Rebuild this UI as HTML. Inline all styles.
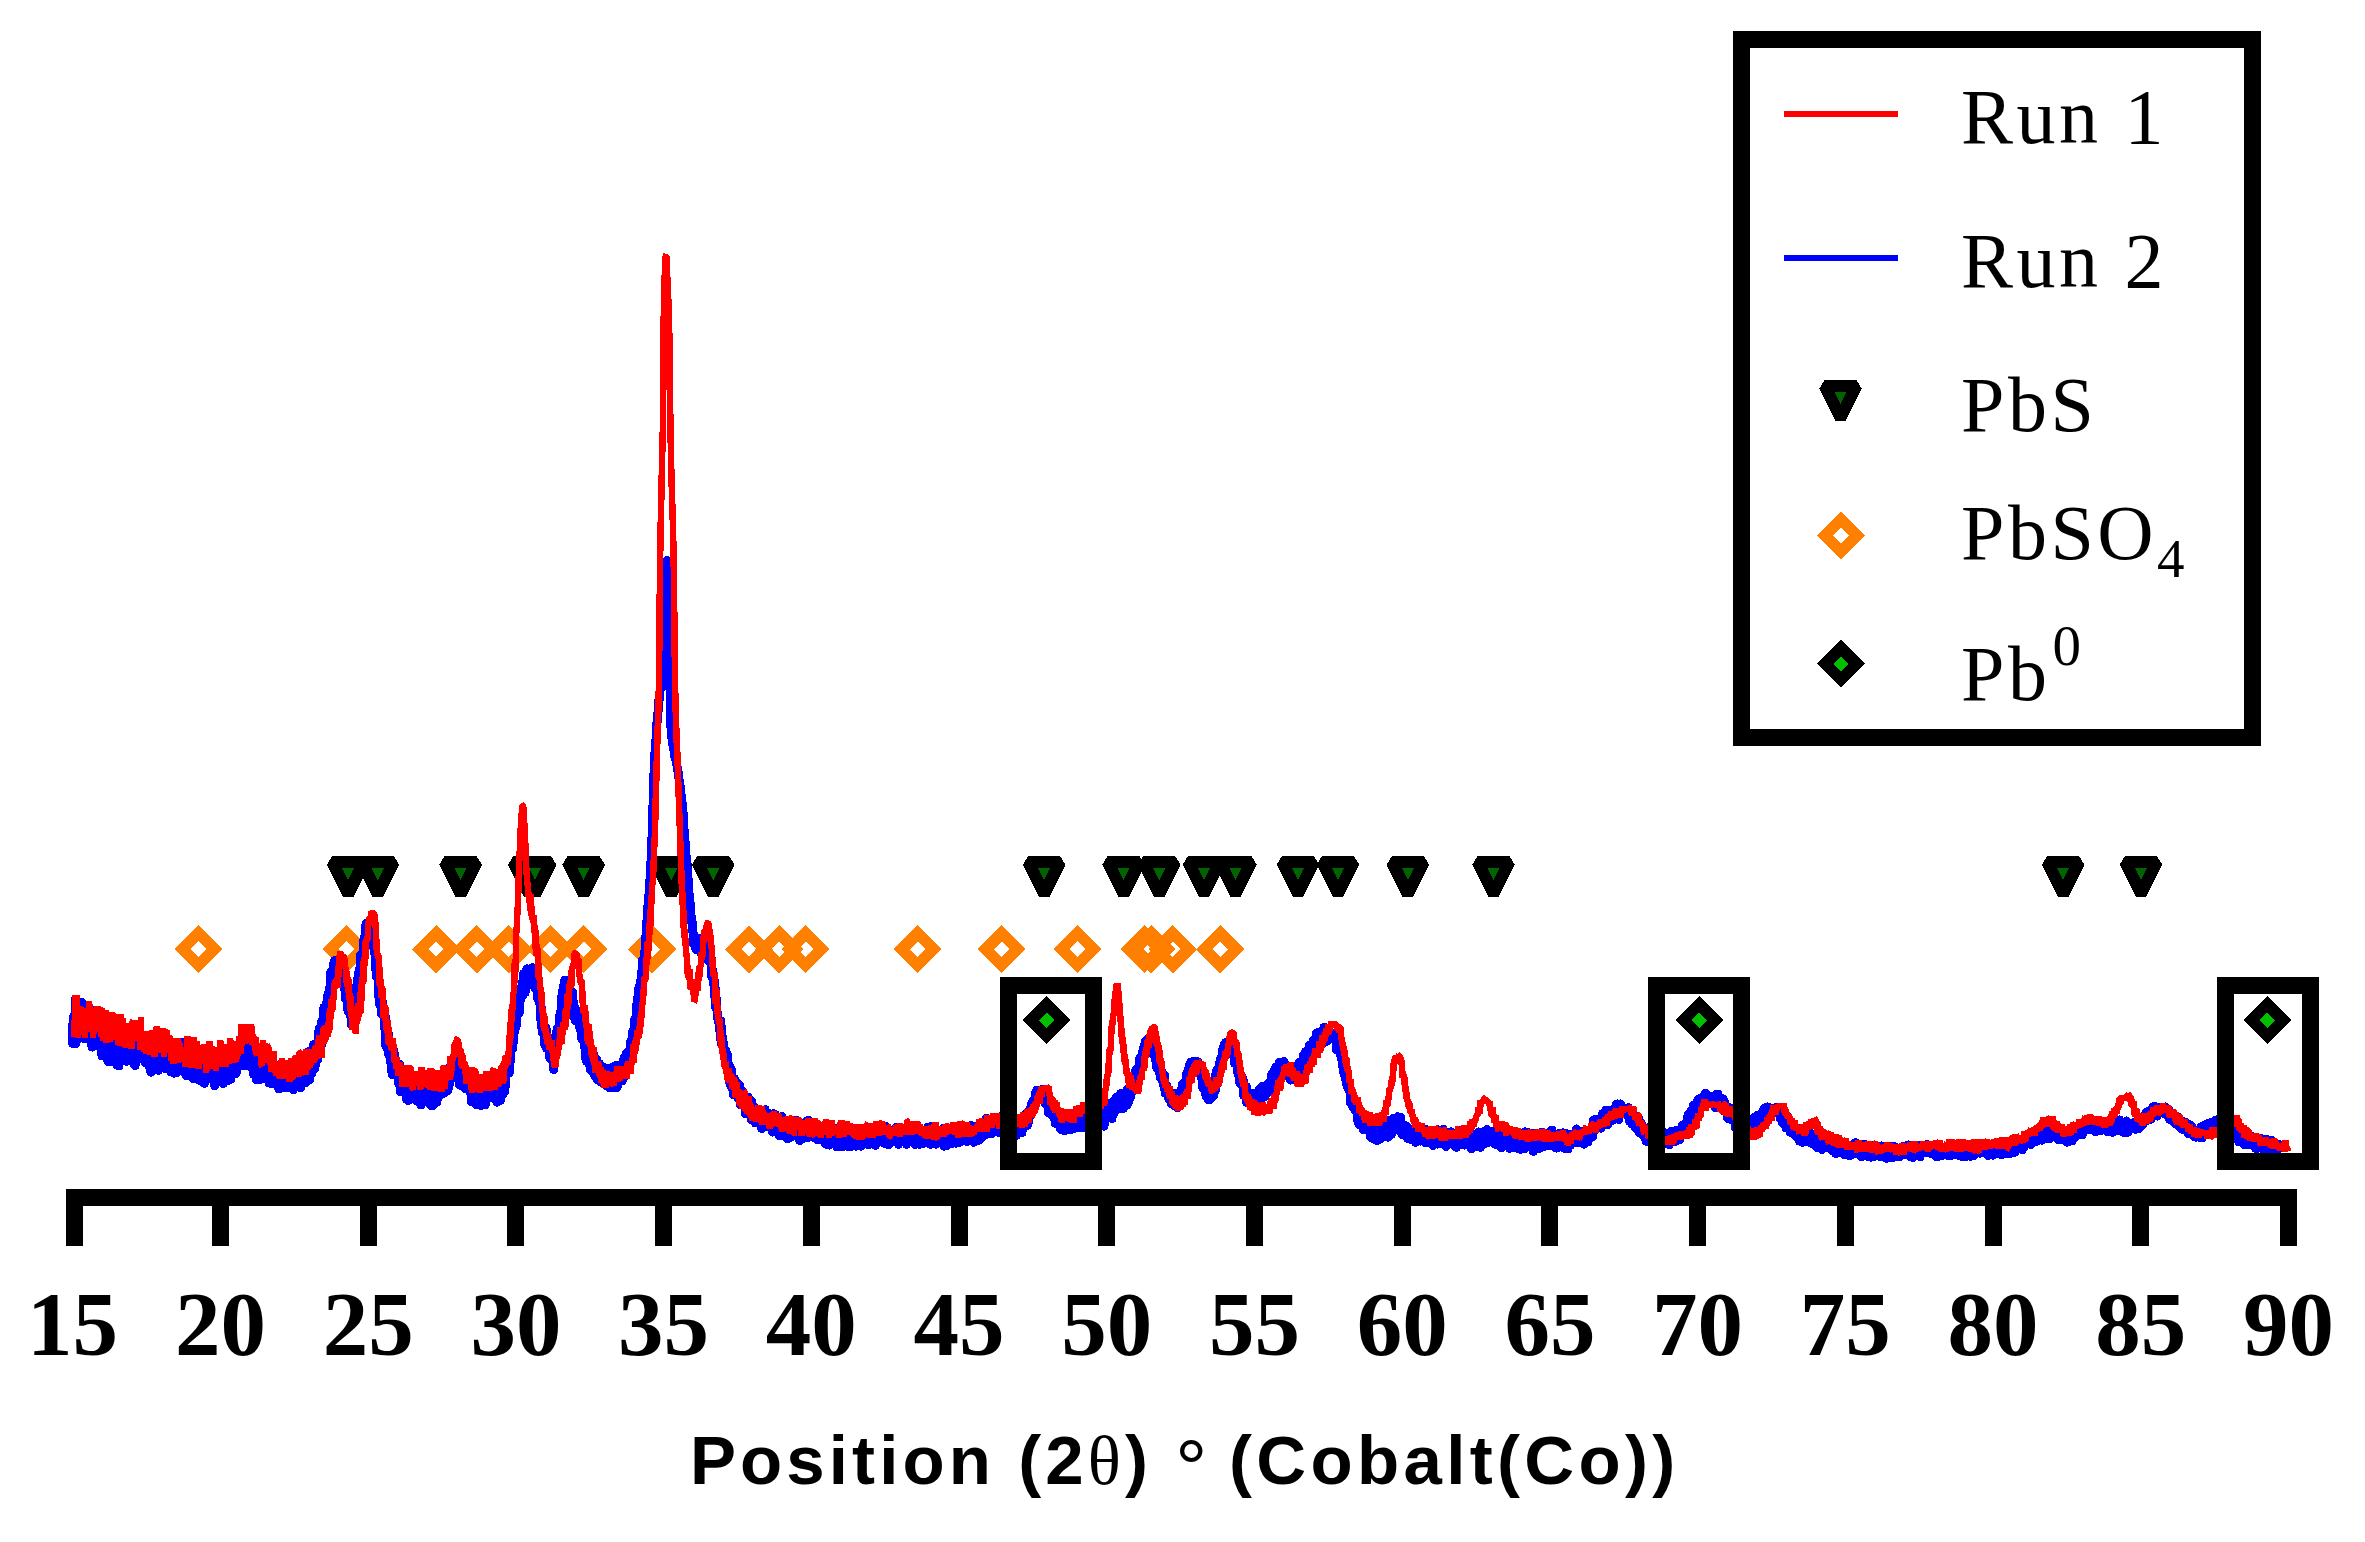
<!DOCTYPE html>
<html><head><meta charset="utf-8"><title>XRD pattern</title>
<style>html,body{margin:0;padding:0;background:#fff;}body{width:2365px;height:1542px;overflow:hidden;}svg{display:block;}</style>
</head><body>
<svg width="2365" height="1542" viewBox="0 0 2365 1542" shape-rendering="crispEdges">
<rect width="2365" height="1542" fill="#fff"/>
<g id="pbs"><polygon points="332.2,862.0 364.0,862.0 348.1,893.8" fill="#006400" stroke="#000" stroke-width="12.15" stroke-linejoin="bevel"/><polygon points="361.9,862.0 393.7,862.0 377.8,893.8" fill="#006400" stroke="#000" stroke-width="12.15" stroke-linejoin="bevel"/><polygon points="444.7,862.0 476.5,862.0 460.6,893.8" fill="#006400" stroke="#000" stroke-width="12.15" stroke-linejoin="bevel"/><polygon points="513.4,862.0 545.2,862.0 529.3,893.8" fill="#006400" stroke="#000" stroke-width="12.15" stroke-linejoin="bevel"/><polygon points="519.2,862.0 551.0,862.0 535.1,893.8" fill="#006400" stroke="#000" stroke-width="12.15" stroke-linejoin="bevel"/><polygon points="567.7,862.0 599.5,862.0 583.6,893.8" fill="#006400" stroke="#000" stroke-width="12.15" stroke-linejoin="bevel"/><polygon points="655.3,862.0 687.1,862.0 671.2,893.8" fill="#006400" stroke="#000" stroke-width="12.15" stroke-linejoin="bevel"/><polygon points="697.3,862.0 729.1,862.0 713.2,893.8" fill="#006400" stroke="#000" stroke-width="12.15" stroke-linejoin="bevel"/><polygon points="1028.2,862.0 1060.0,862.0 1044.1,893.8" fill="#006400" stroke="#000" stroke-width="12.15" stroke-linejoin="bevel"/><polygon points="1107.7,862.0 1139.5,862.0 1123.6,893.8" fill="#006400" stroke="#000" stroke-width="12.15" stroke-linejoin="bevel"/><polygon points="1143.3,862.0 1175.1,862.0 1159.2,893.8" fill="#006400" stroke="#000" stroke-width="12.15" stroke-linejoin="bevel"/><polygon points="1188.1,862.0 1219.9,862.0 1204.0,893.8" fill="#006400" stroke="#000" stroke-width="12.15" stroke-linejoin="bevel"/><polygon points="1219.6,862.0 1251.4,862.0 1235.5,893.8" fill="#006400" stroke="#000" stroke-width="12.15" stroke-linejoin="bevel"/><polygon points="1282.1,862.0 1313.9,862.0 1298.0,893.8" fill="#006400" stroke="#000" stroke-width="12.15" stroke-linejoin="bevel"/><polygon points="1322.1,862.0 1353.9,862.0 1338.0,893.8" fill="#006400" stroke="#000" stroke-width="12.15" stroke-linejoin="bevel"/><polygon points="1392.0,862.0 1423.8,862.0 1407.9,893.8" fill="#006400" stroke="#000" stroke-width="12.15" stroke-linejoin="bevel"/><polygon points="1477.6,862.0 1509.4,862.0 1493.5,893.8" fill="#006400" stroke="#000" stroke-width="12.15" stroke-linejoin="bevel"/><polygon points="2047.2,862.0 2079.0,862.0 2063.1,893.8" fill="#006400" stroke="#000" stroke-width="12.15" stroke-linejoin="bevel"/><polygon points="2125.1,862.0 2156.9,862.0 2141.0,893.8" fill="#006400" stroke="#000" stroke-width="12.15" stroke-linejoin="bevel"/></g>
<g id="pbso4"><polygon points="198.5,933.3 214.4,949.2 198.5,965.1 182.6,949.2" fill="none" stroke="#ff8000" stroke-width="11.6" stroke-linejoin="miter"/><polygon points="346.5,933.3 362.4,949.2 346.5,965.1 330.6,949.2" fill="none" stroke="#ff8000" stroke-width="11.6" stroke-linejoin="miter"/><polygon points="436.1,933.3 452.0,949.2 436.1,965.1 420.2,949.2" fill="none" stroke="#ff8000" stroke-width="11.6" stroke-linejoin="miter"/><polygon points="476.8,933.3 492.7,949.2 476.8,965.1 460.9,949.2" fill="none" stroke="#ff8000" stroke-width="11.6" stroke-linejoin="miter"/><polygon points="508.8,933.3 524.7,949.2 508.8,965.1 492.9,949.2" fill="none" stroke="#ff8000" stroke-width="11.6" stroke-linejoin="miter"/><polygon points="550.3,933.3 566.2,949.2 550.3,965.1 534.4,949.2" fill="none" stroke="#ff8000" stroke-width="11.6" stroke-linejoin="miter"/><polygon points="583.6,933.3 599.5,949.2 583.6,965.1 567.7,949.2" fill="none" stroke="#ff8000" stroke-width="11.6" stroke-linejoin="miter"/><polygon points="652.2,933.3 668.1,949.2 652.2,965.1 636.3,949.2" fill="none" stroke="#ff8000" stroke-width="11.6" stroke-linejoin="miter"/><polygon points="749.0,933.3 764.9,949.2 749.0,965.1 733.1,949.2" fill="none" stroke="#ff8000" stroke-width="11.6" stroke-linejoin="miter"/><polygon points="779.2,933.3 795.1,949.2 779.2,965.1 763.3,949.2" fill="none" stroke="#ff8000" stroke-width="11.6" stroke-linejoin="miter"/><polygon points="805.7,933.3 821.6,949.2 805.7,965.1 789.8,949.2" fill="none" stroke="#ff8000" stroke-width="11.6" stroke-linejoin="miter"/><polygon points="917.7,933.3 933.6,949.2 917.7,965.1 901.8,949.2" fill="none" stroke="#ff8000" stroke-width="11.6" stroke-linejoin="miter"/><polygon points="1001.7,933.3 1017.6,949.2 1001.7,965.1 985.8,949.2" fill="none" stroke="#ff8000" stroke-width="11.6" stroke-linejoin="miter"/><polygon points="1077.5,933.3 1093.4,949.2 1077.5,965.1 1061.6,949.2" fill="none" stroke="#ff8000" stroke-width="11.6" stroke-linejoin="miter"/><polygon points="1144.4,933.3 1160.3,949.2 1144.4,965.1 1128.5,949.2" fill="none" stroke="#ff8000" stroke-width="11.6" stroke-linejoin="miter"/><polygon points="1151.2,933.3 1167.1,949.2 1151.2,965.1 1135.3,949.2" fill="none" stroke="#ff8000" stroke-width="11.6" stroke-linejoin="miter"/><polygon points="1172.8,933.3 1188.7,949.2 1172.8,965.1 1156.9,949.2" fill="none" stroke="#ff8000" stroke-width="11.6" stroke-linejoin="miter"/><polygon points="1220.2,933.3 1236.1,949.2 1220.2,965.1 1204.3,949.2" fill="none" stroke="#ff8000" stroke-width="11.6" stroke-linejoin="miter"/></g>
<path d="M72.0,1025.9 L72.4,1043.3 L72.8,1041.3 L73.2,1017.0 L73.6,1020.5 L74.0,1017.1 L74.4,1031.1 L74.8,1022.1 L75.2,1032.7 L75.6,999.3 L76.0,1043.7 L76.4,1021.8 L76.8,1032.0 L77.2,1021.6 L77.6,1018.8 L78.0,1030.5 L78.4,1035.3 L78.8,1021.6 L79.2,1021.9 L79.6,1033.5 L80.0,1014.6 L80.4,1006.4 L80.8,1030.0 L81.2,1017.7 L81.6,1002.6 L82.0,1016.1 L82.4,1020.8 L82.8,1012.7 L83.2,1009.0 L83.6,1027.6 L84.0,1038.3 L84.4,1024.9 L84.8,1018.7 L85.2,1032.7 L85.6,1036.2 L86.0,1023.3 L86.4,1033.3 L86.8,1038.8 L87.2,1024.1 L87.6,1016.5 L88.0,1030.5 L88.4,1029.7 L88.8,1039.7 L89.2,1012.1 L89.6,1020.6 L90.0,1019.3 L90.4,1009.3 L90.8,1031.4 L91.2,1035.8 L91.6,1021.4 L92.0,1047.1 L92.4,1040.2 L92.8,1038.0 L93.2,1035.5 L93.6,1043.0 L94.0,1016.0 L94.4,1038.5 L94.8,1038.4 L95.2,1011.3 L95.6,1036.0 L96.0,1030.1 L96.4,1041.9 L96.8,1028.3 L97.2,1033.3 L97.6,1038.1 L98.0,1024.2 L98.4,1040.7 L98.8,1033.2 L99.2,1040.1 L99.6,1029.5 L100.0,1047.0 L100.4,1041.7 L100.8,1033.7 L101.2,1043.1 L101.6,1049.3 L102.0,1056.0 L102.4,1020.0 L102.8,1047.0 L103.2,1042.3 L103.6,1037.1 L104.0,1028.3 L104.4,1052.7 L104.8,1026.2 L105.2,1045.8 L105.6,1053.9 L106.0,1024.3 L106.4,1038.6 L106.8,1029.0 L107.2,1045.1 L107.6,1058.1 L108.0,1061.6 L108.4,1025.8 L108.8,1038.2 L109.2,1052.5 L109.6,1061.4 L110.0,1050.0 L110.4,1038.3 L110.8,1048.4 L111.2,1045.7 L111.6,1043.1 L112.0,1038.1 L112.4,1049.2 L112.8,1048.5 L113.2,1045.0 L113.6,1043.8 L114.0,1034.0 L114.4,1042.1 L114.8,1058.3 L115.2,1045.5 L115.6,1034.2 L116.0,1061.2 L116.4,1052.7 L116.8,1065.0 L117.2,1048.4 L117.6,1043.6 L118.0,1035.1 L118.4,1061.4 L118.8,1066.0 L119.2,1041.2 L119.6,1043.2 L120.0,1054.7 L120.4,1041.1 L120.8,1046.3 L121.2,1045.8 L121.6,1050.8 L122.0,1059.5 L122.4,1049.1 L122.8,1057.4 L123.2,1044.6 L123.6,1051.4 L124.0,1030.8 L124.4,1034.1 L124.8,1055.3 L125.2,1042.9 L125.6,1053.8 L126.0,1053.8 L126.4,1061.4 L126.8,1056.5 L127.2,1058.3 L127.6,1048.0 L128.0,1042.6 L128.4,1042.4 L128.8,1044.4 L129.2,1037.5 L129.6,1042.3 L130.0,1045.9 L130.4,1049.1 L130.8,1043.2 L131.2,1029.1 L131.6,1046.2 L132.0,1049.2 L132.4,1057.2 L132.8,1052.4 L133.2,1041.2 L133.6,1040.5 L134.0,1064.3 L134.4,1054.3 L134.8,1064.7 L135.2,1065.6 L135.6,1041.0 L136.0,1052.3 L136.4,1052.8 L136.8,1054.2 L137.2,1053.7 L137.6,1051.0 L138.0,1051.4 L138.4,1034.0 L138.8,1047.4 L139.2,1041.7 L139.6,1050.8 L140.0,1045.1 L140.4,1055.7 L140.8,1058.7 L141.2,1053.8 L141.6,1054.3 L142.0,1052.0 L142.4,1046.7 L142.8,1049.4 L143.2,1046.7 L143.6,1055.3 L144.0,1052.4 L144.4,1058.4 L144.8,1040.6 L145.2,1062.5 L145.6,1046.8 L146.0,1047.1 L146.4,1051.8 L146.8,1048.0 L147.2,1056.6 L147.6,1048.4 L148.0,1043.4 L148.4,1045.7 L148.8,1066.4 L149.2,1054.7 L149.6,1043.4 L150.0,1054.8 L150.4,1040.4 L150.8,1072.2 L151.2,1040.3 L151.6,1060.3 L152.0,1060.9 L152.4,1042.7 L152.8,1059.8 L153.2,1066.8 L153.6,1061.4 L154.0,1059.3 L154.4,1066.4 L154.8,1058.8 L155.2,1059.7 L155.6,1054.4 L156.0,1060.5 L156.4,1045.1 L156.8,1061.2 L157.2,1048.4 L157.6,1043.0 L158.0,1057.3 L158.4,1070.3 L158.8,1063.8 L159.2,1048.8 L159.6,1061.2 L160.0,1049.3 L160.4,1052.4 L160.8,1053.9 L161.2,1035.1 L161.6,1055.0 L162.0,1042.2 L162.4,1045.4 L162.8,1037.7 L163.2,1037.8 L163.6,1043.2 L164.0,1060.3 L164.4,1068.2 L164.8,1051.6 L165.2,1062.8 L165.6,1049.6 L166.0,1034.1 L166.4,1053.7 L166.8,1057.0 L167.2,1048.9 L167.6,1056.2 L168.0,1058.8 L168.4,1044.8 L168.8,1039.0 L169.2,1051.7 L169.6,1051.7 L170.0,1050.2 L170.4,1064.1 L170.8,1071.8 L171.2,1051.2 L171.6,1062.3 L172.0,1064.9 L172.4,1062.5 L172.8,1065.8 L173.2,1051.2 L173.6,1062.3 L174.0,1073.2 L174.4,1063.9 L174.8,1050.1 L175.2,1061.5 L175.6,1068.2 L176.0,1059.5 L176.4,1051.4 L176.8,1072.6 L177.2,1046.2 L177.6,1063.8 L178.0,1058.7 L178.4,1047.0 L178.8,1069.9 L179.2,1062.1 L179.6,1047.3 L180.0,1064.4 L180.4,1054.8 L180.8,1042.0 L181.2,1053.4 L181.6,1062.6 L182.0,1065.9 L182.4,1062.1 L182.8,1061.4 L183.2,1065.8 L183.6,1059.0 L184.0,1072.4 L184.4,1062.8 L184.8,1064.2 L185.2,1066.8 L185.6,1051.0 L186.0,1054.2 L186.4,1075.8 L186.8,1064.1 L187.2,1057.7 L187.6,1063.6 L188.0,1055.3 L188.4,1062.7 L188.8,1054.1 L189.2,1063.3 L189.6,1045.7 L190.0,1073.1 L190.4,1056.4 L190.8,1046.2 L191.2,1059.2 L191.6,1058.0 L192.0,1063.0 L192.4,1050.6 L192.8,1065.4 L193.2,1078.5 L193.6,1050.3 L194.0,1066.0 L194.4,1059.9 L194.8,1064.3 L195.2,1045.7 L195.6,1052.2 L196.0,1067.8 L196.4,1063.0 L196.8,1078.6 L197.2,1056.6 L197.6,1064.3 L198.0,1079.3 L198.4,1055.8 L198.8,1054.6 L199.2,1063.2 L199.6,1063.7 L200.0,1072.5 L200.4,1066.2 L200.8,1058.0 L201.2,1066.3 L201.6,1081.5 L202.0,1076.8 L202.4,1049.7 L202.8,1064.9 L203.2,1058.9 L203.6,1072.4 L204.0,1065.4 L204.4,1083.3 L204.8,1075.6 L205.2,1075.4 L205.6,1069.0 L206.0,1067.0 L206.4,1070.5 L206.8,1079.1 L207.2,1072.7 L207.6,1064.8 L208.0,1079.2 L208.4,1070.1 L208.8,1068.3 L209.2,1062.1 L209.6,1064.3 L210.0,1063.7 L210.4,1053.7 L210.8,1078.7 L211.2,1074.7 L211.6,1067.5 L212.0,1079.0 L212.4,1073.9 L212.8,1073.4 L213.2,1054.2 L213.6,1067.7 L214.0,1074.4 L214.4,1083.6 L214.8,1085.8 L215.2,1082.0 L215.6,1059.1 L216.0,1053.7 L216.4,1074.6 L216.8,1070.5 L217.2,1078.5 L217.6,1069.4 L218.0,1072.9 L218.4,1057.6 L218.8,1074.4 L219.2,1067.1 L219.6,1073.5 L220.0,1074.0 L220.4,1068.6 L220.8,1072.0 L221.2,1069.7 L221.6,1076.7 L222.0,1073.7 L222.4,1064.3 L222.8,1063.5 L223.2,1083.4 L223.6,1066.9 L224.0,1076.2 L224.4,1071.0 L224.8,1063.0 L225.2,1061.4 L225.6,1068.9 L226.0,1069.7 L226.4,1072.4 L226.8,1056.2 L227.2,1061.3 L227.6,1065.3 L228.0,1080.5 L228.4,1050.7 L228.8,1070.1 L229.2,1060.9 L229.6,1069.1 L230.0,1061.2 L230.4,1069.1 L230.8,1079.0 L231.2,1068.2 L231.6,1068.2 L232.0,1067.3 L232.4,1057.4 L232.8,1068.0 L233.2,1061.7 L233.6,1056.3 L234.0,1063.3 L234.4,1060.7 L234.8,1068.4 L235.2,1061.2 L235.6,1056.8 L236.0,1073.4 L236.4,1068.7 L236.8,1071.0 L237.2,1064.8 L237.6,1058.3 L238.0,1055.0 L238.4,1055.7 L238.8,1065.1 L239.2,1057.3 L239.6,1043.1 L240.0,1055.2 L240.4,1042.6 L240.8,1055.5 L241.2,1042.9 L241.6,1041.2 L242.0,1052.4 L242.4,1050.3 L242.8,1036.6 L243.2,1057.1 L243.6,1065.9 L244.0,1037.5 L244.4,1065.9 L244.8,1044.5 L245.2,1045.9 L245.6,1049.2 L246.0,1038.1 L246.4,1062.0 L246.8,1056.2 L247.2,1045.8 L247.6,1050.2 L248.0,1039.9 L248.4,1050.4 L248.8,1061.6 L249.2,1039.4 L249.6,1051.1 L250.0,1056.6 L250.4,1064.7 L250.8,1066.8 L251.2,1052.4 L251.6,1050.4 L252.0,1061.8 L252.4,1055.4 L252.8,1056.9 L253.2,1068.9 L253.6,1074.4 L254.0,1062.5 L254.4,1058.8 L254.8,1066.8 L255.2,1046.9 L255.6,1062.6 L256.0,1054.6 L256.4,1079.6 L256.8,1071.3 L257.2,1066.7 L257.6,1063.9 L258.0,1050.3 L258.4,1071.8 L258.8,1079.5 L259.2,1060.8 L259.6,1073.6 L260.0,1073.8 L260.4,1054.5 L260.8,1075.5 L261.2,1079.2 L261.6,1070.3 L262.0,1068.4 L262.4,1075.7 L262.8,1056.4 L263.2,1069.8 L263.6,1078.0 L264.0,1058.9 L264.4,1077.3 L264.8,1066.0 L265.2,1054.6 L265.6,1069.4 L266.0,1061.6 L266.4,1073.1 L266.8,1060.6 L267.2,1079.4 L267.6,1064.7 L268.0,1074.8 L268.4,1067.3 L268.8,1069.9 L269.2,1083.1 L269.6,1075.7 L270.0,1070.7 L270.4,1063.7 L270.8,1083.6 L271.2,1080.4 L271.6,1071.5 L272.0,1076.8 L272.4,1065.9 L272.8,1066.5 L273.2,1067.9 L273.6,1078.5 L274.0,1078.2 L274.4,1069.7 L274.8,1082.7 L275.2,1082.8 L275.6,1078.1 L276.0,1084.8 L276.4,1073.8 L276.8,1075.6 L277.2,1080.0 L277.6,1075.4 L278.0,1082.6 L278.4,1066.0 L278.8,1088.8 L279.2,1070.4 L279.6,1075.3 L280.0,1064.9 L280.4,1081.3 L280.8,1086.8 L281.2,1085.4 L281.6,1084.1 L282.0,1064.4 L282.4,1070.8 L282.8,1073.6 L283.2,1070.2 L283.6,1087.8 L284.0,1080.4 L284.4,1078.7 L284.8,1083.2 L285.2,1071.0 L285.6,1070.9 L286.0,1071.2 L286.4,1082.8 L286.8,1081.4 L287.2,1083.7 L287.6,1087.9 L288.0,1067.7 L288.4,1074.0 L288.8,1079.9 L289.2,1067.6 L289.6,1074.5 L290.0,1086.8 L290.4,1087.5 L290.8,1087.4 L291.2,1078.9 L291.6,1077.1 L292.0,1087.6 L292.4,1075.7 L292.8,1081.7 L293.2,1089.7 L293.6,1075.6 L294.0,1073.3 L294.4,1078.2 L294.8,1083.2 L295.2,1082.0 L295.6,1079.5 L296.0,1082.2 L296.4,1064.5 L296.8,1069.4 L297.2,1077.8 L297.6,1068.9 L298.0,1065.5 L298.4,1066.2 L298.8,1067.9 L299.2,1073.4 L299.6,1066.2 L300.0,1076.4 L300.4,1087.9 L300.8,1073.0 L301.2,1084.8 L301.6,1076.3 L302.0,1064.7 L302.4,1071.9 L302.8,1065.8 L303.2,1080.0 L303.6,1063.5 L304.0,1082.9 L304.4,1075.5 L304.8,1055.6 L305.2,1076.7 L305.6,1082.4 L306.0,1062.7 L306.4,1077.0 L306.8,1054.4 L307.2,1071.1 L307.6,1054.6 L308.0,1071.4 L308.4,1052.1 L308.8,1051.3 L309.2,1068.7 L309.6,1079.7 L310.0,1059.2 L310.4,1069.9 L310.8,1063.3 L311.2,1058.9 L311.6,1065.6 L312.0,1072.9 L312.4,1049.1 L312.8,1062.3 L313.2,1059.7 L313.6,1044.5 L314.0,1068.1 L314.4,1069.2 L314.8,1045.4 L315.2,1065.6 L315.6,1051.0 L316.0,1048.2 L316.4,1061.2 L316.8,1050.4 L317.2,1051.1 L317.6,1059.4 L318.0,1056.0 L318.4,1051.8 L318.8,1032.0 L319.2,1029.0 L319.6,1049.3 L320.0,1031.3 L320.4,1038.5 L320.8,1027.3 L321.2,1032.8 L321.6,1021.9 L322.0,1043.6 L322.4,1020.1 L322.8,1025.1 L323.2,1022.1 L323.6,1030.9 L324.0,1007.2 L324.4,1015.9 L324.8,1013.1 L325.2,1016.9 L325.6,1014.0 L326.0,1004.8 L326.4,1009.3 L326.8,1001.9 L327.2,1006.2 L327.6,999.4 L328.0,993.9 L328.4,996.7 L328.8,997.9 L329.2,1007.4 L329.6,987.6 L330.0,991.9 L330.4,999.9 L330.8,972.2 L331.2,971.5 L331.6,974.3 L332.0,981.9 L332.4,995.9 L332.8,983.2 L333.2,988.1 L333.6,975.6 L334.0,961.8 L334.4,960.7 L334.8,981.5 L335.2,974.3 L335.6,962.4 L336.0,979.3 L336.4,959.9 L336.8,976.6 L337.2,977.0 L337.6,963.2 L338.0,961.2 L338.4,969.1 L338.8,961.0 L339.2,966.5 L339.6,960.8 L340.0,964.9 L340.4,963.3 L340.8,962.4 L341.2,961.9 L341.6,965.8 L342.0,960.7 L342.4,967.7 L342.8,969.2 L343.2,977.0 L343.6,968.2 L344.0,988.3 L344.4,977.7 L344.8,974.5 L345.2,994.7 L345.6,999.3 L346.0,987.8 L346.4,984.7 L346.8,993.3 L347.2,990.6 L347.6,995.2 L348.0,1011.3 L348.4,1003.5 L348.8,1003.5 L349.2,1007.1 L349.6,1006.0 L350.0,1014.2 L350.4,1015.7 L350.8,1006.8 L351.2,1011.5 L351.6,1025.1 L352.0,1014.3 L352.4,1008.4 L352.8,1022.6 L353.2,1007.4 L353.6,997.4 L354.0,1009.7 L354.4,996.5 L354.8,998.0 L355.2,1002.4 L355.6,997.4 L356.0,990.2 L356.4,989.2 L356.8,985.6 L357.2,996.2 L357.6,979.0 L358.0,977.4 L358.4,993.0 L358.8,972.4 L359.2,985.6 L359.6,981.7 L360.0,967.8 L360.4,955.6 L360.8,967.1 L361.2,965.7 L361.6,966.1 L362.0,956.8 L362.4,962.9 L362.8,961.7 L363.2,941.1 L363.6,956.7 L364.0,945.1 L364.4,937.4 L364.8,937.2 L365.2,947.9 L365.6,940.1 L366.0,923.7 L366.4,932.2 L366.8,929.9 L367.2,928.8 L367.6,926.8 L368.0,923.8 L368.4,928.1 L368.8,924.2 L369.2,925.2 L369.6,924.8 L370.0,925.0 L370.4,930.4 L370.8,930.7 L371.2,927.8 L371.6,927.0 L372.0,930.7 L372.4,941.0 L372.8,938.5 L373.2,942.2 L373.6,941.5 L374.0,945.4 L374.4,952.0 L374.8,940.0 L375.2,968.6 L375.6,954.1 L376.0,958.6 L376.4,976.6 L376.8,971.1 L377.2,973.8 L377.6,972.6 L378.0,969.2 L378.4,986.1 L378.8,996.7 L379.2,984.0 L379.6,1004.2 L380.0,988.8 L380.4,994.5 L380.8,1006.9 L381.2,1005.8 L381.6,1013.6 L382.0,1005.2 L382.4,1005.8 L382.8,1002.9 L383.2,1009.9 L383.6,1013.0 L384.0,1012.4 L384.4,1027.8 L384.8,1022.7 L385.2,1016.4 L385.6,1045.6 L386.0,1028.5 L386.4,1027.1 L386.8,1046.8 L387.2,1048.4 L387.6,1033.0 L388.0,1032.0 L388.4,1037.7 L388.8,1054.9 L389.2,1046.3 L389.6,1044.0 L390.0,1052.1 L390.4,1062.3 L390.8,1045.2 L391.2,1054.1 L391.6,1048.2 L392.0,1073.2 L392.4,1074.5 L392.8,1068.8 L393.2,1062.0 L393.6,1068.7 L394.0,1051.5 L394.4,1068.0 L394.8,1057.3 L395.2,1059.0 L395.6,1064.2 L396.0,1067.4 L396.4,1074.4 L396.8,1076.0 L397.2,1074.2 L397.6,1066.5 L398.0,1079.3 L398.4,1073.9 L398.8,1083.6 L399.2,1069.4 L399.6,1064.1 L400.0,1074.5 L400.4,1091.8 L400.8,1083.3 L401.2,1078.6 L401.6,1087.1 L402.0,1085.3 L402.4,1085.7 L402.8,1078.9 L403.2,1082.9 L403.6,1083.8 L404.0,1078.4 L404.4,1075.6 L404.8,1084.6 L405.2,1091.4 L405.6,1089.7 L406.0,1088.4 L406.4,1089.3 L406.8,1099.6 L407.2,1089.1 L407.6,1094.9 L408.0,1100.6 L408.4,1087.9 L408.8,1089.4 L409.2,1095.0 L409.6,1099.5 L410.0,1089.9 L410.4,1090.7 L410.8,1088.9 L411.2,1079.5 L411.6,1095.9 L412.0,1086.5 L412.4,1076.8 L412.8,1087.8 L413.2,1077.1 L413.6,1082.6 L414.0,1089.8 L414.4,1083.6 L414.8,1097.8 L415.2,1079.6 L415.6,1091.6 L416.0,1093.9 L416.4,1100.7 L416.8,1097.5 L417.2,1092.9 L417.6,1091.7 L418.0,1090.8 L418.4,1099.0 L418.8,1086.7 L419.2,1095.1 L419.6,1091.0 L420.0,1093.6 L420.4,1090.1 L420.8,1104.9 L421.2,1087.4 L421.6,1093.9 L422.0,1094.0 L422.4,1096.3 L422.8,1095.3 L423.2,1095.5 L423.6,1099.8 L424.0,1082.9 L424.4,1093.0 L424.8,1084.1 L425.2,1094.3 L425.6,1084.5 L426.0,1086.1 L426.4,1092.6 L426.8,1102.0 L427.2,1095.9 L427.6,1094.0 L428.0,1102.0 L428.4,1085.5 L428.8,1079.4 L429.2,1089.1 L429.6,1090.0 L430.0,1100.8 L430.4,1104.9 L430.8,1083.2 L431.2,1105.5 L431.6,1104.0 L432.0,1099.0 L432.4,1095.5 L432.8,1105.4 L433.2,1093.5 L433.6,1089.6 L434.0,1093.6 L434.4,1083.6 L434.8,1096.2 L435.2,1091.8 L435.6,1095.1 L436.0,1095.5 L436.4,1085.3 L436.8,1102.2 L437.2,1085.7 L437.6,1099.0 L438.0,1081.8 L438.4,1094.8 L438.8,1086.6 L439.2,1092.3 L439.6,1087.3 L440.0,1079.0 L440.4,1083.5 L440.8,1090.9 L441.2,1094.3 L441.6,1079.1 L442.0,1076.0 L442.4,1082.4 L442.8,1086.5 L443.2,1083.2 L443.6,1081.3 L444.0,1092.3 L444.4,1092.9 L444.8,1091.5 L445.2,1079.6 L445.6,1086.2 L446.0,1083.6 L446.4,1074.2 L446.8,1089.3 L447.2,1083.6 L447.6,1078.9 L448.0,1090.4 L448.4,1084.5 L448.8,1084.2 L449.2,1085.5 L449.6,1080.8 L450.0,1066.3 L450.4,1070.8 L450.8,1079.5 L451.2,1065.8 L451.6,1070.2 L452.0,1071.0 L452.4,1077.5 L452.8,1074.8 L453.2,1071.0 L453.6,1062.8 L454.0,1069.9 L454.4,1066.5 L454.8,1061.4 L455.2,1072.2 L455.6,1066.5 L456.0,1058.0 L456.4,1072.7 L456.8,1063.3 L457.2,1070.2 L457.6,1057.1 L458.0,1068.7 L458.4,1063.2 L458.8,1064.5 L459.2,1059.4 L459.6,1085.2 L460.0,1072.1 L460.4,1075.7 L460.8,1082.6 L461.2,1075.1 L461.6,1080.2 L462.0,1068.3 L462.4,1080.3 L462.8,1076.4 L463.2,1083.5 L463.6,1082.1 L464.0,1072.1 L464.4,1070.0 L464.8,1076.3 L465.2,1088.6 L465.6,1086.8 L466.0,1087.2 L466.4,1072.5 L466.8,1072.8 L467.2,1081.6 L467.6,1083.2 L468.0,1081.5 L468.4,1089.0 L468.8,1085.6 L469.2,1078.7 L469.6,1081.0 L470.0,1088.9 L470.4,1088.4 L470.8,1088.2 L471.2,1101.6 L471.6,1087.4 L472.0,1090.2 L472.4,1083.1 L472.8,1087.6 L473.2,1094.1 L473.6,1094.4 L474.0,1089.7 L474.4,1093.7 L474.8,1091.7 L475.2,1078.6 L475.6,1079.0 L476.0,1104.6 L476.4,1098.3 L476.8,1092.6 L477.2,1081.2 L477.6,1084.0 L478.0,1102.0 L478.4,1080.0 L478.8,1090.4 L479.2,1098.9 L479.6,1093.9 L480.0,1098.2 L480.4,1092.5 L480.8,1105.6 L481.2,1086.3 L481.6,1084.2 L482.0,1096.0 L482.4,1104.3 L482.8,1094.3 L483.2,1102.3 L483.6,1091.7 L484.0,1086.5 L484.4,1104.2 L484.8,1105.0 L485.2,1104.6 L485.6,1091.1 L486.0,1086.4 L486.4,1085.9 L486.8,1091.7 L487.2,1097.2 L487.6,1097.0 L488.0,1083.8 L488.4,1095.2 L488.8,1093.8 L489.2,1094.3 L489.6,1093.5 L490.0,1092.4 L490.4,1097.5 L490.8,1094.3 L491.2,1094.4 L491.6,1087.5 L492.0,1095.2 L492.4,1091.5 L492.8,1079.5 L493.2,1094.8 L493.6,1089.3 L494.0,1097.4 L494.4,1089.3 L494.8,1089.9 L495.2,1091.6 L495.6,1090.0 L496.0,1086.6 L496.4,1077.1 L496.8,1102.2 L497.2,1078.7 L497.6,1087.2 L498.0,1093.8 L498.4,1092.1 L498.8,1093.2 L499.2,1094.4 L499.6,1097.4 L500.0,1090.5 L500.4,1100.2 L500.8,1080.6 L501.2,1089.2 L501.6,1084.2 L502.0,1082.7 L502.4,1087.4 L502.8,1094.6 L503.2,1078.2 L503.6,1077.0 L504.0,1085.7 L504.4,1083.7 L504.8,1090.9 L505.2,1084.6 L505.6,1077.6 L506.0,1072.3 L506.4,1073.9 L506.8,1070.0 L507.2,1060.5 L507.6,1068.5 L508.0,1065.6 L508.4,1063.5 L508.8,1060.0 L509.2,1072.7 L509.6,1064.0 L510.0,1063.2 L510.4,1050.7 L510.8,1045.9 L511.2,1048.6 L511.6,1050.2 L512.0,1044.1 L512.4,1042.5 L512.8,1048.1 L513.2,1041.2 L513.6,1030.0 L514.0,1031.8 L514.4,1027.5 L514.8,1031.2 L515.2,1019.1 L515.6,1023.5 L516.0,1026.9 L516.4,1019.4 L516.8,1011.1 L517.2,1010.5 L517.6,1013.3 L518.0,1013.6 L518.4,1014.3 L518.8,1005.2 L519.2,995.3 L519.6,1011.8 L520.0,1001.8 L520.4,1000.2 L520.8,998.4 L521.2,987.5 L521.6,990.2 L522.0,992.2 L522.4,995.8 L522.8,987.9 L523.2,974.0 L523.6,983.8 L524.0,986.6 L524.4,991.7 L524.8,986.2 L525.2,992.3 L525.6,988.2 L526.0,986.5 L526.4,983.2 L526.8,968.8 L527.2,980.8 L527.6,978.5 L528.0,972.2 L528.4,976.1 L528.8,974.7 L529.2,971.3 L529.6,971.9 L530.0,971.4 L530.4,972.2 L530.8,970.8 L531.2,972.5 L531.6,968.1 L532.0,971.4 L532.4,967.6 L532.8,971.4 L533.2,975.7 L533.6,974.9 L534.0,975.6 L534.4,977.8 L534.8,988.0 L535.2,973.2 L535.6,987.0 L536.0,973.8 L536.4,982.4 L536.8,988.8 L537.2,984.2 L537.6,993.6 L538.0,999.4 L538.4,988.8 L538.8,998.3 L539.2,998.8 L539.6,991.3 L540.0,1004.4 L540.4,1002.9 L540.8,1019.8 L541.2,1007.6 L541.6,1027.0 L542.0,1014.6 L542.4,1032.9 L542.8,1026.7 L543.2,1028.3 L543.6,1033.0 L544.0,1035.9 L544.4,1040.9 L544.8,1045.1 L545.2,1033.8 L545.6,1030.0 L546.0,1028.2 L546.4,1039.5 L546.8,1048.7 L547.2,1047.9 L547.6,1047.9 L548.0,1046.2 L548.4,1045.6 L548.8,1048.9 L549.2,1054.3 L549.6,1040.9 L550.0,1058.5 L550.4,1045.0 L550.8,1054.7 L551.2,1052.2 L551.6,1054.5 L552.0,1050.4 L552.4,1050.0 L552.8,1056.3 L553.2,1050.5 L553.6,1069.4 L554.0,1053.1 L554.4,1050.0 L554.8,1048.7 L555.2,1043.1 L555.6,1035.8 L556.0,1043.7 L556.4,1045.0 L556.8,1030.8 L557.2,1038.6 L557.6,1028.2 L558.0,1033.0 L558.4,1032.5 L558.8,1030.2 L559.2,1027.0 L559.6,1016.2 L560.0,1023.1 L560.4,1011.7 L560.8,1014.1 L561.2,1013.8 L561.6,1003.8 L562.0,994.9 L562.4,1002.9 L562.8,990.3 L563.2,988.6 L563.6,985.6 L564.0,991.9 L564.4,986.2 L564.8,980.0 L565.2,985.5 L565.6,986.1 L566.0,984.8 L566.4,980.4 L566.8,981.5 L567.2,983.0 L567.6,985.0 L568.0,983.9 L568.4,981.2 L568.8,989.2 L569.2,990.5 L569.6,982.4 L570.0,988.4 L570.4,993.2 L570.8,993.0 L571.2,997.5 L571.6,1001.0 L572.0,1001.2 L572.4,998.8 L572.8,992.3 L573.2,1006.7 L573.6,1013.2 L574.0,1017.4 L574.4,1007.0 L574.8,1008.6 L575.2,1019.5 L575.6,1021.1 L576.0,1015.4 L576.4,1019.1 L576.8,1010.9 L577.2,1021.2 L577.6,1013.3 L578.0,1018.6 L578.4,1020.2 L578.8,1019.4 L579.2,1012.4 L579.6,1019.7 L580.0,1029.0 L580.4,1028.0 L580.8,1027.2 L581.2,1033.5 L581.6,1036.6 L582.0,1039.3 L582.4,1030.4 L582.8,1037.0 L583.2,1035.6 L583.6,1033.9 L584.0,1031.5 L584.4,1041.3 L584.8,1037.7 L585.2,1057.1 L585.6,1046.0 L586.0,1046.5 L586.4,1046.4 L586.8,1061.6 L587.2,1045.5 L587.6,1051.5 L588.0,1049.0 L588.4,1054.6 L588.8,1056.4 L589.2,1064.4 L589.6,1048.8 L590.0,1058.6 L590.4,1070.0 L590.8,1057.1 L591.2,1060.2 L591.6,1056.6 L592.0,1051.4 L592.4,1063.3 L592.8,1072.5 L593.2,1062.7 L593.6,1054.6 L594.0,1069.2 L594.4,1069.1 L594.8,1075.5 L595.2,1075.6 L595.6,1068.5 L596.0,1073.1 L596.4,1059.5 L596.8,1078.9 L597.2,1073.4 L597.6,1079.8 L598.0,1080.2 L598.4,1072.3 L598.8,1073.6 L599.2,1069.6 L599.6,1063.9 L600.0,1075.2 L600.4,1077.6 L600.8,1070.4 L601.2,1082.0 L601.6,1078.7 L602.0,1080.9 L602.4,1073.3 L602.8,1066.8 L603.2,1083.4 L603.6,1083.0 L604.0,1078.7 L604.4,1076.9 L604.8,1078.2 L605.2,1079.2 L605.6,1076.7 L606.0,1068.5 L606.4,1085.5 L606.8,1070.8 L607.2,1078.6 L607.6,1078.4 L608.0,1081.9 L608.4,1069.7 L608.8,1087.4 L609.2,1083.8 L609.6,1084.4 L610.0,1087.7 L610.4,1074.5 L610.8,1068.1 L611.2,1082.1 L611.6,1087.7 L612.0,1086.6 L612.4,1075.5 L612.8,1077.8 L613.2,1080.1 L613.6,1066.7 L614.0,1073.9 L614.4,1073.4 L614.8,1087.1 L615.2,1072.7 L615.6,1086.4 L616.0,1076.4 L616.4,1065.4 L616.8,1087.4 L617.2,1069.1 L617.6,1079.2 L618.0,1085.3 L618.4,1071.0 L618.8,1066.3 L619.2,1080.7 L619.6,1074.2 L620.0,1066.0 L620.4,1066.3 L620.8,1069.9 L621.2,1077.7 L621.6,1069.6 L622.0,1074.8 L622.4,1080.7 L622.8,1078.3 L623.2,1078.6 L623.6,1076.5 L624.0,1057.7 L624.4,1074.5 L624.8,1068.4 L625.2,1064.9 L625.6,1058.2 L626.0,1054.0 L626.4,1055.7 L626.8,1061.0 L627.2,1052.9 L627.6,1053.8 L628.0,1053.6 L628.4,1060.2 L628.8,1052.5 L629.2,1051.9 L629.6,1059.8 L630.0,1048.0 L630.4,1052.1 L630.8,1040.6 L631.2,1047.7 L631.6,1044.2 L632.0,1042.6 L632.4,1036.7 L632.8,1031.4 L633.2,1033.8 L633.6,1030.4 L634.0,1037.6 L634.4,1034.8 L634.8,1019.3 L635.2,1028.0 L635.6,1018.8 L636.0,1021.7 L636.4,1012.9 L636.8,1003.8 L637.2,1016.2 L637.6,1009.7 L638.0,995.8 L638.4,989.3 L638.8,994.2 L639.2,986.9 L639.6,988.4 L640.0,991.7 L640.4,993.9 L640.8,980.1 L641.2,988.3 L641.6,984.1 L642.0,970.9 L642.4,960.6 L642.8,973.3 L643.2,968.2 L643.6,972.9 L644.0,967.4 L644.4,959.7 L644.8,961.5 L645.2,939.9 L645.6,943.3 L646.0,935.4 L646.4,942.6 L646.8,930.2 L647.2,911.4 L647.6,923.7 L648.0,905.5 L648.4,908.4 L648.8,896.1 L649.2,893.4 L649.6,888.7 L650.0,879.2 L650.4,867.0 L650.8,868.0 L651.2,855.2 L651.6,844.6 L652.0,837.1 L652.4,822.3 L652.8,814.2 L653.2,796.7 L653.6,784.1 L654.0,773.7 L654.4,763.1 L654.8,754.9 L655.2,750.4 L655.6,744.2 L656.0,739.8 L656.4,732.4 L656.8,724.1 L657.2,721.7 L657.6,717.3 L658.0,712.6 L658.4,706.9 L658.8,699.8 L659.2,700.3 L659.6,693.1 L660.0,691.7 L660.4,683.6 L660.8,683.5 L661.2,675.6 L661.6,673.4 L662.0,668.6 L662.4,661.2 L662.8,650.5 L663.2,643.9 L663.6,636.7 L664.0,630.9 L664.4,621.7 L664.8,612.3 L665.2,602.7 L665.6,592.1 L666.0,580.1 L666.4,570.5 L666.8,560.6 L667.2,560.7 L667.6,568.5 L668.0,579.3 L668.4,594.7 L668.8,622.8 L669.2,651.5 L669.6,671.6 L670.0,690.3 L670.4,712.9 L670.8,724.5 L671.2,731.0 L671.6,734.1 L672.0,739.1 L672.4,741.7 L672.8,743.9 L673.2,746.7 L673.6,747.5 L674.0,750.1 L674.4,755.5 L674.8,754.6 L675.2,758.4 L675.6,759.3 L676.0,760.4 L676.4,762.5 L676.8,763.9 L677.2,767.5 L677.6,768.6 L678.0,771.2 L678.4,776.7 L678.8,776.6 L679.2,781.4 L679.6,782.3 L680.0,786.0 L680.4,786.2 L680.8,790.5 L681.2,796.6 L681.6,798.1 L682.0,802.0 L682.4,804.9 L682.8,811.4 L683.2,813.2 L683.6,819.6 L684.0,828.7 L684.4,835.7 L684.8,838.0 L685.2,844.4 L685.6,849.4 L686.0,855.6 L686.4,857.5 L686.8,862.0 L687.2,871.8 L687.6,870.4 L688.0,878.3 L688.4,884.4 L688.8,887.2 L689.2,897.4 L689.6,898.5 L690.0,904.1 L690.4,904.0 L690.8,909.4 L691.2,919.0 L691.6,921.9 L692.0,921.2 L692.4,928.7 L692.8,930.8 L693.2,933.5 L693.6,944.1 L694.0,935.5 L694.4,942.2 L694.8,943.9 L695.2,941.8 L695.6,937.7 L696.0,949.5 L696.4,947.7 L696.8,947.3 L697.2,947.9 L697.6,948.5 L698.0,943.3 L698.4,950.1 L698.8,938.2 L699.2,948.4 L699.6,939.7 L700.0,946.6 L700.4,952.1 L700.8,945.8 L701.2,943.8 L701.6,949.6 L702.0,944.8 L702.4,944.1 L702.8,944.4 L703.2,955.4 L703.6,950.7 L704.0,949.8 L704.4,939.8 L704.8,950.2 L705.2,939.7 L705.6,949.9 L706.0,941.2 L706.4,958.8 L706.8,938.7 L707.2,955.7 L707.6,953.6 L708.0,940.0 L708.4,949.9 L708.8,960.9 L709.2,960.6 L709.6,945.7 L710.0,954.2 L710.4,952.3 L710.8,954.8 L711.2,959.2 L711.6,976.6 L712.0,968.9 L712.4,969.5 L712.8,971.9 L713.2,980.9 L713.6,984.5 L714.0,978.1 L714.4,995.4 L714.8,983.4 L715.2,991.0 L715.6,998.5 L716.0,1008.7 L716.4,999.1 L716.8,1006.0 L717.2,1015.1 L717.6,1013.9 L718.0,1019.8 L718.4,1022.1 L718.8,1020.6 L719.2,1025.4 L719.6,1029.8 L720.0,1026.7 L720.4,1038.6 L720.8,1021.0 L721.2,1028.0 L721.6,1044.5 L722.0,1040.8 L722.4,1036.6 L722.8,1044.5 L723.2,1050.7 L723.6,1043.1 L724.0,1052.7 L724.4,1049.3 L724.8,1051.5 L725.2,1053.9 L725.6,1062.3 L726.0,1051.3 L726.4,1057.4 L726.8,1065.0 L727.2,1055.5 L727.6,1055.0 L728.0,1069.1 L728.4,1067.2 L728.8,1068.1 L729.2,1071.2 L729.6,1066.0 L730.0,1083.8 L730.4,1069.0 L730.8,1073.4 L731.2,1069.0 L731.6,1076.0 L732.0,1088.4 L732.4,1080.9 L732.8,1085.6 L733.2,1080.5 L733.6,1094.8 L734.0,1086.2 L734.4,1078.8 L734.8,1091.1 L735.2,1085.2 L735.6,1092.1 L736.0,1090.3 L736.4,1091.7 L736.8,1092.0 L737.2,1086.6 L737.6,1083.5 L738.0,1098.3 L738.4,1092.7 L738.8,1096.0 L739.2,1092.3 L739.6,1085.4 L740.0,1088.9 L740.4,1104.9 L740.8,1093.0 L741.2,1096.3 L741.6,1090.4 L742.0,1096.2 L742.4,1097.6 L742.8,1099.1 L743.2,1100.5 L743.6,1097.6 L744.0,1098.4 L744.4,1102.2 L744.8,1104.6 L745.2,1102.7 L745.6,1113.9 L746.0,1105.6 L746.4,1105.6 L746.8,1101.6 L747.2,1111.3 L747.6,1100.1 L748.0,1097.2 L748.4,1101.2 L748.8,1110.6 L749.2,1100.8 L749.6,1115.2 L750.0,1108.4 L750.4,1100.3 L750.8,1108.1 L751.2,1119.8 L751.6,1105.0 L752.0,1102.5 L752.4,1113.0 L752.8,1117.9 L753.2,1116.6 L753.6,1109.3 L754.0,1112.5 L754.4,1113.4 L754.8,1118.8 L755.2,1123.0 L755.6,1112.3 L756.0,1120.4 L756.4,1111.3 L756.8,1117.2 L757.2,1108.9 L757.6,1110.1 L758.0,1117.4 L758.4,1110.8 L758.8,1120.8 L759.2,1112.9 L759.6,1117.0 L760.0,1116.4 L760.4,1115.3 L760.8,1118.1 L761.2,1123.3 L761.6,1128.4 L762.0,1111.4 L762.4,1119.7 L762.8,1117.2 L763.2,1113.5 L763.6,1120.2 L764.0,1114.1 L764.4,1118.5 L764.8,1126.3 L765.2,1109.8 L765.6,1120.9 L766.0,1121.7 L766.4,1114.1 L766.8,1122.7 L767.2,1121.7 L767.6,1118.0 L768.0,1126.9 L768.4,1113.1 L768.8,1124.6 L769.2,1119.8 L769.6,1115.5 L770.0,1120.7 L770.4,1120.3 L770.8,1127.1 L771.2,1114.0 L771.6,1121.3 L772.0,1120.4 L772.4,1132.1 L772.8,1117.2 L773.2,1129.3 L773.6,1113.8 L774.0,1125.4 L774.4,1123.1 L774.8,1126.1 L775.2,1120.4 L775.6,1114.7 L776.0,1115.9 L776.4,1131.7 L776.8,1125.7 L777.2,1119.8 L777.6,1129.5 L778.0,1120.4 L778.4,1120.7 L778.8,1118.0 L779.2,1131.6 L779.6,1136.0 L780.0,1120.0 L780.4,1127.1 L780.8,1130.9 L781.2,1135.9 L781.6,1116.5 L782.0,1126.9 L782.4,1130.0 L782.8,1118.6 L783.2,1129.3 L783.6,1128.4 L784.0,1131.3 L784.4,1124.4 L784.8,1130.1 L785.2,1124.7 L785.6,1131.6 L786.0,1129.5 L786.4,1126.9 L786.8,1121.7 L787.2,1138.4 L787.6,1135.6 L788.0,1134.7 L788.4,1126.1 L788.8,1127.7 L789.2,1138.2 L789.6,1133.3 L790.0,1124.6 L790.4,1129.6 L790.8,1129.9 L791.2,1128.2 L791.6,1124.3 L792.0,1136.6 L792.4,1132.7 L792.8,1128.3 L793.2,1120.9 L793.6,1126.5 L794.0,1129.6 L794.4,1134.4 L794.8,1127.5 L795.2,1135.3 L795.6,1130.4 L796.0,1126.1 L796.4,1120.5 L796.8,1123.6 L797.2,1122.2 L797.6,1129.1 L798.0,1132.2 L798.4,1138.1 L798.8,1130.4 L799.2,1124.2 L799.6,1140.4 L800.0,1132.3 L800.4,1129.4 L800.8,1129.0 L801.2,1123.1 L801.6,1133.6 L802.0,1132.3 L802.4,1138.9 L802.8,1136.2 L803.2,1135.3 L803.6,1137.4 L804.0,1128.8 L804.4,1128.5 L804.8,1130.6 L805.2,1124.2 L805.6,1129.7 L806.0,1128.6 L806.4,1133.6 L806.8,1130.2 L807.2,1120.7 L807.6,1130.0 L808.0,1137.3 L808.4,1120.2 L808.8,1126.3 L809.2,1130.6 L809.6,1123.9 L810.0,1128.0 L810.4,1131.4 L810.8,1123.9 L811.2,1132.5 L811.6,1132.9 L812.0,1124.0 L812.4,1131.2 L812.8,1137.1 L813.2,1130.4 L813.6,1134.2 L814.0,1135.4 L814.4,1131.1 L814.8,1137.5 L815.2,1134.5 L815.6,1127.4 L816.0,1134.9 L816.4,1136.6 L816.8,1136.8 L817.2,1129.2 L817.6,1135.1 L818.0,1139.9 L818.4,1134.0 L818.8,1139.4 L819.2,1139.9 L819.6,1132.8 L820.0,1136.7 L820.4,1131.2 L820.8,1138.3 L821.2,1132.8 L821.6,1130.6 L822.0,1133.5 L822.4,1132.9 L822.8,1135.4 L823.2,1136.3 L823.6,1127.6 L824.0,1130.5 L824.4,1136.0 L824.8,1136.8 L825.2,1134.6 L825.6,1144.1 L826.0,1140.6 L826.4,1134.3 L826.8,1138.8 L827.2,1142.2 L827.6,1136.8 L828.0,1125.9 L828.4,1136.0 L828.8,1136.0 L829.2,1145.1 L829.6,1126.3 L830.0,1143.8 L830.4,1135.1 L830.8,1140.6 L831.2,1134.5 L831.6,1137.1 L832.0,1142.5 L832.4,1137.3 L832.8,1142.1 L833.2,1136.2 L833.6,1135.3 L834.0,1136.1 L834.4,1134.6 L834.8,1136.7 L835.2,1144.5 L835.6,1131.0 L836.0,1128.7 L836.4,1137.6 L836.8,1146.9 L837.2,1143.4 L837.6,1145.1 L838.0,1144.7 L838.4,1134.9 L838.8,1139.0 L839.2,1128.5 L839.6,1134.8 L840.0,1141.2 L840.4,1129.7 L840.8,1128.2 L841.2,1131.2 L841.6,1138.8 L842.0,1143.4 L842.4,1146.7 L842.8,1145.0 L843.2,1129.7 L843.6,1128.0 L844.0,1138.3 L844.4,1143.0 L844.8,1129.4 L845.2,1134.8 L845.6,1135.2 L846.0,1137.7 L846.4,1136.5 L846.8,1140.2 L847.2,1143.0 L847.6,1137.6 L848.0,1141.7 L848.4,1146.8 L848.8,1132.6 L849.2,1132.5 L849.6,1140.6 L850.0,1146.8 L850.4,1138.8 L850.8,1143.4 L851.2,1136.2 L851.6,1142.5 L852.0,1134.2 L852.4,1140.7 L852.8,1139.1 L853.2,1139.3 L853.6,1144.1 L854.0,1142.3 L854.4,1133.7 L854.8,1141.0 L855.2,1128.0 L855.6,1141.9 L856.0,1146.1 L856.4,1139.8 L856.8,1139.5 L857.2,1137.1 L857.6,1140.7 L858.0,1134.4 L858.4,1140.1 L858.8,1135.3 L859.2,1134.9 L859.6,1137.9 L860.0,1137.1 L860.4,1128.8 L860.8,1146.2 L861.2,1138.3 L861.6,1129.2 L862.0,1143.4 L862.4,1137.8 L862.8,1139.3 L863.2,1141.7 L863.6,1133.6 L864.0,1128.4 L864.4,1137.2 L864.8,1139.0 L865.2,1142.7 L865.6,1133.5 L866.0,1136.1 L866.4,1139.5 L866.8,1136.1 L867.2,1136.3 L867.6,1138.6 L868.0,1132.2 L868.4,1144.9 L868.8,1132.2 L869.2,1136.8 L869.6,1134.8 L870.0,1133.0 L870.4,1139.3 L870.8,1141.6 L871.2,1143.9 L871.6,1139.8 L872.0,1134.7 L872.4,1141.4 L872.8,1129.7 L873.2,1137.1 L873.6,1139.3 L874.0,1139.5 L874.4,1130.9 L874.8,1129.5 L875.2,1145.3 L875.6,1134.2 L876.0,1128.5 L876.4,1130.2 L876.8,1136.5 L877.2,1142.2 L877.6,1136.3 L878.0,1142.5 L878.4,1137.2 L878.8,1138.7 L879.2,1141.2 L879.6,1134.1 L880.0,1137.2 L880.4,1134.0 L880.8,1132.7 L881.2,1139.3 L881.6,1132.1 L882.0,1136.5 L882.4,1131.9 L882.8,1135.1 L883.2,1132.8 L883.6,1140.7 L884.0,1135.6 L884.4,1135.8 L884.8,1143.7 L885.2,1126.3 L885.6,1129.9 L886.0,1126.8 L886.4,1135.9 L886.8,1138.0 L887.2,1139.0 L887.6,1137.1 L888.0,1131.7 L888.4,1144.7 L888.8,1137.5 L889.2,1134.8 L889.6,1130.6 L890.0,1138.1 L890.4,1133.5 L890.8,1133.5 L891.2,1136.6 L891.6,1137.0 L892.0,1131.7 L892.4,1141.8 L892.8,1130.8 L893.2,1130.4 L893.6,1137.4 L894.0,1136.2 L894.4,1135.9 L894.8,1133.4 L895.2,1135.6 L895.6,1133.0 L896.0,1127.5 L896.4,1139.0 L896.8,1130.6 L897.2,1134.4 L897.6,1139.3 L898.0,1135.8 L898.4,1144.2 L898.8,1128.9 L899.2,1131.8 L899.6,1135.9 L900.0,1142.1 L900.4,1134.6 L900.8,1128.4 L901.2,1140.8 L901.6,1130.4 L902.0,1133.9 L902.4,1139.0 L902.8,1131.6 L903.2,1133.2 L903.6,1137.9 L904.0,1135.1 L904.4,1137.5 L904.8,1131.1 L905.2,1135.3 L905.6,1130.6 L906.0,1128.8 L906.4,1144.2 L906.8,1138.0 L907.2,1139.8 L907.6,1130.7 L908.0,1135.5 L908.4,1134.6 L908.8,1129.1 L909.2,1138.9 L909.6,1132.8 L910.0,1135.3 L910.4,1129.0 L910.8,1141.3 L911.2,1140.2 L911.6,1138.4 L912.0,1131.8 L912.4,1133.6 L912.8,1142.1 L913.2,1134.8 L913.6,1137.5 L914.0,1137.0 L914.4,1131.3 L914.8,1144.3 L915.2,1127.9 L915.6,1137.3 L916.0,1135.5 L916.4,1128.2 L916.8,1137.7 L917.2,1138.9 L917.6,1136.7 L918.0,1132.4 L918.4,1138.3 L918.8,1141.5 L919.2,1137.3 L919.6,1144.3 L920.0,1140.1 L920.4,1139.6 L920.8,1142.7 L921.2,1132.8 L921.6,1133.4 L922.0,1138.8 L922.4,1138.8 L922.8,1143.7 L923.2,1142.0 L923.6,1137.1 L924.0,1137.1 L924.4,1134.4 L924.8,1134.4 L925.2,1133.6 L925.6,1140.2 L926.0,1133.4 L926.4,1133.8 L926.8,1136.2 L927.2,1133.0 L927.6,1134.6 L928.0,1127.0 L928.4,1137.8 L928.8,1134.3 L929.2,1136.1 L929.6,1137.1 L930.0,1126.8 L930.4,1144.4 L930.8,1136.3 L931.2,1136.0 L931.6,1126.9 L932.0,1139.0 L932.4,1138.0 L932.8,1134.2 L933.2,1137.2 L933.6,1142.1 L934.0,1134.3 L934.4,1131.5 L934.8,1142.2 L935.2,1137.0 L935.6,1134.9 L936.0,1144.1 L936.4,1137.3 L936.8,1135.9 L937.2,1138.2 L937.6,1134.9 L938.0,1137.5 L938.4,1137.2 L938.8,1133.6 L939.2,1135.7 L939.6,1138.3 L940.0,1138.9 L940.4,1139.8 L940.8,1140.9 L941.2,1138.5 L941.6,1139.9 L942.0,1135.9 L942.4,1136.6 L942.8,1142.9 L943.2,1128.5 L943.6,1139.8 L944.0,1146.1 L944.4,1129.4 L944.8,1145.3 L945.2,1129.5 L945.6,1139.9 L946.0,1145.9 L946.4,1145.2 L946.8,1133.4 L947.2,1131.5 L947.6,1130.6 L948.0,1141.3 L948.4,1135.7 L948.8,1137.3 L949.2,1138.5 L949.6,1139.4 L950.0,1139.8 L950.4,1137.6 L950.8,1129.1 L951.2,1143.9 L951.6,1128.2 L952.0,1143.0 L952.4,1134.0 L952.8,1135.7 L953.2,1134.3 L953.6,1134.8 L954.0,1136.6 L954.4,1135.2 L954.8,1131.3 L955.2,1140.7 L955.6,1133.7 L956.0,1143.2 L956.4,1135.9 L956.8,1132.8 L957.2,1138.0 L957.6,1140.0 L958.0,1131.4 L958.4,1134.8 L958.8,1142.8 L959.2,1131.2 L959.6,1131.8 L960.0,1136.5 L960.4,1129.8 L960.8,1126.8 L961.2,1127.5 L961.6,1137.0 L962.0,1138.4 L962.4,1137.9 L962.8,1136.5 L963.2,1128.7 L963.6,1138.0 L964.0,1140.3 L964.4,1131.2 L964.8,1138.9 L965.2,1132.9 L965.6,1135.4 L966.0,1136.6 L966.4,1127.7 L966.8,1141.5 L967.2,1130.7 L967.6,1134.3 L968.0,1132.3 L968.4,1136.4 L968.8,1136.1 L969.2,1134.1 L969.6,1141.0 L970.0,1135.7 L970.4,1132.4 L970.8,1125.5 L971.2,1133.0 L971.6,1132.9 L972.0,1130.3 L972.4,1130.1 L972.8,1136.8 L973.2,1139.0 L973.6,1142.3 L974.0,1139.3 L974.4,1130.2 L974.8,1134.7 L975.2,1126.7 L975.6,1136.6 L976.0,1134.4 L976.4,1129.5 L976.8,1131.9 L977.2,1131.2 L977.6,1129.3 L978.0,1138.3 L978.4,1140.4 L978.8,1135.4 L979.2,1136.2 L979.6,1131.5 L980.0,1128.9 L980.4,1139.0 L980.8,1128.6 L981.2,1132.3 L981.6,1129.5 L982.0,1132.4 L982.4,1129.1 L982.8,1132.2 L983.2,1123.6 L983.6,1128.8 L984.0,1135.4 L984.4,1123.5 L984.8,1125.5 L985.2,1135.0 L985.6,1130.1 L986.0,1132.8 L986.4,1118.5 L986.8,1127.7 L987.2,1121.1 L987.6,1120.2 L988.0,1128.7 L988.4,1132.7 L988.8,1120.0 L989.2,1122.0 L989.6,1124.2 L990.0,1125.9 L990.4,1119.4 L990.8,1133.9 L991.2,1127.9 L991.6,1123.3 L992.0,1122.3 L992.4,1133.0 L992.8,1132.7 L993.2,1122.0 L993.6,1125.8 L994.0,1130.2 L994.4,1118.1 L994.8,1121.0 L995.2,1130.4 L995.6,1120.8 L996.0,1122.2 L996.4,1117.9 L996.8,1120.4 L997.2,1127.4 L997.6,1120.4 L998.0,1118.0 L998.4,1121.3 L998.8,1132.6 L999.2,1125.2 L999.6,1122.0 L1000.0,1125.4 L1000.4,1126.9 L1000.8,1125.6 L1001.2,1116.5 L1001.6,1126.3 L1002.0,1123.9 L1002.4,1129.3 L1002.8,1119.0 L1003.2,1130.5 L1003.6,1123.3 L1004.0,1117.5 L1004.4,1132.2 L1004.8,1123.3 L1005.2,1127.5 L1005.6,1125.0 L1006.0,1130.9 L1006.4,1131.2 L1006.8,1131.2 L1007.2,1129.5 L1007.6,1118.6 L1008.0,1118.7 L1008.4,1127.8 L1008.8,1121.8 L1009.2,1128.7 L1009.6,1127.1 L1010.0,1119.5 L1010.4,1121.6 L1010.8,1121.3 L1011.2,1122.6 L1011.6,1125.7 L1012.0,1129.9 L1012.4,1133.0 L1012.8,1121.9 L1013.2,1124.1 L1013.6,1134.0 L1014.0,1131.0 L1014.4,1127.9 L1014.8,1118.3 L1015.2,1122.4 L1015.6,1127.7 L1016.0,1124.1 L1016.4,1135.3 L1016.8,1127.2 L1017.2,1128.2 L1017.6,1121.7 L1018.0,1121.9 L1018.4,1123.7 L1018.8,1123.9 L1019.2,1125.7 L1019.6,1128.5 L1020.0,1127.7 L1020.4,1131.2 L1020.8,1119.4 L1021.2,1126.6 L1021.6,1126.4 L1022.0,1132.5 L1022.4,1123.6 L1022.8,1125.5 L1023.2,1119.3 L1023.6,1124.4 L1024.0,1123.6 L1024.4,1118.2 L1024.8,1118.4 L1025.2,1120.0 L1025.6,1122.3 L1026.0,1113.5 L1026.4,1122.6 L1026.8,1116.1 L1027.2,1125.5 L1027.6,1122.8 L1028.0,1113.1 L1028.4,1111.2 L1028.8,1121.8 L1029.2,1115.6 L1029.6,1114.3 L1030.0,1108.9 L1030.4,1109.7 L1030.8,1113.3 L1031.2,1111.5 L1031.6,1103.8 L1032.0,1112.9 L1032.4,1107.2 L1032.8,1100.9 L1033.2,1109.3 L1033.6,1102.7 L1034.0,1106.7 L1034.4,1099.6 L1034.8,1102.9 L1035.2,1093.0 L1035.6,1100.9 L1036.0,1092.3 L1036.4,1098.0 L1036.8,1090.1 L1037.2,1095.5 L1037.6,1097.1 L1038.0,1095.5 L1038.4,1096.3 L1038.8,1091.5 L1039.2,1095.3 L1039.6,1094.8 L1040.0,1091.2 L1040.4,1091.7 L1040.8,1092.0 L1041.2,1093.0 L1041.6,1093.6 L1042.0,1089.2 L1042.4,1095.8 L1042.8,1093.7 L1043.2,1091.3 L1043.6,1099.3 L1044.0,1094.9 L1044.4,1101.8 L1044.8,1099.8 L1045.2,1096.6 L1045.6,1103.8 L1046.0,1102.5 L1046.4,1096.8 L1046.8,1092.6 L1047.2,1098.6 L1047.6,1105.3 L1048.0,1102.4 L1048.4,1112.8 L1048.8,1106.6 L1049.2,1107.3 L1049.6,1109.3 L1050.0,1104.1 L1050.4,1108.7 L1050.8,1106.7 L1051.2,1102.2 L1051.6,1103.1 L1052.0,1115.6 L1052.4,1110.5 L1052.8,1112.8 L1053.2,1106.7 L1053.6,1111.2 L1054.0,1118.4 L1054.4,1115.4 L1054.8,1113.0 L1055.2,1123.2 L1055.6,1116.0 L1056.0,1115.0 L1056.4,1122.7 L1056.8,1109.6 L1057.2,1120.9 L1057.6,1113.5 L1058.0,1115.7 L1058.4,1116.3 L1058.8,1120.2 L1059.2,1120.4 L1059.6,1121.5 L1060.0,1121.6 L1060.4,1127.8 L1060.8,1129.3 L1061.2,1124.7 L1061.6,1125.0 L1062.0,1119.7 L1062.4,1116.2 L1062.8,1124.1 L1063.2,1121.8 L1063.6,1125.9 L1064.0,1113.7 L1064.4,1130.6 L1064.8,1116.3 L1065.2,1122.7 L1065.6,1127.4 L1066.0,1116.1 L1066.4,1120.3 L1066.8,1114.5 L1067.2,1116.2 L1067.6,1114.4 L1068.0,1123.3 L1068.4,1124.2 L1068.8,1121.5 L1069.2,1128.9 L1069.6,1129.7 L1070.0,1122.9 L1070.4,1121.8 L1070.8,1121.6 L1071.2,1121.1 L1071.6,1129.2 L1072.0,1124.1 L1072.4,1121.3 L1072.8,1121.7 L1073.2,1125.3 L1073.6,1120.5 L1074.0,1123.9 L1074.4,1122.1 L1074.8,1128.5 L1075.2,1127.3 L1075.6,1114.8 L1076.0,1120.6 L1076.4,1124.4 L1076.8,1118.7 L1077.2,1124.7 L1077.6,1122.4 L1078.0,1123.7 L1078.4,1120.4 L1078.8,1122.2 L1079.2,1123.2 L1079.6,1113.8 L1080.0,1116.1 L1080.4,1115.4 L1080.8,1127.8 L1081.2,1121.3 L1081.6,1121.5 L1082.0,1120.5 L1082.4,1117.4 L1082.8,1116.2 L1083.2,1123.7 L1083.6,1118.0 L1084.0,1127.4 L1084.4,1120.7 L1084.8,1120.4 L1085.2,1118.6 L1085.6,1119.4 L1086.0,1120.1 L1086.4,1127.3 L1086.8,1128.6 L1087.2,1114.9 L1087.6,1121.7 L1088.0,1124.0 L1088.4,1116.4 L1088.8,1117.6 L1089.2,1118.2 L1089.6,1111.8 L1090.0,1123.2 L1090.4,1119.9 L1090.8,1119.7 L1091.2,1120.3 L1091.6,1120.6 L1092.0,1127.7 L1092.4,1120.0 L1092.8,1123.0 L1093.2,1116.6 L1093.6,1120.8 L1094.0,1117.7 L1094.4,1118.8 L1094.8,1115.0 L1095.2,1115.7 L1095.6,1122.1 L1096.0,1123.6 L1096.4,1122.6 L1096.8,1117.6 L1097.2,1121.8 L1097.6,1111.6 L1098.0,1124.6 L1098.4,1119.7 L1098.8,1121.1 L1099.2,1125.2 L1099.6,1117.9 L1100.0,1124.3 L1100.4,1117.8 L1100.8,1122.1 L1101.2,1117.5 L1101.6,1120.7 L1102.0,1125.9 L1102.4,1115.8 L1102.8,1115.6 L1103.2,1116.7 L1103.6,1119.5 L1104.0,1126.1 L1104.4,1114.6 L1104.8,1108.4 L1105.2,1113.4 L1105.6,1108.9 L1106.0,1113.1 L1106.4,1115.0 L1106.8,1110.4 L1107.2,1111.1 L1107.6,1105.3 L1108.0,1114.1 L1108.4,1109.4 L1108.8,1117.5 L1109.2,1116.7 L1109.6,1107.5 L1110.0,1109.5 L1110.4,1111.4 L1110.8,1114.3 L1111.2,1102.8 L1111.6,1110.1 L1112.0,1118.5 L1112.4,1109.8 L1112.8,1110.9 L1113.2,1109.2 L1113.6,1103.5 L1114.0,1113.2 L1114.4,1109.8 L1114.8,1108.7 L1115.2,1111.1 L1115.6,1110.7 L1116.0,1097.6 L1116.4,1108.3 L1116.8,1102.7 L1117.2,1105.8 L1117.6,1101.5 L1118.0,1100.5 L1118.4,1108.5 L1118.8,1103.8 L1119.2,1102.1 L1119.6,1101.6 L1120.0,1102.8 L1120.4,1102.2 L1120.8,1093.4 L1121.2,1097.6 L1121.6,1100.2 L1122.0,1104.4 L1122.4,1107.1 L1122.8,1096.1 L1123.2,1108.5 L1123.6,1100.6 L1124.0,1102.1 L1124.4,1097.0 L1124.8,1096.3 L1125.2,1105.4 L1125.6,1097.2 L1126.0,1097.3 L1126.4,1102.8 L1126.8,1105.2 L1127.2,1089.5 L1127.6,1095.2 L1128.0,1095.4 L1128.4,1102.6 L1128.8,1101.9 L1129.2,1093.0 L1129.6,1095.1 L1130.0,1096.7 L1130.4,1097.5 L1130.8,1089.5 L1131.2,1094.2 L1131.6,1085.8 L1132.0,1079.5 L1132.4,1081.2 L1132.8,1087.4 L1133.2,1089.2 L1133.6,1075.9 L1134.0,1075.4 L1134.4,1082.6 L1134.8,1072.7 L1135.2,1083.2 L1135.6,1084.1 L1136.0,1069.5 L1136.4,1080.9 L1136.8,1075.0 L1137.2,1081.7 L1137.6,1075.0 L1138.0,1071.2 L1138.4,1071.1 L1138.8,1073.3 L1139.2,1068.2 L1139.6,1065.8 L1140.0,1057.5 L1140.4,1064.7 L1140.8,1060.9 L1141.2,1067.0 L1141.6,1057.7 L1142.0,1055.9 L1142.4,1052.4 L1142.8,1057.1 L1143.2,1051.4 L1143.6,1047.8 L1144.0,1056.6 L1144.4,1055.7 L1144.8,1045.2 L1145.2,1042.0 L1145.6,1049.6 L1146.0,1041.6 L1146.4,1049.1 L1146.8,1042.7 L1147.2,1044.6 L1147.6,1039.0 L1148.0,1041.1 L1148.4,1042.3 L1148.8,1041.0 L1149.2,1039.9 L1149.6,1042.8 L1150.0,1042.1 L1150.4,1041.3 L1150.8,1041.2 L1151.2,1042.9 L1151.6,1048.4 L1152.0,1043.4 L1152.4,1047.0 L1152.8,1044.8 L1153.2,1054.1 L1153.6,1049.5 L1154.0,1055.2 L1154.4,1055.0 L1154.8,1051.1 L1155.2,1057.9 L1155.6,1060.5 L1156.0,1052.4 L1156.4,1062.1 L1156.8,1068.0 L1157.2,1060.6 L1157.6,1065.9 L1158.0,1058.0 L1158.4,1067.9 L1158.8,1064.5 L1159.2,1072.4 L1159.6,1069.7 L1160.0,1065.8 L1160.4,1077.7 L1160.8,1072.9 L1161.2,1070.4 L1161.6,1076.6 L1162.0,1073.0 L1162.4,1080.9 L1162.8,1079.6 L1163.2,1078.9 L1163.6,1084.8 L1164.0,1076.9 L1164.4,1088.4 L1164.8,1075.7 L1165.2,1093.2 L1165.6,1087.4 L1166.0,1086.2 L1166.4,1084.9 L1166.8,1092.1 L1167.2,1089.7 L1167.6,1090.7 L1168.0,1097.0 L1168.4,1090.7 L1168.8,1092.2 L1169.2,1096.4 L1169.6,1099.9 L1170.0,1094.7 L1170.4,1096.7 L1170.8,1096.7 L1171.2,1100.0 L1171.6,1104.0 L1172.0,1092.8 L1172.4,1096.7 L1172.8,1097.5 L1173.2,1100.8 L1173.6,1105.2 L1174.0,1098.4 L1174.4,1099.7 L1174.8,1104.5 L1175.2,1093.8 L1175.6,1096.5 L1176.0,1097.9 L1176.4,1100.1 L1176.8,1101.3 L1177.2,1098.0 L1177.6,1107.9 L1178.0,1096.8 L1178.4,1098.9 L1178.8,1104.0 L1179.2,1101.8 L1179.6,1097.4 L1180.0,1098.6 L1180.4,1100.1 L1180.8,1095.3 L1181.2,1097.5 L1181.6,1089.2 L1182.0,1093.1 L1182.4,1084.4 L1182.8,1086.8 L1183.2,1085.1 L1183.6,1095.6 L1184.0,1086.9 L1184.4,1089.2 L1184.8,1082.5 L1185.2,1084.4 L1185.6,1082.9 L1186.0,1078.9 L1186.4,1085.8 L1186.8,1073.0 L1187.2,1082.3 L1187.6,1086.1 L1188.0,1073.5 L1188.4,1076.6 L1188.8,1068.4 L1189.2,1074.6 L1189.6,1065.3 L1190.0,1074.8 L1190.4,1068.8 L1190.8,1062.0 L1191.2,1063.7 L1191.6,1062.0 L1192.0,1066.8 L1192.4,1070.6 L1192.8,1065.6 L1193.2,1062.7 L1193.6,1063.3 L1194.0,1065.1 L1194.4,1061.3 L1194.8,1064.9 L1195.2,1064.4 L1195.6,1061.7 L1196.0,1065.5 L1196.4,1062.2 L1196.8,1064.6 L1197.2,1068.1 L1197.6,1062.4 L1198.0,1061.9 L1198.4,1064.5 L1198.8,1065.2 L1199.2,1069.6 L1199.6,1069.2 L1200.0,1070.0 L1200.4,1070.9 L1200.8,1073.1 L1201.2,1071.2 L1201.6,1077.7 L1202.0,1077.6 L1202.4,1074.0 L1202.8,1088.1 L1203.2,1075.5 L1203.6,1085.8 L1204.0,1080.1 L1204.4,1086.2 L1204.8,1088.1 L1205.2,1090.3 L1205.6,1094.2 L1206.0,1084.2 L1206.4,1097.0 L1206.8,1091.4 L1207.2,1086.4 L1207.6,1084.4 L1208.0,1099.5 L1208.4,1099.9 L1208.8,1092.6 L1209.2,1096.7 L1209.6,1099.6 L1210.0,1094.3 L1210.4,1092.4 L1210.8,1094.1 L1211.2,1098.2 L1211.6,1094.1 L1212.0,1087.7 L1212.4,1096.2 L1212.8,1083.7 L1213.2,1087.5 L1213.6,1095.5 L1214.0,1090.0 L1214.4,1088.8 L1214.8,1087.0 L1215.2,1090.4 L1215.6,1083.8 L1216.0,1073.7 L1216.4,1082.1 L1216.8,1070.6 L1217.2,1069.2 L1217.6,1083.6 L1218.0,1079.2 L1218.4,1070.5 L1218.8,1070.3 L1219.2,1069.1 L1219.6,1071.6 L1220.0,1061.6 L1220.4,1059.4 L1220.8,1059.0 L1221.2,1060.9 L1221.6,1059.6 L1222.0,1055.2 L1222.4,1058.6 L1222.8,1048.8 L1223.2,1051.6 L1223.6,1047.4 L1224.0,1045.0 L1224.4,1053.4 L1224.8,1046.2 L1225.2,1043.1 L1225.6,1046.2 L1226.0,1042.3 L1226.4,1046.1 L1226.8,1045.7 L1227.2,1045.3 L1227.6,1041.6 L1228.0,1042.7 L1228.4,1044.7 L1228.8,1042.5 L1229.2,1044.9 L1229.6,1046.1 L1230.0,1041.3 L1230.4,1047.9 L1230.8,1048.0 L1231.2,1049.6 L1231.6,1053.6 L1232.0,1050.4 L1232.4,1049.7 L1232.8,1052.9 L1233.2,1049.8 L1233.6,1054.6 L1234.0,1045.7 L1234.4,1063.2 L1234.8,1054.3 L1235.2,1060.6 L1235.6,1060.8 L1236.0,1061.6 L1236.4,1063.0 L1236.8,1064.4 L1237.2,1057.9 L1237.6,1064.3 L1238.0,1074.0 L1238.4,1065.1 L1238.8,1066.3 L1239.2,1080.8 L1239.6,1080.0 L1240.0,1083.3 L1240.4,1077.5 L1240.8,1080.3 L1241.2,1084.0 L1241.6,1084.4 L1242.0,1083.2 L1242.4,1077.9 L1242.8,1082.7 L1243.2,1080.2 L1243.6,1095.4 L1244.0,1087.1 L1244.4,1089.2 L1244.8,1092.2 L1245.2,1091.7 L1245.6,1094.8 L1246.0,1090.3 L1246.4,1086.9 L1246.8,1102.5 L1247.2,1091.8 L1247.6,1093.4 L1248.0,1092.7 L1248.4,1094.3 L1248.8,1097.7 L1249.2,1101.3 L1249.6,1093.2 L1250.0,1099.7 L1250.4,1095.7 L1250.8,1104.6 L1251.2,1093.6 L1251.6,1100.1 L1252.0,1103.3 L1252.4,1093.8 L1252.8,1101.1 L1253.2,1101.7 L1253.6,1097.6 L1254.0,1100.4 L1254.4,1106.0 L1254.8,1102.6 L1255.2,1099.4 L1255.6,1100.1 L1256.0,1103.1 L1256.4,1106.6 L1256.8,1104.5 L1257.2,1103.8 L1257.6,1107.4 L1258.0,1092.5 L1258.4,1092.3 L1258.8,1090.2 L1259.2,1101.6 L1259.6,1088.8 L1260.0,1096.7 L1260.4,1099.9 L1260.8,1089.3 L1261.2,1092.1 L1261.6,1093.3 L1262.0,1097.1 L1262.4,1086.2 L1262.8,1094.2 L1263.2,1095.2 L1263.6,1092.3 L1264.0,1092.0 L1264.4,1096.8 L1264.8,1091.4 L1265.2,1089.7 L1265.6,1087.7 L1266.0,1092.0 L1266.4,1087.4 L1266.8,1091.4 L1267.2,1088.3 L1267.6,1092.8 L1268.0,1083.3 L1268.4,1086.7 L1268.8,1087.2 L1269.2,1086.8 L1269.6,1089.5 L1270.0,1085.5 L1270.4,1087.4 L1270.8,1090.9 L1271.2,1085.8 L1271.6,1076.1 L1272.0,1073.5 L1272.4,1082.2 L1272.8,1076.8 L1273.2,1079.0 L1273.6,1075.9 L1274.0,1081.6 L1274.4,1080.4 L1274.8,1069.1 L1275.2,1075.1 L1275.6,1071.9 L1276.0,1066.8 L1276.4,1075.1 L1276.8,1070.7 L1277.2,1072.9 L1277.6,1078.4 L1278.0,1075.4 L1278.4,1074.0 L1278.8,1066.7 L1279.2,1062.6 L1279.6,1073.4 L1280.0,1066.1 L1280.4,1067.1 L1280.8,1064.7 L1281.2,1066.9 L1281.6,1074.9 L1282.0,1065.8 L1282.4,1066.4 L1282.8,1068.8 L1283.2,1069.6 L1283.6,1063.6 L1284.0,1061.7 L1284.4,1067.7 L1284.8,1069.6 L1285.2,1067.6 L1285.6,1067.3 L1286.0,1067.9 L1286.4,1070.7 L1286.8,1072.1 L1287.2,1065.5 L1287.6,1070.8 L1288.0,1075.4 L1288.4,1074.0 L1288.8,1068.9 L1289.2,1073.8 L1289.6,1075.7 L1290.0,1079.7 L1290.4,1069.2 L1290.8,1080.1 L1291.2,1075.0 L1291.6,1078.0 L1292.0,1080.0 L1292.4,1072.6 L1292.8,1072.9 L1293.2,1075.5 L1293.6,1078.8 L1294.0,1072.7 L1294.4,1068.3 L1294.8,1071.0 L1295.2,1075.2 L1295.6,1077.9 L1296.0,1069.6 L1296.4,1069.8 L1296.8,1069.6 L1297.2,1069.3 L1297.6,1064.9 L1298.0,1066.8 L1298.4,1069.4 L1298.8,1068.2 L1299.2,1067.4 L1299.6,1062.1 L1300.0,1063.7 L1300.4,1062.5 L1300.8,1069.7 L1301.2,1071.7 L1301.6,1066.2 L1302.0,1071.1 L1302.4,1061.8 L1302.8,1061.0 L1303.2,1055.5 L1303.6,1062.1 L1304.0,1058.2 L1304.4,1059.5 L1304.8,1060.4 L1305.2,1056.5 L1305.6,1051.7 L1306.0,1055.8 L1306.4,1054.9 L1306.8,1054.7 L1307.2,1057.0 L1307.6,1052.3 L1308.0,1051.4 L1308.4,1059.5 L1308.8,1055.7 L1309.2,1049.7 L1309.6,1045.1 L1310.0,1046.6 L1310.4,1049.8 L1310.8,1051.0 L1311.2,1054.8 L1311.6,1044.8 L1312.0,1046.3 L1312.4,1044.0 L1312.8,1046.0 L1313.2,1043.3 L1313.6,1040.1 L1314.0,1049.1 L1314.4,1044.4 L1314.8,1049.3 L1315.2,1040.8 L1315.6,1043.9 L1316.0,1045.1 L1316.4,1033.4 L1316.8,1035.7 L1317.2,1044.9 L1317.6,1041.7 L1318.0,1032.5 L1318.4,1036.8 L1318.8,1035.2 L1319.2,1037.3 L1319.6,1045.7 L1320.0,1036.0 L1320.4,1046.3 L1320.8,1036.6 L1321.2,1034.2 L1321.6,1043.5 L1322.0,1040.4 L1322.4,1042.0 L1322.8,1043.6 L1323.2,1040.1 L1323.6,1040.9 L1324.0,1027.2 L1324.4,1031.2 L1324.8,1036.5 L1325.2,1035.5 L1325.6,1037.4 L1326.0,1032.7 L1326.4,1038.5 L1326.8,1041.1 L1327.2,1036.9 L1327.6,1037.5 L1328.0,1036.6 L1328.4,1037.3 L1328.8,1036.0 L1329.2,1035.1 L1329.6,1036.0 L1330.0,1036.0 L1330.4,1034.1 L1330.8,1036.2 L1331.2,1036.0 L1331.6,1036.5 L1332.0,1035.0 L1332.4,1037.4 L1332.8,1037.8 L1333.2,1033.4 L1333.6,1037.2 L1334.0,1039.2 L1334.4,1039.7 L1334.8,1033.9 L1335.2,1034.2 L1335.6,1039.9 L1336.0,1036.5 L1336.4,1050.1 L1336.8,1040.0 L1337.2,1041.4 L1337.6,1048.7 L1338.0,1044.7 L1338.4,1039.7 L1338.8,1048.6 L1339.2,1046.3 L1339.6,1049.6 L1340.0,1046.7 L1340.4,1051.2 L1340.8,1055.8 L1341.2,1058.0 L1341.6,1055.1 L1342.0,1058.6 L1342.4,1059.8 L1342.8,1066.2 L1343.2,1066.8 L1343.6,1063.6 L1344.0,1073.5 L1344.4,1069.3 L1344.8,1075.7 L1345.2,1071.5 L1345.6,1078.6 L1346.0,1078.6 L1346.4,1081.1 L1346.8,1085.1 L1347.2,1086.1 L1347.6,1086.4 L1348.0,1088.0 L1348.4,1083.3 L1348.8,1090.0 L1349.2,1084.2 L1349.6,1085.6 L1350.0,1093.1 L1350.4,1094.5 L1350.8,1103.5 L1351.2,1100.9 L1351.6,1103.8 L1352.0,1098.5 L1352.4,1102.6 L1352.8,1107.2 L1353.2,1105.5 L1353.6,1105.6 L1354.0,1105.6 L1354.4,1102.2 L1354.8,1103.4 L1355.2,1101.8 L1355.6,1110.6 L1356.0,1108.2 L1356.4,1106.9 L1356.8,1112.6 L1357.2,1109.4 L1357.6,1117.2 L1358.0,1122.0 L1358.4,1116.7 L1358.8,1112.5 L1359.2,1109.8 L1359.6,1125.2 L1360.0,1119.8 L1360.4,1113.0 L1360.8,1124.0 L1361.2,1112.4 L1361.6,1118.1 L1362.0,1119.4 L1362.4,1119.5 L1362.8,1116.3 L1363.2,1129.7 L1363.6,1119.8 L1364.0,1123.8 L1364.4,1122.5 L1364.8,1115.9 L1365.2,1120.7 L1365.6,1124.9 L1366.0,1128.4 L1366.4,1123.2 L1366.8,1127.1 L1367.2,1124.1 L1367.6,1128.7 L1368.0,1118.6 L1368.4,1129.7 L1368.8,1124.6 L1369.2,1125.1 L1369.6,1119.9 L1370.0,1123.2 L1370.4,1131.4 L1370.8,1137.5 L1371.2,1126.4 L1371.6,1126.8 L1372.0,1132.4 L1372.4,1131.5 L1372.8,1128.2 L1373.2,1130.1 L1373.6,1129.6 L1374.0,1134.3 L1374.4,1135.2 L1374.8,1139.7 L1375.2,1136.3 L1375.6,1135.2 L1376.0,1133.2 L1376.4,1136.8 L1376.8,1128.2 L1377.2,1140.4 L1377.6,1133.2 L1378.0,1138.1 L1378.4,1127.8 L1378.8,1135.9 L1379.2,1132.8 L1379.6,1130.1 L1380.0,1127.8 L1380.4,1126.7 L1380.8,1138.4 L1381.2,1135.7 L1381.6,1131.0 L1382.0,1131.8 L1382.4,1127.7 L1382.8,1122.6 L1383.2,1122.8 L1383.6,1128.0 L1384.0,1130.1 L1384.4,1125.2 L1384.8,1133.7 L1385.2,1132.1 L1385.6,1130.3 L1386.0,1121.6 L1386.4,1128.6 L1386.8,1129.3 L1387.2,1123.3 L1387.6,1120.8 L1388.0,1137.1 L1388.4,1131.6 L1388.8,1127.1 L1389.2,1136.1 L1389.6,1133.7 L1390.0,1130.4 L1390.4,1129.3 L1390.8,1131.6 L1391.2,1134.4 L1391.6,1127.9 L1392.0,1126.1 L1392.4,1129.4 L1392.8,1118.6 L1393.2,1126.4 L1393.6,1124.2 L1394.0,1125.5 L1394.4,1124.7 L1394.8,1126.8 L1395.2,1125.5 L1395.6,1124.8 L1396.0,1123.8 L1396.4,1126.3 L1396.8,1121.9 L1397.2,1128.7 L1397.6,1116.8 L1398.0,1125.3 L1398.4,1126.5 L1398.8,1119.0 L1399.2,1122.7 L1399.6,1130.8 L1400.0,1124.7 L1400.4,1121.6 L1400.8,1117.5 L1401.2,1127.5 L1401.6,1126.9 L1402.0,1129.3 L1402.4,1134.7 L1402.8,1127.0 L1403.2,1127.9 L1403.6,1124.7 L1404.0,1127.7 L1404.4,1128.4 L1404.8,1132.5 L1405.2,1132.0 L1405.6,1126.6 L1406.0,1128.3 L1406.4,1136.7 L1406.8,1126.6 L1407.2,1134.3 L1407.6,1138.5 L1408.0,1134.2 L1408.4,1132.4 L1408.8,1137.5 L1409.2,1133.2 L1409.6,1131.6 L1410.0,1131.2 L1410.4,1137.4 L1410.8,1135.9 L1411.2,1139.7 L1411.6,1131.6 L1412.0,1132.1 L1412.4,1132.1 L1412.8,1135.6 L1413.2,1131.4 L1413.6,1139.3 L1414.0,1137.0 L1414.4,1131.4 L1414.8,1127.6 L1415.2,1127.8 L1415.6,1142.3 L1416.0,1136.1 L1416.4,1137.0 L1416.8,1134.6 L1417.2,1138.1 L1417.6,1128.3 L1418.0,1128.7 L1418.4,1129.6 L1418.8,1137.3 L1419.2,1140.2 L1419.6,1139.5 L1420.0,1136.8 L1420.4,1131.6 L1420.8,1141.1 L1421.2,1136.7 L1421.6,1137.8 L1422.0,1137.3 L1422.4,1135.8 L1422.8,1134.9 L1423.2,1135.4 L1423.6,1132.5 L1424.0,1139.1 L1424.4,1137.1 L1424.8,1142.1 L1425.2,1129.2 L1425.6,1142.6 L1426.0,1137.0 L1426.4,1136.7 L1426.8,1133.7 L1427.2,1133.5 L1427.6,1130.7 L1428.0,1141.0 L1428.4,1136.3 L1428.8,1140.7 L1429.2,1141.2 L1429.6,1135.5 L1430.0,1136.5 L1430.4,1136.1 L1430.8,1142.5 L1431.2,1138.7 L1431.6,1138.6 L1432.0,1141.0 L1432.4,1137.5 L1432.8,1145.5 L1433.2,1133.3 L1433.6,1143.2 L1434.0,1143.6 L1434.4,1132.2 L1434.8,1141.1 L1435.2,1138.6 L1435.6,1141.1 L1436.0,1132.1 L1436.4,1138.2 L1436.8,1133.0 L1437.2,1136.2 L1437.6,1144.1 L1438.0,1137.4 L1438.4,1129.9 L1438.8,1131.9 L1439.2,1132.8 L1439.6,1142.2 L1440.0,1134.4 L1440.4,1130.5 L1440.8,1142.4 L1441.2,1138.6 L1441.6,1139.1 L1442.0,1134.3 L1442.4,1144.1 L1442.8,1137.1 L1443.2,1129.4 L1443.6,1132.7 L1444.0,1133.9 L1444.4,1137.1 L1444.8,1141.3 L1445.2,1134.7 L1445.6,1135.6 L1446.0,1146.3 L1446.4,1138.8 L1446.8,1136.2 L1447.2,1138.7 L1447.6,1133.0 L1448.0,1140.7 L1448.4,1143.1 L1448.8,1136.5 L1449.2,1143.3 L1449.6,1137.7 L1450.0,1140.1 L1450.4,1135.8 L1450.8,1135.0 L1451.2,1131.8 L1451.6,1139.0 L1452.0,1137.2 L1452.4,1137.3 L1452.8,1133.5 L1453.2,1133.6 L1453.6,1135.8 L1454.0,1140.8 L1454.4,1140.3 L1454.8,1135.9 L1455.2,1140.2 L1455.6,1146.9 L1456.0,1139.7 L1456.4,1147.2 L1456.8,1141.0 L1457.2,1144.8 L1457.6,1136.2 L1458.0,1143.9 L1458.4,1133.5 L1458.8,1139.9 L1459.2,1137.3 L1459.6,1130.6 L1460.0,1132.9 L1460.4,1144.0 L1460.8,1141.3 L1461.2,1145.0 L1461.6,1140.0 L1462.0,1131.0 L1462.4,1140.3 L1462.8,1136.9 L1463.2,1137.2 L1463.6,1137.9 L1464.0,1136.3 L1464.4,1135.1 L1464.8,1145.1 L1465.2,1141.8 L1465.6,1137.1 L1466.0,1138.0 L1466.4,1144.3 L1466.8,1141.5 L1467.2,1141.0 L1467.6,1134.7 L1468.0,1138.5 L1468.4,1135.3 L1468.8,1132.1 L1469.2,1144.3 L1469.6,1138.8 L1470.0,1138.3 L1470.4,1135.7 L1470.8,1143.4 L1471.2,1148.9 L1471.6,1143.2 L1472.0,1144.9 L1472.4,1134.8 L1472.8,1141.2 L1473.2,1141.3 L1473.6,1147.0 L1474.0,1140.3 L1474.4,1135.9 L1474.8,1139.9 L1475.2,1138.3 L1475.6,1146.5 L1476.0,1143.0 L1476.4,1141.5 L1476.8,1140.9 L1477.2,1143.9 L1477.6,1137.8 L1478.0,1136.0 L1478.4,1132.0 L1478.8,1145.3 L1479.2,1142.1 L1479.6,1142.5 L1480.0,1140.0 L1480.4,1147.3 L1480.8,1135.2 L1481.2,1145.1 L1481.6,1135.2 L1482.0,1136.8 L1482.4,1133.0 L1482.8,1138.7 L1483.2,1136.5 L1483.6,1139.4 L1484.0,1134.6 L1484.4,1131.0 L1484.8,1140.2 L1485.2,1143.4 L1485.6,1140.8 L1486.0,1137.1 L1486.4,1139.3 L1486.8,1129.7 L1487.2,1136.0 L1487.6,1142.5 L1488.0,1139.5 L1488.4,1133.3 L1488.8,1141.4 L1489.2,1136.8 L1489.6,1140.7 L1490.0,1131.1 L1490.4,1135.3 L1490.8,1139.5 L1491.2,1139.4 L1491.6,1140.5 L1492.0,1138.4 L1492.4,1137.4 L1492.8,1140.7 L1493.2,1142.7 L1493.6,1131.8 L1494.0,1137.5 L1494.4,1138.3 L1494.8,1140.2 L1495.2,1144.3 L1495.6,1133.3 L1496.0,1142.4 L1496.4,1131.7 L1496.8,1136.2 L1497.2,1137.2 L1497.6,1138.2 L1498.0,1136.7 L1498.4,1137.0 L1498.8,1137.5 L1499.2,1138.0 L1499.6,1130.9 L1500.0,1132.7 L1500.4,1137.2 L1500.8,1141.7 L1501.2,1143.8 L1501.6,1147.8 L1502.0,1140.2 L1502.4,1135.9 L1502.8,1140.8 L1503.2,1143.3 L1503.6,1140.7 L1504.0,1135.6 L1504.4,1140.1 L1504.8,1140.3 L1505.2,1133.6 L1505.6,1134.4 L1506.0,1145.4 L1506.4,1131.3 L1506.8,1140.6 L1507.2,1138.2 L1507.6,1145.9 L1508.0,1142.5 L1508.4,1135.1 L1508.8,1145.3 L1509.2,1136.7 L1509.6,1148.3 L1510.0,1147.1 L1510.4,1138.8 L1510.8,1143.0 L1511.2,1140.3 L1511.6,1135.1 L1512.0,1144.1 L1512.4,1140.8 L1512.8,1143.2 L1513.2,1144.5 L1513.6,1146.1 L1514.0,1144.5 L1514.4,1139.3 L1514.8,1140.2 L1515.2,1141.5 L1515.6,1138.9 L1516.0,1138.2 L1516.4,1148.1 L1516.8,1141.7 L1517.2,1148.3 L1517.6,1135.8 L1518.0,1139.8 L1518.4,1138.1 L1518.8,1138.6 L1519.2,1139.2 L1519.6,1140.0 L1520.0,1138.4 L1520.4,1149.2 L1520.8,1144.0 L1521.2,1137.4 L1521.6,1138.5 L1522.0,1144.6 L1522.4,1143.4 L1522.8,1138.0 L1523.2,1145.0 L1523.6,1133.6 L1524.0,1138.4 L1524.4,1148.9 L1524.8,1131.8 L1525.2,1139.8 L1525.6,1145.8 L1526.0,1140.4 L1526.4,1137.4 L1526.8,1136.9 L1527.2,1132.4 L1527.6,1135.0 L1528.0,1142.2 L1528.4,1138.9 L1528.8,1142.1 L1529.2,1141.3 L1529.6,1143.2 L1530.0,1133.8 L1530.4,1140.4 L1530.8,1140.0 L1531.2,1139.9 L1531.6,1137.2 L1532.0,1133.0 L1532.4,1145.3 L1532.8,1146.4 L1533.2,1151.3 L1533.6,1145.4 L1534.0,1149.7 L1534.4,1144.3 L1534.8,1139.4 L1535.2,1143.2 L1535.6,1135.1 L1536.0,1141.7 L1536.4,1140.3 L1536.8,1135.8 L1537.2,1146.7 L1537.6,1146.1 L1538.0,1142.9 L1538.4,1144.9 L1538.8,1148.5 L1539.2,1139.4 L1539.6,1133.1 L1540.0,1134.8 L1540.4,1142.9 L1540.8,1140.7 L1541.2,1132.2 L1541.6,1145.8 L1542.0,1140.3 L1542.4,1147.1 L1542.8,1144.6 L1543.2,1137.0 L1543.6,1139.7 L1544.0,1135.7 L1544.4,1135.3 L1544.8,1138.0 L1545.2,1141.8 L1545.6,1145.8 L1546.0,1134.8 L1546.4,1142.4 L1546.8,1139.1 L1547.2,1137.9 L1547.6,1144.5 L1548.0,1137.3 L1548.4,1145.6 L1548.8,1137.4 L1549.2,1134.1 L1549.6,1142.3 L1550.0,1131.6 L1550.4,1132.7 L1550.8,1137.7 L1551.2,1139.0 L1551.6,1137.8 L1552.0,1130.0 L1552.4,1132.8 L1552.8,1141.7 L1553.2,1141.8 L1553.6,1134.4 L1554.0,1141.1 L1554.4,1140.9 L1554.8,1144.9 L1555.2,1136.6 L1555.6,1147.7 L1556.0,1139.5 L1556.4,1148.1 L1556.8,1145.5 L1557.2,1135.9 L1557.6,1139.1 L1558.0,1142.2 L1558.4,1145.6 L1558.8,1133.6 L1559.2,1138.2 L1559.6,1143.9 L1560.0,1143.3 L1560.4,1136.1 L1560.8,1136.9 L1561.2,1143.1 L1561.6,1136.4 L1562.0,1142.4 L1562.4,1146.0 L1562.8,1141.6 L1563.2,1132.8 L1563.6,1147.4 L1564.0,1147.3 L1564.4,1148.3 L1564.8,1145.6 L1565.2,1133.2 L1565.6,1148.1 L1566.0,1142.9 L1566.4,1145.5 L1566.8,1140.3 L1567.2,1140.1 L1567.6,1140.3 L1568.0,1148.9 L1568.4,1142.3 L1568.8,1139.7 L1569.2,1134.2 L1569.6,1142.6 L1570.0,1140.3 L1570.4,1140.9 L1570.8,1144.9 L1571.2,1143.8 L1571.6,1140.3 L1572.0,1141.4 L1572.4,1140.7 L1572.8,1143.3 L1573.2,1143.0 L1573.6,1140.0 L1574.0,1134.8 L1574.4,1142.5 L1574.8,1142.9 L1575.2,1133.8 L1575.6,1140.5 L1576.0,1136.3 L1576.4,1129.0 L1576.8,1137.7 L1577.2,1142.1 L1577.6,1134.1 L1578.0,1134.3 L1578.4,1142.2 L1578.8,1132.3 L1579.2,1133.0 L1579.6,1135.7 L1580.0,1140.3 L1580.4,1140.4 L1580.8,1134.9 L1581.2,1135.8 L1581.6,1137.6 L1582.0,1134.9 L1582.4,1132.5 L1582.8,1131.0 L1583.2,1139.7 L1583.6,1134.9 L1584.0,1144.2 L1584.4,1138.6 L1584.8,1131.9 L1585.2,1135.1 L1585.6,1136.6 L1586.0,1136.5 L1586.4,1136.5 L1586.8,1136.2 L1587.2,1133.3 L1587.6,1136.6 L1588.0,1141.7 L1588.4,1130.9 L1588.8,1130.9 L1589.2,1136.0 L1589.6,1138.2 L1590.0,1135.9 L1590.4,1137.6 L1590.8,1131.4 L1591.2,1130.1 L1591.6,1133.6 L1592.0,1133.1 L1592.4,1137.2 L1592.8,1136.3 L1593.2,1120.1 L1593.6,1132.1 L1594.0,1125.2 L1594.4,1119.7 L1594.8,1129.8 L1595.2,1126.9 L1595.6,1125.5 L1596.0,1120.9 L1596.4,1122.2 L1596.8,1125.6 L1597.2,1119.2 L1597.6,1125.8 L1598.0,1126.5 L1598.4,1124.9 L1598.8,1126.9 L1599.2,1125.0 L1599.6,1119.6 L1600.0,1119.8 L1600.4,1124.6 L1600.8,1128.1 L1601.2,1124.3 L1601.6,1120.6 L1602.0,1123.2 L1602.4,1113.8 L1602.8,1117.3 L1603.2,1119.7 L1603.6,1120.6 L1604.0,1119.1 L1604.4,1118.9 L1604.8,1114.1 L1605.2,1116.7 L1605.6,1120.2 L1606.0,1110.0 L1606.4,1112.5 L1606.8,1116.1 L1607.2,1124.4 L1607.6,1120.6 L1608.0,1124.5 L1608.4,1122.9 L1608.8,1114.3 L1609.2,1116.0 L1609.6,1110.5 L1610.0,1121.5 L1610.4,1119.2 L1610.8,1118.4 L1611.2,1118.6 L1611.6,1117.4 L1612.0,1116.1 L1612.4,1116.2 L1612.8,1120.3 L1613.2,1110.8 L1613.6,1109.4 L1614.0,1113.8 L1614.4,1118.9 L1614.8,1114.6 L1615.2,1112.5 L1615.6,1117.2 L1616.0,1113.7 L1616.4,1104.6 L1616.8,1108.1 L1617.2,1104.0 L1617.6,1111.3 L1618.0,1109.9 L1618.4,1113.7 L1618.8,1119.4 L1619.2,1108.5 L1619.6,1111.0 L1620.0,1109.2 L1620.4,1104.0 L1620.8,1108.1 L1621.2,1108.4 L1621.6,1111.0 L1622.0,1108.1 L1622.4,1107.6 L1622.8,1111.1 L1623.2,1110.0 L1623.6,1109.1 L1624.0,1109.3 L1624.4,1109.8 L1624.8,1111.4 L1625.2,1112.9 L1625.6,1108.1 L1626.0,1113.6 L1626.4,1111.3 L1626.8,1112.8 L1627.2,1115.5 L1627.6,1108.9 L1628.0,1116.0 L1628.4,1107.6 L1628.8,1111.6 L1629.2,1110.2 L1629.6,1121.5 L1630.0,1121.8 L1630.4,1118.1 L1630.8,1117.5 L1631.2,1113.1 L1631.6,1123.6 L1632.0,1122.7 L1632.4,1121.0 L1632.8,1116.9 L1633.2,1116.2 L1633.6,1117.9 L1634.0,1124.7 L1634.4,1115.0 L1634.8,1120.2 L1635.2,1127.4 L1635.6,1124.6 L1636.0,1128.6 L1636.4,1123.3 L1636.8,1124.0 L1637.2,1128.7 L1637.6,1126.0 L1638.0,1125.0 L1638.4,1122.1 L1638.8,1118.3 L1639.2,1132.4 L1639.6,1124.5 L1640.0,1123.5 L1640.4,1131.6 L1640.8,1124.3 L1641.2,1122.8 L1641.6,1126.8 L1642.0,1129.8 L1642.4,1132.0 L1642.8,1133.6 L1643.2,1135.9 L1643.6,1131.3 L1644.0,1133.5 L1644.4,1131.7 L1644.8,1129.7 L1645.2,1134.5 L1645.6,1134.4 L1646.0,1141.2 L1646.4,1136.0 L1646.8,1130.6 L1647.2,1136.2 L1647.6,1132.7 L1648.0,1141.4 L1648.4,1127.8 L1648.8,1132.9 L1649.2,1133.0 L1649.6,1136.6 L1650.0,1135.9 L1650.4,1129.8 L1650.8,1129.1 L1651.2,1138.4 L1651.6,1144.4 L1652.0,1144.7 L1652.4,1136.5 L1652.8,1140.4 L1653.2,1134.9 L1653.6,1132.7 L1654.0,1144.7 L1654.4,1142.3 L1654.8,1137.8 L1655.2,1137.9 L1655.6,1143.6 L1656.0,1140.8 L1656.4,1138.3 L1656.8,1140.8 L1657.2,1139.3 L1657.6,1137.7 L1658.0,1136.5 L1658.4,1143.7 L1658.8,1137.3 L1659.2,1134.4 L1659.6,1147.4 L1660.0,1145.1 L1660.4,1142.0 L1660.8,1139.3 L1661.2,1140.3 L1661.6,1133.2 L1662.0,1139.4 L1662.4,1140.3 L1662.8,1138.3 L1663.2,1140.8 L1663.6,1135.8 L1664.0,1140.1 L1664.4,1132.6 L1664.8,1139.0 L1665.2,1136.4 L1665.6,1133.7 L1666.0,1137.7 L1666.4,1139.5 L1666.8,1137.1 L1667.2,1143.8 L1667.6,1137.0 L1668.0,1144.1 L1668.4,1142.7 L1668.8,1136.4 L1669.2,1144.8 L1669.6,1132.8 L1670.0,1140.8 L1670.4,1138.7 L1670.8,1141.8 L1671.2,1131.6 L1671.6,1133.2 L1672.0,1134.4 L1672.4,1138.1 L1672.8,1138.5 L1673.2,1138.2 L1673.6,1136.8 L1674.0,1134.7 L1674.4,1131.8 L1674.8,1135.5 L1675.2,1139.3 L1675.6,1141.2 L1676.0,1134.4 L1676.4,1140.7 L1676.8,1130.3 L1677.2,1139.0 L1677.6,1130.9 L1678.0,1136.2 L1678.4,1130.7 L1678.8,1130.0 L1679.2,1131.6 L1679.6,1139.6 L1680.0,1130.2 L1680.4,1135.3 L1680.8,1132.6 L1681.2,1132.7 L1681.6,1132.4 L1682.0,1133.4 L1682.4,1125.2 L1682.8,1130.4 L1683.2,1131.3 L1683.6,1127.1 L1684.0,1130.4 L1684.4,1124.1 L1684.8,1130.9 L1685.2,1124.4 L1685.6,1125.5 L1686.0,1129.0 L1686.4,1129.5 L1686.8,1121.7 L1687.2,1121.1 L1687.6,1127.3 L1688.0,1114.8 L1688.4,1127.6 L1688.8,1126.9 L1689.2,1116.5 L1689.6,1125.3 L1690.0,1121.0 L1690.4,1121.0 L1690.8,1110.7 L1691.2,1115.2 L1691.6,1115.7 L1692.0,1114.1 L1692.4,1113.4 L1692.8,1113.0 L1693.2,1105.5 L1693.6,1111.7 L1694.0,1108.9 L1694.4,1110.5 L1694.8,1108.0 L1695.2,1109.7 L1695.6,1110.3 L1696.0,1116.1 L1696.4,1104.9 L1696.8,1114.9 L1697.2,1106.0 L1697.6,1102.7 L1698.0,1099.9 L1698.4,1109.1 L1698.8,1098.9 L1699.2,1108.7 L1699.6,1105.7 L1700.0,1101.3 L1700.4,1100.6 L1700.8,1105.0 L1701.2,1103.5 L1701.6,1105.7 L1702.0,1102.4 L1702.4,1100.0 L1702.8,1104.1 L1703.2,1096.6 L1703.6,1104.6 L1704.0,1101.3 L1704.4,1096.4 L1704.8,1096.6 L1705.2,1099.1 L1705.6,1093.2 L1706.0,1105.0 L1706.4,1102.9 L1706.8,1096.0 L1707.2,1099.1 L1707.6,1103.3 L1708.0,1099.6 L1708.4,1096.8 L1708.8,1095.8 L1709.2,1096.5 L1709.6,1099.9 L1710.0,1098.9 L1710.4,1097.3 L1710.8,1099.5 L1711.2,1098.1 L1711.6,1097.5 L1712.0,1097.7 L1712.4,1097.8 L1712.8,1103.8 L1713.2,1096.2 L1713.6,1098.0 L1714.0,1104.4 L1714.4,1105.3 L1714.8,1096.3 L1715.2,1107.6 L1715.6,1104.7 L1716.0,1094.7 L1716.4,1108.0 L1716.8,1094.6 L1717.2,1103.3 L1717.6,1096.2 L1718.0,1094.2 L1718.4,1105.1 L1718.8,1103.5 L1719.2,1101.7 L1719.6,1103.3 L1720.0,1102.7 L1720.4,1102.2 L1720.8,1099.1 L1721.2,1106.0 L1721.6,1103.9 L1722.0,1103.1 L1722.4,1102.2 L1722.8,1103.5 L1723.2,1098.8 L1723.6,1104.2 L1724.0,1101.8 L1724.4,1111.3 L1724.8,1102.4 L1725.2,1105.0 L1725.6,1107.3 L1726.0,1111.1 L1726.4,1110.2 L1726.8,1109.4 L1727.2,1117.2 L1727.6,1110.2 L1728.0,1112.0 L1728.4,1118.6 L1728.8,1108.2 L1729.2,1116.1 L1729.6,1114.5 L1730.0,1107.9 L1730.4,1111.3 L1730.8,1117.7 L1731.2,1108.9 L1731.6,1114.6 L1732.0,1119.9 L1732.4,1115.5 L1732.8,1117.9 L1733.2,1114.8 L1733.6,1115.6 L1734.0,1116.2 L1734.4,1117.7 L1734.8,1122.5 L1735.2,1120.7 L1735.6,1128.2 L1736.0,1123.7 L1736.4,1122.8 L1736.8,1129.4 L1737.2,1122.2 L1737.6,1119.8 L1738.0,1124.0 L1738.4,1119.1 L1738.8,1125.9 L1739.2,1129.7 L1739.6,1127.2 L1740.0,1123.3 L1740.4,1124.8 L1740.8,1128.0 L1741.2,1131.2 L1741.6,1125.2 L1742.0,1125.5 L1742.4,1131.9 L1742.8,1128.8 L1743.2,1129.7 L1743.6,1130.5 L1744.0,1125.9 L1744.4,1128.6 L1744.8,1133.6 L1745.2,1128.9 L1745.6,1128.6 L1746.0,1130.7 L1746.4,1131.0 L1746.8,1136.7 L1747.2,1126.2 L1747.6,1129.9 L1748.0,1136.5 L1748.4,1129.4 L1748.8,1130.7 L1749.2,1123.2 L1749.6,1132.8 L1750.0,1132.3 L1750.4,1131.8 L1750.8,1127.6 L1751.2,1129.5 L1751.6,1127.5 L1752.0,1130.7 L1752.4,1126.9 L1752.8,1129.5 L1753.2,1120.6 L1753.6,1124.1 L1754.0,1117.7 L1754.4,1124.0 L1754.8,1127.2 L1755.2,1122.6 L1755.6,1130.3 L1756.0,1118.9 L1756.4,1121.0 L1756.8,1118.3 L1757.2,1119.7 L1757.6,1119.4 L1758.0,1115.0 L1758.4,1116.6 L1758.8,1127.5 L1759.2,1119.0 L1759.6,1123.4 L1760.0,1114.5 L1760.4,1118.6 L1760.8,1120.7 L1761.2,1117.3 L1761.6,1115.5 L1762.0,1116.4 L1762.4,1117.0 L1762.8,1119.8 L1763.2,1120.9 L1763.6,1110.7 L1764.0,1108.3 L1764.4,1114.4 L1764.8,1114.7 L1765.2,1117.2 L1765.6,1118.5 L1766.0,1111.7 L1766.4,1121.2 L1766.8,1114.9 L1767.2,1106.9 L1767.6,1117.4 L1768.0,1114.7 L1768.4,1114.4 L1768.8,1107.3 L1769.2,1112.2 L1769.6,1113.6 L1770.0,1112.1 L1770.4,1114.5 L1770.8,1115.5 L1771.2,1115.6 L1771.6,1114.2 L1772.0,1110.7 L1772.4,1113.6 L1772.8,1110.9 L1773.2,1111.3 L1773.6,1110.0 L1774.0,1108.9 L1774.4,1108.4 L1774.8,1110.6 L1775.2,1109.6 L1775.6,1110.7 L1776.0,1112.9 L1776.4,1107.8 L1776.8,1107.0 L1777.2,1112.8 L1777.6,1113.4 L1778.0,1111.7 L1778.4,1111.5 L1778.8,1107.9 L1779.2,1113.7 L1779.6,1111.4 L1780.0,1116.4 L1780.4,1118.6 L1780.8,1113.1 L1781.2,1117.1 L1781.6,1116.9 L1782.0,1119.2 L1782.4,1122.7 L1782.8,1119.8 L1783.2,1120.3 L1783.6,1120.9 L1784.0,1116.7 L1784.4,1119.0 L1784.8,1120.9 L1785.2,1125.0 L1785.6,1125.5 L1786.0,1128.0 L1786.4,1117.4 L1786.8,1121.9 L1787.2,1116.1 L1787.6,1121.2 L1788.0,1117.1 L1788.4,1128.1 L1788.8,1127.1 L1789.2,1120.6 L1789.6,1126.2 L1790.0,1128.1 L1790.4,1132.3 L1790.8,1129.4 L1791.2,1127.2 L1791.6,1126.7 L1792.0,1129.8 L1792.4,1129.1 L1792.8,1126.7 L1793.2,1124.6 L1793.6,1133.8 L1794.0,1127.4 L1794.4,1129.6 L1794.8,1133.9 L1795.2,1131.3 L1795.6,1136.2 L1796.0,1128.3 L1796.4,1135.9 L1796.8,1128.4 L1797.2,1128.2 L1797.6,1130.4 L1798.0,1135.5 L1798.4,1133.1 L1798.8,1130.9 L1799.2,1141.0 L1799.6,1133.2 L1800.0,1136.8 L1800.4,1138.4 L1800.8,1135.9 L1801.2,1139.3 L1801.6,1140.3 L1802.0,1137.8 L1802.4,1142.4 L1802.8,1136.3 L1803.2,1134.8 L1803.6,1139.6 L1804.0,1135.5 L1804.4,1140.6 L1804.8,1138.9 L1805.2,1137.3 L1805.6,1141.0 L1806.0,1141.0 L1806.4,1132.3 L1806.8,1137.9 L1807.2,1139.7 L1807.6,1140.9 L1808.0,1137.0 L1808.4,1135.0 L1808.8,1140.0 L1809.2,1142.0 L1809.6,1132.8 L1810.0,1134.1 L1810.4,1137.8 L1810.8,1133.5 L1811.2,1138.0 L1811.6,1143.4 L1812.0,1136.5 L1812.4,1140.7 L1812.8,1137.0 L1813.2,1141.7 L1813.6,1142.4 L1814.0,1144.7 L1814.4,1140.4 L1814.8,1144.0 L1815.2,1141.7 L1815.6,1138.9 L1816.0,1146.1 L1816.4,1138.5 L1816.8,1141.2 L1817.2,1147.5 L1817.6,1144.3 L1818.0,1138.2 L1818.4,1142.3 L1818.8,1139.3 L1819.2,1140.7 L1819.6,1136.0 L1820.0,1142.5 L1820.4,1136.2 L1820.8,1143.2 L1821.2,1143.5 L1821.6,1145.4 L1822.0,1149.4 L1822.4,1136.8 L1822.8,1138.4 L1823.2,1139.5 L1823.6,1141.2 L1824.0,1146.6 L1824.4,1142.4 L1824.8,1141.6 L1825.2,1139.9 L1825.6,1141.9 L1826.0,1142.7 L1826.4,1144.2 L1826.8,1139.4 L1827.2,1144.5 L1827.6,1146.8 L1828.0,1146.2 L1828.4,1140.5 L1828.8,1147.9 L1829.2,1148.1 L1829.6,1146.5 L1830.0,1140.9 L1830.4,1140.2 L1830.8,1145.5 L1831.2,1141.7 L1831.6,1140.7 L1832.0,1149.0 L1832.4,1149.1 L1832.8,1148.6 L1833.2,1151.2 L1833.6,1149.9 L1834.0,1142.6 L1834.4,1151.3 L1834.8,1147.8 L1835.2,1149.3 L1835.6,1153.4 L1836.0,1149.4 L1836.4,1153.3 L1836.8,1148.1 L1837.2,1146.6 L1837.6,1145.5 L1838.0,1147.4 L1838.4,1141.7 L1838.8,1147.7 L1839.2,1147.4 L1839.6,1146.2 L1840.0,1141.6 L1840.4,1141.6 L1840.8,1150.7 L1841.2,1144.7 L1841.6,1153.2 L1842.0,1145.7 L1842.4,1149.6 L1842.8,1143.5 L1843.2,1146.6 L1843.6,1148.1 L1844.0,1150.9 L1844.4,1154.8 L1844.8,1152.5 L1845.2,1143.9 L1845.6,1149.1 L1846.0,1148.4 L1846.4,1146.9 L1846.8,1151.5 L1847.2,1154.8 L1847.6,1147.5 L1848.0,1153.1 L1848.4,1154.2 L1848.8,1145.7 L1849.2,1155.7 L1849.6,1155.2 L1850.0,1150.3 L1850.4,1155.3 L1850.8,1150.3 L1851.2,1153.6 L1851.6,1151.7 L1852.0,1146.4 L1852.4,1150.2 L1852.8,1148.7 L1853.2,1147.6 L1853.6,1145.3 L1854.0,1146.5 L1854.4,1144.8 L1854.8,1153.1 L1855.2,1142.8 L1855.6,1149.2 L1856.0,1146.9 L1856.4,1144.5 L1856.8,1151.5 L1857.2,1146.1 L1857.6,1153.6 L1858.0,1148.9 L1858.4,1150.9 L1858.8,1149.6 L1859.2,1152.1 L1859.6,1153.1 L1860.0,1148.2 L1860.4,1149.8 L1860.8,1156.1 L1861.2,1148.1 L1861.6,1156.6 L1862.0,1149.0 L1862.4,1148.7 L1862.8,1144.7 L1863.2,1147.6 L1863.6,1144.4 L1864.0,1148.4 L1864.4,1152.7 L1864.8,1150.2 L1865.2,1148.2 L1865.6,1146.8 L1866.0,1147.6 L1866.4,1145.0 L1866.8,1145.6 L1867.2,1156.2 L1867.6,1150.9 L1868.0,1147.0 L1868.4,1152.7 L1868.8,1155.7 L1869.2,1148.5 L1869.6,1150.3 L1870.0,1146.3 L1870.4,1145.1 L1870.8,1155.6 L1871.2,1157.2 L1871.6,1148.4 L1872.0,1145.5 L1872.4,1156.1 L1872.8,1155.1 L1873.2,1153.4 L1873.6,1156.8 L1874.0,1150.6 L1874.4,1152.9 L1874.8,1154.9 L1875.2,1151.4 L1875.6,1154.1 L1876.0,1151.8 L1876.4,1154.0 L1876.8,1153.1 L1877.2,1146.3 L1877.6,1152.8 L1878.0,1147.4 L1878.4,1149.1 L1878.8,1146.6 L1879.2,1154.9 L1879.6,1151.3 L1880.0,1151.1 L1880.4,1156.6 L1880.8,1154.8 L1881.2,1151.5 L1881.6,1145.9 L1882.0,1154.3 L1882.4,1151.2 L1882.8,1150.8 L1883.2,1154.4 L1883.6,1149.6 L1884.0,1151.4 L1884.4,1154.7 L1884.8,1153.8 L1885.2,1149.8 L1885.6,1156.9 L1886.0,1155.9 L1886.4,1158.4 L1886.8,1152.2 L1887.2,1153.2 L1887.6,1156.2 L1888.0,1154.1 L1888.4,1153.0 L1888.8,1152.2 L1889.2,1151.3 L1889.6,1149.9 L1890.0,1150.0 L1890.4,1153.5 L1890.8,1151.6 L1891.2,1147.6 L1891.6,1152.6 L1892.0,1157.9 L1892.4,1156.9 L1892.8,1146.1 L1893.2,1149.2 L1893.6,1154.5 L1894.0,1152.2 L1894.4,1152.2 L1894.8,1151.5 L1895.2,1151.7 L1895.6,1147.9 L1896.0,1155.3 L1896.4,1147.8 L1896.8,1151.2 L1897.2,1156.8 L1897.6,1155.5 L1898.0,1151.9 L1898.4,1151.8 L1898.8,1150.2 L1899.2,1150.3 L1899.6,1151.2 L1900.0,1156.3 L1900.4,1150.6 L1900.8,1153.9 L1901.2,1153.5 L1901.6,1153.5 L1902.0,1151.6 L1902.4,1154.8 L1902.8,1152.7 L1903.2,1152.3 L1903.6,1150.4 L1904.0,1146.0 L1904.4,1154.7 L1904.8,1154.7 L1905.2,1150.5 L1905.6,1151.5 L1906.0,1152.7 L1906.4,1148.5 L1906.8,1153.9 L1907.2,1153.6 L1907.6,1153.9 L1908.0,1153.9 L1908.4,1144.9 L1908.8,1152.7 L1909.2,1149.5 L1909.6,1154.7 L1910.0,1154.6 L1910.4,1153.9 L1910.8,1151.2 L1911.2,1157.1 L1911.6,1151.1 L1912.0,1147.7 L1912.4,1154.3 L1912.8,1146.5 L1913.2,1157.3 L1913.6,1154.9 L1914.0,1155.9 L1914.4,1154.9 L1914.8,1152.6 L1915.2,1146.9 L1915.6,1149.6 L1916.0,1153.4 L1916.4,1150.7 L1916.8,1152.7 L1917.2,1149.1 L1917.6,1148.6 L1918.0,1152.1 L1918.4,1153.5 L1918.8,1150.9 L1919.2,1147.9 L1919.6,1145.6 L1920.0,1156.7 L1920.4,1147.0 L1920.8,1147.9 L1921.2,1148.3 L1921.6,1153.6 L1922.0,1147.9 L1922.4,1152.1 L1922.8,1151.4 L1923.2,1146.8 L1923.6,1151.1 L1924.0,1146.5 L1924.4,1149.8 L1924.8,1152.6 L1925.2,1149.5 L1925.6,1147.4 L1926.0,1148.9 L1926.4,1150.0 L1926.8,1151.6 L1927.2,1144.5 L1927.6,1144.9 L1928.0,1152.4 L1928.4,1150.4 L1928.8,1150.9 L1929.2,1151.8 L1929.6,1150.6 L1930.0,1149.7 L1930.4,1151.4 L1930.8,1153.2 L1931.2,1152.0 L1931.6,1150.9 L1932.0,1147.6 L1932.4,1152.0 L1932.8,1147.6 L1933.2,1149.1 L1933.6,1151.7 L1934.0,1151.6 L1934.4,1154.7 L1934.8,1154.2 L1935.2,1152.9 L1935.6,1150.5 L1936.0,1151.3 L1936.4,1150.5 L1936.8,1156.9 L1937.2,1152.5 L1937.6,1149.0 L1938.0,1148.5 L1938.4,1155.3 L1938.8,1148.5 L1939.2,1152.7 L1939.6,1151.5 L1940.0,1154.3 L1940.4,1148.4 L1940.8,1152.6 L1941.2,1151.7 L1941.6,1153.7 L1942.0,1155.7 L1942.4,1151.9 L1942.8,1150.8 L1943.2,1154.4 L1943.6,1147.2 L1944.0,1152.4 L1944.4,1148.7 L1944.8,1148.1 L1945.2,1146.8 L1945.6,1146.6 L1946.0,1154.6 L1946.4,1154.8 L1946.8,1152.2 L1947.2,1155.3 L1947.6,1152.1 L1948.0,1150.4 L1948.4,1148.7 L1948.8,1154.7 L1949.2,1154.6 L1949.6,1155.8 L1950.0,1149.1 L1950.4,1150.9 L1950.8,1147.5 L1951.2,1155.6 L1951.6,1154.1 L1952.0,1153.3 L1952.4,1151.4 L1952.8,1150.9 L1953.2,1150.0 L1953.6,1154.6 L1954.0,1149.0 L1954.4,1153.9 L1954.8,1152.0 L1955.2,1147.7 L1955.6,1146.6 L1956.0,1148.7 L1956.4,1151.1 L1956.8,1147.1 L1957.2,1153.4 L1957.6,1155.1 L1958.0,1153.2 L1958.4,1145.8 L1958.8,1145.3 L1959.2,1154.2 L1959.6,1155.9 L1960.0,1150.2 L1960.4,1153.2 L1960.8,1150.4 L1961.2,1149.5 L1961.6,1154.7 L1962.0,1149.8 L1962.4,1154.1 L1962.8,1156.9 L1963.2,1150.8 L1963.6,1157.0 L1964.0,1146.8 L1964.4,1154.0 L1964.8,1151.0 L1965.2,1156.8 L1965.6,1151.1 L1966.0,1147.9 L1966.4,1156.0 L1966.8,1145.5 L1967.2,1151.8 L1967.6,1147.8 L1968.0,1155.0 L1968.4,1150.1 L1968.8,1153.3 L1969.2,1150.3 L1969.6,1146.9 L1970.0,1144.5 L1970.4,1156.2 L1970.8,1150.8 L1971.2,1146.2 L1971.6,1148.9 L1972.0,1153.1 L1972.4,1145.2 L1972.8,1156.0 L1973.2,1149.1 L1973.6,1148.9 L1974.0,1154.4 L1974.4,1150.9 L1974.8,1146.7 L1975.2,1152.9 L1975.6,1151.3 L1976.0,1153.4 L1976.4,1146.6 L1976.8,1146.1 L1977.2,1151.6 L1977.6,1148.1 L1978.0,1143.4 L1978.4,1147.3 L1978.8,1151.3 L1979.2,1146.7 L1979.6,1153.2 L1980.0,1147.9 L1980.4,1149.1 L1980.8,1143.9 L1981.2,1146.6 L1981.6,1148.5 L1982.0,1151.0 L1982.4,1149.6 L1982.8,1152.5 L1983.2,1143.2 L1983.6,1149.4 L1984.0,1148.8 L1984.4,1145.8 L1984.8,1149.2 L1985.2,1146.9 L1985.6,1150.7 L1986.0,1148.1 L1986.4,1151.2 L1986.8,1146.6 L1987.2,1153.6 L1987.6,1150.8 L1988.0,1155.4 L1988.4,1149.2 L1988.8,1147.9 L1989.2,1149.7 L1989.6,1147.7 L1990.0,1145.9 L1990.4,1149.3 L1990.8,1149.1 L1991.2,1147.5 L1991.6,1148.3 L1992.0,1146.4 L1992.4,1150.1 L1992.8,1145.4 L1993.2,1155.2 L1993.6,1149.7 L1994.0,1152.5 L1994.4,1145.5 L1994.8,1150.3 L1995.2,1148.8 L1995.6,1152.4 L1996.0,1152.1 L1996.4,1143.7 L1996.8,1152.8 L1997.2,1144.1 L1997.6,1153.5 L1998.0,1149.0 L1998.4,1145.2 L1998.8,1151.5 L1999.2,1149.4 L1999.6,1146.2 L2000.0,1146.6 L2000.4,1150.4 L2000.8,1144.4 L2001.2,1146.2 L2001.6,1154.8 L2002.0,1146.5 L2002.4,1150.2 L2002.8,1150.4 L2003.2,1151.9 L2003.6,1151.5 L2004.0,1142.7 L2004.4,1146.9 L2004.8,1152.2 L2005.2,1145.4 L2005.6,1153.9 L2006.0,1149.0 L2006.4,1144.1 L2006.8,1149.8 L2007.2,1153.7 L2007.6,1145.8 L2008.0,1149.9 L2008.4,1145.1 L2008.8,1145.8 L2009.2,1148.1 L2009.6,1149.2 L2010.0,1148.9 L2010.4,1148.3 L2010.8,1153.3 L2011.2,1143.7 L2011.6,1141.2 L2012.0,1148.9 L2012.4,1147.5 L2012.8,1142.1 L2013.2,1152.2 L2013.6,1144.2 L2014.0,1141.8 L2014.4,1147.7 L2014.8,1148.3 L2015.2,1152.2 L2015.6,1141.2 L2016.0,1141.8 L2016.4,1145.1 L2016.8,1144.5 L2017.2,1145.7 L2017.6,1143.5 L2018.0,1140.4 L2018.4,1143.8 L2018.8,1147.7 L2019.2,1147.8 L2019.6,1142.9 L2020.0,1146.6 L2020.4,1146.3 L2020.8,1143.1 L2021.2,1143.3 L2021.6,1144.3 L2022.0,1149.8 L2022.4,1144.3 L2022.8,1140.5 L2023.2,1142.7 L2023.6,1141.4 L2024.0,1146.7 L2024.4,1136.8 L2024.8,1139.0 L2025.2,1145.1 L2025.6,1143.5 L2026.0,1141.9 L2026.4,1143.8 L2026.8,1137.1 L2027.2,1142.3 L2027.6,1137.2 L2028.0,1136.4 L2028.4,1141.7 L2028.8,1137.2 L2029.2,1138.3 L2029.6,1141.3 L2030.0,1135.8 L2030.4,1140.9 L2030.8,1144.6 L2031.2,1138.0 L2031.6,1141.6 L2032.0,1141.0 L2032.4,1134.1 L2032.8,1133.6 L2033.2,1137.9 L2033.6,1131.8 L2034.0,1137.5 L2034.4,1138.1 L2034.8,1138.6 L2035.2,1138.6 L2035.6,1141.3 L2036.0,1135.9 L2036.4,1141.2 L2036.8,1138.2 L2037.2,1138.1 L2037.6,1135.6 L2038.0,1138.9 L2038.4,1133.3 L2038.8,1138.2 L2039.2,1139.2 L2039.6,1133.1 L2040.0,1131.9 L2040.4,1132.4 L2040.8,1134.5 L2041.2,1135.8 L2041.6,1137.3 L2042.0,1140.1 L2042.4,1139.4 L2042.8,1134.9 L2043.2,1132.7 L2043.6,1129.9 L2044.0,1136.4 L2044.4,1135.2 L2044.8,1132.6 L2045.2,1132.7 L2045.6,1133.0 L2046.0,1127.4 L2046.4,1133.1 L2046.8,1134.3 L2047.2,1132.6 L2047.6,1129.6 L2048.0,1133.3 L2048.4,1134.6 L2048.8,1138.9 L2049.2,1136.5 L2049.6,1135.0 L2050.0,1133.0 L2050.4,1128.8 L2050.8,1131.7 L2051.2,1128.7 L2051.6,1133.0 L2052.0,1136.9 L2052.4,1136.8 L2052.8,1136.4 L2053.2,1133.7 L2053.6,1136.9 L2054.0,1132.7 L2054.4,1128.0 L2054.8,1134.4 L2055.2,1134.2 L2055.6,1128.3 L2056.0,1132.2 L2056.4,1128.2 L2056.8,1132.9 L2057.2,1138.4 L2057.6,1132.6 L2058.0,1139.3 L2058.4,1135.9 L2058.8,1132.9 L2059.2,1129.7 L2059.6,1137.9 L2060.0,1137.8 L2060.4,1130.9 L2060.8,1134.6 L2061.2,1139.9 L2061.6,1133.8 L2062.0,1137.7 L2062.4,1130.7 L2062.8,1133.7 L2063.2,1139.2 L2063.6,1133.0 L2064.0,1132.3 L2064.4,1132.4 L2064.8,1135.8 L2065.2,1131.7 L2065.6,1136.6 L2066.0,1138.8 L2066.4,1141.8 L2066.8,1135.6 L2067.2,1142.2 L2067.6,1138.8 L2068.0,1136.2 L2068.4,1138.4 L2068.8,1141.5 L2069.2,1141.2 L2069.6,1138.7 L2070.0,1135.6 L2070.4,1138.4 L2070.8,1136.3 L2071.2,1135.8 L2071.6,1136.1 L2072.0,1140.8 L2072.4,1131.0 L2072.8,1134.2 L2073.2,1130.9 L2073.6,1136.8 L2074.0,1137.6 L2074.4,1138.1 L2074.8,1132.2 L2075.2,1133.4 L2075.6,1135.8 L2076.0,1133.6 L2076.4,1133.8 L2076.8,1133.1 L2077.2,1133.1 L2077.6,1132.0 L2078.0,1133.5 L2078.4,1127.1 L2078.8,1130.3 L2079.2,1127.0 L2079.6,1130.7 L2080.0,1128.5 L2080.4,1132.6 L2080.8,1134.9 L2081.2,1126.5 L2081.6,1127.7 L2082.0,1131.2 L2082.4,1134.7 L2082.8,1132.3 L2083.2,1131.2 L2083.6,1129.2 L2084.0,1127.6 L2084.4,1130.0 L2084.8,1130.2 L2085.2,1128.8 L2085.6,1126.2 L2086.0,1122.6 L2086.4,1124.7 L2086.8,1126.2 L2087.2,1123.3 L2087.6,1127.7 L2088.0,1121.9 L2088.4,1125.4 L2088.8,1127.5 L2089.2,1128.9 L2089.6,1126.9 L2090.0,1130.0 L2090.4,1124.2 L2090.8,1123.6 L2091.2,1129.7 L2091.6,1123.3 L2092.0,1125.5 L2092.4,1120.2 L2092.8,1129.3 L2093.2,1128.2 L2093.6,1123.7 L2094.0,1120.4 L2094.4,1126.7 L2094.8,1126.9 L2095.2,1130.0 L2095.6,1131.8 L2096.0,1126.8 L2096.4,1125.7 L2096.8,1125.5 L2097.2,1125.4 L2097.6,1122.0 L2098.0,1123.6 L2098.4,1126.2 L2098.8,1121.3 L2099.2,1122.6 L2099.6,1130.9 L2100.0,1124.8 L2100.4,1129.7 L2100.8,1130.7 L2101.2,1127.3 L2101.6,1129.8 L2102.0,1126.5 L2102.4,1124.2 L2102.8,1126.5 L2103.2,1127.1 L2103.6,1127.3 L2104.0,1127.2 L2104.4,1125.7 L2104.8,1130.2 L2105.2,1126.2 L2105.6,1125.5 L2106.0,1129.9 L2106.4,1123.7 L2106.8,1126.9 L2107.2,1131.6 L2107.6,1127.3 L2108.0,1131.7 L2108.4,1126.3 L2108.8,1125.4 L2109.2,1126.4 L2109.6,1125.0 L2110.0,1125.6 L2110.4,1125.2 L2110.8,1129.3 L2111.2,1127.9 L2111.6,1125.8 L2112.0,1124.1 L2112.4,1132.2 L2112.8,1125.9 L2113.2,1131.1 L2113.6,1122.7 L2114.0,1123.8 L2114.4,1130.1 L2114.8,1122.8 L2115.2,1122.9 L2115.6,1126.1 L2116.0,1124.0 L2116.4,1125.3 L2116.8,1126.7 L2117.2,1129.2 L2117.6,1127.0 L2118.0,1127.2 L2118.4,1130.4 L2118.8,1130.7 L2119.2,1125.0 L2119.6,1120.0 L2120.0,1122.8 L2120.4,1129.7 L2120.8,1124.8 L2121.2,1124.3 L2121.6,1125.1 L2122.0,1131.6 L2122.4,1127.0 L2122.8,1125.8 L2123.2,1124.9 L2123.6,1123.6 L2124.0,1132.6 L2124.4,1126.9 L2124.8,1127.4 L2125.2,1126.0 L2125.6,1130.4 L2126.0,1123.6 L2126.4,1121.0 L2126.8,1125.0 L2127.2,1127.7 L2127.6,1132.2 L2128.0,1126.2 L2128.4,1123.6 L2128.8,1125.3 L2129.2,1123.5 L2129.6,1123.4 L2130.0,1126.3 L2130.4,1126.7 L2130.8,1123.5 L2131.2,1128.9 L2131.6,1125.1 L2132.0,1125.5 L2132.4,1123.5 L2132.8,1126.4 L2133.2,1126.6 L2133.6,1127.2 L2134.0,1122.5 L2134.4,1127.2 L2134.8,1123.4 L2135.2,1125.4 L2135.6,1127.2 L2136.0,1129.3 L2136.4,1122.8 L2136.8,1120.6 L2137.2,1124.2 L2137.6,1127.3 L2138.0,1122.2 L2138.4,1128.7 L2138.8,1117.0 L2139.2,1127.7 L2139.6,1126.5 L2140.0,1126.1 L2140.4,1119.8 L2140.8,1126.3 L2141.2,1125.4 L2141.6,1125.2 L2142.0,1120.5 L2142.4,1120.3 L2142.8,1124.8 L2143.2,1121.3 L2143.6,1118.9 L2144.0,1117.1 L2144.4,1120.2 L2144.8,1114.6 L2145.2,1120.5 L2145.6,1118.6 L2146.0,1112.7 L2146.4,1118.9 L2146.8,1120.8 L2147.2,1117.5 L2147.6,1112.3 L2148.0,1114.3 L2148.4,1118.6 L2148.8,1111.3 L2149.2,1114.1 L2149.6,1118.5 L2150.0,1113.7 L2150.4,1112.5 L2150.8,1116.8 L2151.2,1119.2 L2151.6,1115.2 L2152.0,1109.4 L2152.4,1108.3 L2152.8,1112.3 L2153.2,1106.9 L2153.6,1112.3 L2154.0,1115.4 L2154.4,1106.3 L2154.8,1111.3 L2155.2,1112.5 L2155.6,1109.7 L2156.0,1112.6 L2156.4,1113.0 L2156.8,1114.3 L2157.2,1116.1 L2157.6,1111.7 L2158.0,1108.3 L2158.4,1108.1 L2158.8,1107.6 L2159.2,1112.0 L2159.6,1110.9 L2160.0,1110.8 L2160.4,1110.2 L2160.8,1111.7 L2161.2,1110.9 L2161.6,1110.7 L2162.0,1109.4 L2162.4,1109.6 L2162.8,1108.6 L2163.2,1109.2 L2163.6,1110.1 L2164.0,1108.0 L2164.4,1108.9 L2164.8,1114.1 L2165.2,1110.2 L2165.6,1107.0 L2166.0,1107.8 L2166.4,1111.2 L2166.8,1114.3 L2167.2,1111.7 L2167.6,1114.8 L2168.0,1113.1 L2168.4,1109.1 L2168.8,1116.2 L2169.2,1112.0 L2169.6,1119.3 L2170.0,1112.1 L2170.4,1113.7 L2170.8,1112.8 L2171.2,1113.9 L2171.6,1116.6 L2172.0,1114.9 L2172.4,1119.5 L2172.8,1117.6 L2173.2,1121.7 L2173.6,1117.1 L2174.0,1121.3 L2174.4,1121.3 L2174.8,1117.3 L2175.2,1123.5 L2175.6,1123.2 L2176.0,1120.2 L2176.4,1118.4 L2176.8,1118.9 L2177.2,1119.1 L2177.6,1121.0 L2178.0,1116.8 L2178.4,1121.0 L2178.8,1119.1 L2179.2,1126.7 L2179.6,1124.2 L2180.0,1127.4 L2180.4,1128.0 L2180.8,1124.4 L2181.2,1128.9 L2181.6,1124.8 L2182.0,1126.0 L2182.4,1121.3 L2182.8,1124.6 L2183.2,1129.4 L2183.6,1126.8 L2184.0,1124.2 L2184.4,1125.8 L2184.8,1123.7 L2185.2,1124.3 L2185.6,1122.1 L2186.0,1130.5 L2186.4,1130.6 L2186.8,1127.1 L2187.2,1123.5 L2187.6,1127.1 L2188.0,1133.7 L2188.4,1124.3 L2188.8,1127.0 L2189.2,1127.4 L2189.6,1131.5 L2190.0,1125.3 L2190.4,1130.5 L2190.8,1127.4 L2191.2,1129.0 L2191.6,1126.6 L2192.0,1132.2 L2192.4,1129.0 L2192.8,1128.8 L2193.2,1134.2 L2193.6,1131.9 L2194.0,1136.7 L2194.4,1132.7 L2194.8,1131.7 L2195.2,1131.9 L2195.6,1137.2 L2196.0,1135.8 L2196.4,1131.3 L2196.8,1133.2 L2197.2,1130.9 L2197.6,1134.9 L2198.0,1131.4 L2198.4,1131.4 L2198.8,1134.4 L2199.2,1137.3 L2199.6,1135.7 L2200.0,1135.4 L2200.4,1133.1 L2200.8,1126.8 L2201.2,1132.2 L2201.6,1131.8 L2202.0,1134.2 L2202.4,1137.6 L2202.8,1134.3 L2203.2,1126.5 L2203.6,1131.7 L2204.0,1130.6 L2204.4,1133.5 L2204.8,1130.7 L2205.2,1124.8 L2205.6,1127.6 L2206.0,1129.2 L2206.4,1124.0 L2206.8,1129.5 L2207.2,1128.7 L2207.6,1132.7 L2208.0,1128.9 L2208.4,1127.3 L2208.8,1128.8 L2209.2,1129.2 L2209.6,1132.0 L2210.0,1125.7 L2210.4,1122.7 L2210.8,1133.8 L2211.2,1130.5 L2211.6,1128.1 L2212.0,1133.4 L2212.4,1123.9 L2212.8,1125.0 L2213.2,1125.7 L2213.6,1128.3 L2214.0,1124.9 L2214.4,1128.4 L2214.8,1124.5 L2215.2,1129.6 L2215.6,1126.8 L2216.0,1120.0 L2216.4,1124.7 L2216.8,1120.9 L2217.2,1123.9 L2217.6,1124.2 L2218.0,1129.5 L2218.4,1122.8 L2218.8,1118.5 L2219.2,1124.0 L2219.6,1119.9 L2220.0,1129.1 L2220.4,1126.0 L2220.8,1128.9 L2221.2,1122.9 L2221.6,1121.2 L2222.0,1125.7 L2222.4,1120.4 L2222.8,1122.0 L2223.2,1122.9 L2223.6,1124.9 L2224.0,1120.6 L2224.4,1119.8 L2224.8,1130.4 L2225.2,1124.3 L2225.6,1125.7 L2226.0,1128.7 L2226.4,1128.3 L2226.8,1125.0 L2227.2,1125.9 L2227.6,1132.9 L2228.0,1131.9 L2228.4,1130.4 L2228.8,1133.6 L2229.2,1122.6 L2229.6,1128.8 L2230.0,1127.8 L2230.4,1123.1 L2230.8,1130.3 L2231.2,1131.7 L2231.6,1130.7 L2232.0,1124.3 L2232.4,1129.6 L2232.8,1131.4 L2233.2,1130.1 L2233.6,1132.2 L2234.0,1133.2 L2234.4,1136.5 L2234.8,1133.2 L2235.2,1138.4 L2235.6,1133.8 L2236.0,1134.3 L2236.4,1136.2 L2236.8,1134.1 L2237.2,1133.7 L2237.6,1139.0 L2238.0,1129.5 L2238.4,1130.2 L2238.8,1141.8 L2239.2,1138.7 L2239.6,1138.5 L2240.0,1137.8 L2240.4,1138.2 L2240.8,1134.3 L2241.2,1136.6 L2241.6,1134.5 L2242.0,1141.5 L2242.4,1140.1 L2242.8,1139.0 L2243.2,1139.6 L2243.6,1138.2 L2244.0,1135.3 L2244.4,1144.7 L2244.8,1141.6 L2245.2,1139.1 L2245.6,1141.8 L2246.0,1144.2 L2246.4,1143.7 L2246.8,1142.5 L2247.2,1143.1 L2247.6,1140.0 L2248.0,1144.9 L2248.4,1144.2 L2248.8,1144.3 L2249.2,1137.2 L2249.6,1143.4 L2250.0,1143.9 L2250.4,1144.4 L2250.8,1136.2 L2251.2,1136.3 L2251.6,1143.1 L2252.0,1139.3 L2252.4,1143.8 L2252.8,1142.3 L2253.2,1145.5 L2253.6,1141.0 L2254.0,1139.7 L2254.4,1145.0 L2254.8,1142.4 L2255.2,1139.5 L2255.6,1137.3 L2256.0,1148.8 L2256.4,1142.4 L2256.8,1142.9 L2257.2,1137.9 L2257.6,1140.3 L2258.0,1143.0 L2258.4,1144.5 L2258.8,1146.1 L2259.2,1141.3 L2259.6,1145.1 L2260.0,1147.3 L2260.4,1142.4 L2260.8,1143.7 L2261.2,1138.5 L2261.6,1141.6 L2262.0,1139.8 L2262.4,1146.4 L2262.8,1143.7 L2263.2,1149.5 L2263.6,1145.1 L2264.0,1146.9 L2264.4,1146.0 L2264.8,1145.2 L2265.2,1141.2 L2265.6,1150.0 L2266.0,1144.6 L2266.4,1139.2 L2266.8,1143.2 L2267.2,1141.5 L2267.6,1149.2 L2268.0,1148.7 L2268.4,1150.3 L2268.8,1151.0 L2269.2,1143.8 L2269.6,1140.1 L2270.0,1142.8 L2270.4,1147.0 L2270.8,1140.0 L2271.2,1143.8 L2271.6,1148.3 L2272.0,1143.0 L2272.4,1145.3 L2272.8,1142.8 L2273.2,1151.4 L2273.6,1151.2 L2274.0,1142.6 L2274.4,1142.9 L2274.8,1145.9 L2275.2,1147.8 L2275.6,1147.0 L2276.0,1147.8 L2276.4,1148.8 L2276.8,1149.4 L2277.2,1150.8 L2277.6,1146.0 L2278.0,1144.2" fill="none" stroke="#0000ff" stroke-width="9" stroke-linejoin="round" stroke-linecap="round"/>
<path d="M74.6,1037.1 L75.0,994.8 L75.4,1020.8 L75.8,1008.7 L76.2,1010.9 L76.6,1013.5 L77.0,995.5 L77.4,1013.7 L77.8,1007.0 L78.2,1037.6 L78.6,1020.0 L79.0,1013.3 L79.4,1015.3 L79.8,1010.8 L80.2,1006.4 L80.6,1013.5 L81.0,1023.6 L81.4,1014.8 L81.8,1027.8 L82.2,1014.5 L82.6,1017.7 L83.0,1034.5 L83.4,1023.8 L83.8,1012.3 L84.2,1015.6 L84.6,1023.8 L85.0,1038.1 L85.4,1014.7 L85.8,1015.1 L86.2,1028.7 L86.6,1008.0 L87.0,1014.0 L87.4,1026.9 L87.8,1025.1 L88.2,1020.4 L88.6,1027.3 L89.0,1000.8 L89.4,1031.6 L89.8,1011.3 L90.2,1004.4 L90.6,1024.8 L91.0,1029.3 L91.4,1016.9 L91.8,1010.4 L92.2,1022.4 L92.6,1021.6 L93.0,1037.5 L93.4,1030.3 L93.8,1024.2 L94.2,1034.0 L94.6,1020.7 L95.0,1013.1 L95.4,1028.6 L95.8,1029.3 L96.2,1021.6 L96.6,1015.5 L97.0,1026.1 L97.4,1005.7 L97.8,1032.0 L98.2,1030.2 L98.6,1009.5 L99.0,1026.3 L99.4,1016.0 L99.8,1032.3 L100.2,1006.9 L100.6,1016.3 L101.0,1032.3 L101.4,1037.0 L101.8,1008.2 L102.2,1021.3 L102.6,1029.4 L103.0,1020.0 L103.4,1041.0 L103.8,1013.6 L104.2,1028.6 L104.6,1014.9 L105.0,1039.2 L105.4,1026.0 L105.8,1022.7 L106.2,1009.9 L106.6,1042.6 L107.0,1034.2 L107.4,1035.3 L107.8,1039.7 L108.2,1032.5 L108.6,1022.9 L109.0,1021.4 L109.4,1021.7 L109.8,1041.6 L110.2,1015.0 L110.6,1022.8 L111.0,1024.9 L111.4,1030.2 L111.8,1033.7 L112.2,1017.3 L112.6,1012.6 L113.0,1028.2 L113.4,1040.0 L113.8,1035.4 L114.2,1030.6 L114.6,1025.2 L115.0,1031.1 L115.4,1026.7 L115.8,1036.8 L116.2,1022.4 L116.6,1030.8 L117.0,1028.7 L117.4,1034.6 L117.8,1032.1 L118.2,1045.3 L118.6,1042.5 L119.0,1042.3 L119.4,1013.7 L119.8,1027.4 L120.2,1025.2 L120.6,1035.4 L121.0,1014.3 L121.4,1040.1 L121.8,1038.7 L122.2,1018.0 L122.6,1020.6 L123.0,1022.0 L123.4,1030.2 L123.8,1036.2 L124.2,1047.3 L124.6,1029.6 L125.0,1038.8 L125.4,1033.9 L125.8,1048.2 L126.2,1039.3 L126.6,1044.7 L127.0,1022.8 L127.4,1031.0 L127.8,1025.1 L128.2,1045.8 L128.6,1038.1 L129.0,1029.0 L129.4,1027.6 L129.8,1036.0 L130.2,1025.5 L130.6,1023.4 L131.0,1036.2 L131.4,1048.7 L131.8,1030.3 L132.2,1027.4 L132.6,1021.9 L133.0,1020.0 L133.4,1037.2 L133.8,1039.9 L134.2,1032.9 L134.6,1036.3 L135.0,1034.9 L135.4,1035.0 L135.8,1019.7 L136.2,1029.2 L136.6,1034.9 L137.0,1026.3 L137.4,1029.3 L137.8,1025.5 L138.2,1029.9 L138.6,1041.1 L139.0,1029.3 L139.4,1032.2 L139.8,1041.2 L140.2,1039.6 L140.6,1049.7 L141.0,1017.2 L141.4,1042.7 L141.8,1031.0 L142.2,1037.1 L142.6,1044.4 L143.0,1046.8 L143.4,1046.8 L143.8,1038.4 L144.2,1052.3 L144.6,1034.6 L145.0,1035.5 L145.4,1044.3 L145.8,1031.5 L146.2,1053.7 L146.6,1046.2 L147.0,1054.0 L147.4,1037.1 L147.8,1034.2 L148.2,1039.2 L148.6,1044.8 L149.0,1033.1 L149.4,1042.4 L149.8,1039.7 L150.2,1054.7 L150.6,1034.1 L151.0,1050.4 L151.4,1034.9 L151.8,1032.4 L152.2,1034.1 L152.6,1030.0 L153.0,1042.2 L153.4,1050.5 L153.8,1043.0 L154.2,1047.2 L154.6,1056.4 L155.0,1044.1 L155.4,1043.7 L155.8,1039.4 L156.2,1027.5 L156.6,1048.9 L157.0,1026.0 L157.4,1048.1 L157.8,1042.1 L158.2,1052.4 L158.6,1041.9 L159.0,1035.6 L159.4,1047.0 L159.8,1038.6 L160.2,1042.3 L160.6,1044.1 L161.0,1042.5 L161.4,1042.0 L161.8,1036.4 L162.2,1042.3 L162.6,1028.2 L163.0,1043.0 L163.4,1033.9 L163.8,1054.5 L164.2,1056.4 L164.6,1029.3 L165.0,1046.4 L165.4,1044.1 L165.8,1036.6 L166.2,1050.0 L166.6,1041.5 L167.0,1029.7 L167.4,1043.0 L167.8,1044.0 L168.2,1046.2 L168.6,1035.1 L169.0,1051.3 L169.4,1052.3 L169.8,1036.4 L170.2,1040.7 L170.6,1046.1 L171.0,1041.5 L171.4,1061.2 L171.8,1048.4 L172.2,1038.1 L172.6,1040.8 L173.0,1047.4 L173.4,1063.7 L173.8,1046.4 L174.2,1048.7 L174.6,1052.0 L175.0,1047.2 L175.4,1062.8 L175.8,1042.9 L176.2,1054.3 L176.6,1049.3 L177.0,1053.4 L177.4,1038.2 L177.8,1063.4 L178.2,1047.8 L178.6,1049.9 L179.0,1041.3 L179.4,1043.6 L179.8,1054.4 L180.2,1058.5 L180.6,1055.9 L181.0,1060.7 L181.4,1056.7 L181.8,1050.7 L182.2,1057.6 L182.6,1055.5 L183.0,1049.2 L183.4,1056.2 L183.8,1061.9 L184.2,1053.1 L184.6,1047.7 L185.0,1056.7 L185.4,1066.6 L185.8,1049.3 L186.2,1050.4 L186.6,1050.0 L187.0,1061.2 L187.4,1036.5 L187.8,1055.3 L188.2,1062.4 L188.6,1045.4 L189.0,1065.4 L189.4,1057.3 L189.8,1047.6 L190.2,1053.9 L190.6,1038.9 L191.0,1046.9 L191.4,1067.8 L191.8,1044.7 L192.2,1067.7 L192.6,1051.6 L193.0,1060.5 L193.4,1052.5 L193.8,1037.3 L194.2,1048.6 L194.6,1055.8 L195.0,1044.5 L195.4,1043.3 L195.8,1058.7 L196.2,1050.2 L196.6,1041.3 L197.0,1049.8 L197.4,1062.6 L197.8,1051.4 L198.2,1063.6 L198.6,1068.9 L199.0,1056.9 L199.4,1047.5 L199.8,1046.0 L200.2,1056.6 L200.6,1063.8 L201.0,1058.7 L201.4,1060.4 L201.8,1052.9 L202.2,1059.5 L202.6,1053.4 L203.0,1055.2 L203.4,1046.9 L203.8,1044.5 L204.2,1053.2 L204.6,1048.5 L205.0,1049.9 L205.4,1063.0 L205.8,1056.1 L206.2,1072.5 L206.6,1064.8 L207.0,1051.9 L207.4,1063.5 L207.8,1059.5 L208.2,1050.6 L208.6,1065.8 L209.0,1050.2 L209.4,1041.0 L209.8,1063.1 L210.2,1051.5 L210.6,1068.6 L211.0,1050.8 L211.4,1046.0 L211.8,1068.7 L212.2,1047.8 L212.6,1058.3 L213.0,1068.5 L213.4,1057.5 L213.8,1055.7 L214.2,1056.8 L214.6,1062.6 L215.0,1049.0 L215.4,1060.9 L215.8,1060.6 L216.2,1070.5 L216.6,1052.0 L217.0,1047.4 L217.4,1061.0 L217.8,1051.8 L218.2,1057.5 L218.6,1056.4 L219.0,1064.1 L219.4,1049.0 L219.8,1054.0 L220.2,1039.7 L220.6,1047.3 L221.0,1067.3 L221.4,1049.6 L221.8,1049.4 L222.2,1044.8 L222.6,1059.3 L223.0,1055.4 L223.4,1044.4 L223.8,1059.6 L224.2,1056.3 L224.6,1060.3 L225.0,1048.6 L225.4,1067.2 L225.8,1056.2 L226.2,1052.1 L226.6,1048.7 L227.0,1050.4 L227.4,1059.4 L227.8,1050.8 L228.2,1061.2 L228.6,1058.3 L229.0,1064.2 L229.4,1059.5 L229.8,1052.4 L230.2,1037.6 L230.6,1054.9 L231.0,1058.5 L231.4,1053.6 L231.8,1056.8 L232.2,1048.2 L232.6,1048.9 L233.0,1044.2 L233.4,1062.6 L233.8,1052.7 L234.2,1047.9 L234.6,1040.7 L235.0,1049.6 L235.4,1061.6 L235.8,1052.8 L236.2,1042.3 L236.6,1058.4 L237.0,1058.6 L237.4,1054.6 L237.8,1051.9 L238.2,1053.8 L238.6,1048.2 L239.0,1048.8 L239.4,1036.1 L239.8,1053.1 L240.2,1041.8 L240.6,1053.8 L241.0,1024.3 L241.4,1044.1 L241.8,1045.6 L242.2,1034.5 L242.6,1040.0 L243.0,1041.9 L243.4,1040.7 L243.8,1031.1 L244.2,1033.7 L244.6,1042.2 L245.0,1043.7 L245.4,1034.3 L245.8,1034.4 L246.2,1036.0 L246.6,1042.8 L247.0,1026.0 L247.4,1024.3 L247.8,1036.3 L248.2,1026.7 L248.6,1031.5 L249.0,1036.2 L249.4,1039.8 L249.8,1028.5 L250.2,1043.1 L250.6,1024.0 L251.0,1042.4 L251.4,1026.7 L251.8,1029.0 L252.2,1044.5 L252.6,1036.6 L253.0,1034.1 L253.4,1037.4 L253.8,1044.3 L254.2,1040.9 L254.6,1041.9 L255.0,1051.0 L255.4,1037.9 L255.8,1040.3 L256.2,1040.6 L256.6,1054.6 L257.0,1053.6 L257.4,1056.0 L257.8,1046.6 L258.2,1046.6 L258.6,1055.0 L259.0,1045.7 L259.4,1055.8 L259.8,1055.3 L260.2,1045.3 L260.6,1050.6 L261.0,1050.5 L261.4,1065.3 L261.8,1065.6 L262.2,1051.8 L262.6,1053.4 L263.0,1039.8 L263.4,1055.7 L263.8,1053.9 L264.2,1045.9 L264.6,1060.3 L265.0,1043.0 L265.4,1053.2 L265.8,1055.8 L266.2,1045.5 L266.6,1061.2 L267.0,1062.9 L267.4,1045.6 L267.8,1046.0 L268.2,1060.9 L268.6,1056.4 L269.0,1047.5 L269.4,1054.8 L269.8,1056.7 L270.2,1057.1 L270.6,1064.5 L271.0,1061.1 L271.4,1071.7 L271.8,1069.1 L272.2,1064.0 L272.6,1067.4 L273.0,1069.9 L273.4,1065.2 L273.8,1051.1 L274.2,1067.5 L274.6,1061.7 L275.0,1073.0 L275.4,1062.0 L275.8,1066.5 L276.2,1065.1 L276.6,1075.9 L277.0,1065.2 L277.4,1062.6 L277.8,1067.2 L278.2,1061.9 L278.6,1066.0 L279.0,1065.1 L279.4,1067.4 L279.8,1079.4 L280.2,1063.2 L280.6,1066.6 L281.0,1065.2 L281.4,1071.4 L281.8,1058.3 L282.2,1061.9 L282.6,1066.6 L283.0,1070.9 L283.4,1066.8 L283.8,1063.2 L284.2,1060.6 L284.6,1071.2 L285.0,1078.6 L285.4,1070.1 L285.8,1069.9 L286.2,1071.9 L286.6,1061.6 L287.0,1066.6 L287.4,1066.6 L287.8,1070.8 L288.2,1068.6 L288.6,1060.4 L289.0,1077.2 L289.4,1081.7 L289.8,1067.4 L290.2,1072.3 L290.6,1070.7 L291.0,1075.1 L291.4,1058.4 L291.8,1080.3 L292.2,1065.3 L292.6,1078.5 L293.0,1070.0 L293.4,1066.2 L293.8,1067.8 L294.2,1075.4 L294.6,1062.0 L295.0,1065.4 L295.4,1064.6 L295.8,1055.5 L296.2,1076.4 L296.6,1071.4 L297.0,1066.3 L297.4,1074.4 L297.8,1059.2 L298.2,1065.0 L298.6,1077.2 L299.0,1072.3 L299.4,1051.9 L299.8,1052.1 L300.2,1057.4 L300.6,1072.1 L301.0,1060.7 L301.4,1062.0 L301.8,1068.6 L302.2,1057.2 L302.6,1065.2 L303.0,1069.0 L303.4,1066.6 L303.8,1065.9 L304.2,1058.3 L304.6,1066.4 L305.0,1059.3 L305.4,1071.6 L305.8,1075.2 L306.2,1056.3 L306.6,1048.7 L307.0,1058.2 L307.4,1063.6 L307.8,1068.4 L308.2,1067.7 L308.6,1053.8 L309.0,1053.3 L309.4,1068.3 L309.8,1051.1 L310.2,1066.5 L310.6,1056.2 L311.0,1063.6 L311.4,1062.3 L311.8,1062.6 L312.2,1062.7 L312.6,1049.0 L313.0,1057.6 L313.4,1054.7 L313.8,1056.3 L314.2,1062.9 L314.6,1051.9 L315.0,1048.3 L315.4,1047.8 L315.8,1050.1 L316.2,1056.8 L316.6,1045.4 L317.0,1059.0 L317.4,1052.8 L317.8,1048.3 L318.2,1039.6 L318.6,1050.4 L319.0,1053.3 L319.4,1035.1 L319.8,1055.8 L320.2,1058.2 L320.6,1048.0 L321.0,1048.3 L321.4,1057.5 L321.8,1053.0 L322.2,1036.0 L322.6,1041.8 L323.0,1040.3 L323.4,1039.3 L323.8,1026.2 L324.2,1043.5 L324.6,1032.8 L325.0,1037.0 L325.4,1033.7 L325.8,1039.4 L326.2,1029.8 L326.6,1024.8 L327.0,1032.4 L327.4,1037.3 L327.8,1023.8 L328.2,1034.2 L328.6,1024.9 L329.0,1017.2 L329.4,1029.6 L329.8,1010.3 L330.2,1021.0 L330.6,1008.3 L331.0,1013.1 L331.4,999.2 L331.8,1000.6 L332.2,1011.7 L332.6,1003.7 L333.0,1000.9 L333.4,995.2 L333.8,999.4 L334.2,984.6 L334.6,984.2 L335.0,988.9 L335.4,982.0 L335.8,980.7 L336.2,983.0 L336.6,980.5 L337.0,977.3 L337.4,988.0 L337.8,980.5 L338.2,979.2 L338.6,968.2 L339.0,962.9 L339.4,955.1 L339.8,960.9 L340.2,950.9 L340.6,957.0 L341.0,963.1 L341.4,965.5 L341.8,961.0 L342.2,954.0 L342.6,957.6 L343.0,954.1 L343.4,957.0 L343.8,955.2 L344.2,957.8 L344.6,961.6 L345.0,962.7 L345.4,969.1 L345.8,967.7 L346.2,969.3 L346.6,980.6 L347.0,986.7 L347.4,977.5 L347.8,984.4 L348.2,977.7 L348.6,988.7 L349.0,999.6 L349.4,996.4 L349.8,996.1 L350.2,993.6 L350.6,1008.6 L351.0,1014.4 L351.4,1015.1 L351.8,1015.2 L352.2,1006.5 L352.6,1030.2 L353.0,1019.4 L353.4,1020.8 L353.8,1028.6 L354.2,1012.5 L354.6,1025.6 L355.0,1025.0 L355.4,1027.6 L355.8,1033.7 L356.2,1027.1 L356.6,1010.1 L357.0,1018.7 L357.4,1020.6 L357.8,1018.5 L358.2,1007.2 L358.6,1003.2 L359.0,1016.2 L359.4,1012.3 L359.8,1006.9 L360.2,991.6 L360.6,1012.5 L361.0,984.5 L361.4,990.3 L361.8,1001.4 L362.2,983.8 L362.6,982.3 L363.0,968.3 L363.4,982.2 L363.8,959.6 L364.2,966.5 L364.6,961.7 L365.0,949.8 L365.4,959.3 L365.8,939.5 L366.2,940.9 L366.6,942.0 L367.0,936.5 L367.4,939.1 L367.8,938.3 L368.2,926.9 L368.6,922.2 L369.0,919.4 L369.4,917.8 L369.8,921.5 L370.2,915.9 L370.6,917.1 L371.0,914.4 L371.4,911.6 L371.8,914.8 L372.2,910.9 L372.6,912.5 L373.0,915.7 L373.4,912.2 L373.8,916.1 L374.2,913.9 L374.6,919.1 L375.0,917.1 L375.4,924.7 L375.8,928.1 L376.2,936.5 L376.6,950.0 L377.0,947.5 L377.4,955.2 L377.8,955.4 L378.2,958.0 L378.6,957.8 L379.0,955.2 L379.4,972.1 L379.8,986.8 L380.2,982.7 L380.6,979.3 L381.0,997.7 L381.4,986.5 L381.8,988.5 L382.2,987.0 L382.6,992.2 L383.0,1000.3 L383.4,1017.5 L383.8,1006.7 L384.2,1004.0 L384.6,1009.9 L385.0,1015.1 L385.4,1007.4 L385.8,1022.4 L386.2,1028.8 L386.6,1028.2 L387.0,1032.3 L387.4,1021.3 L387.8,1020.4 L388.2,1042.5 L388.6,1043.4 L389.0,1027.0 L389.4,1040.7 L389.8,1040.8 L390.2,1046.0 L390.6,1045.1 L391.0,1041.7 L391.4,1048.3 L391.8,1049.8 L392.2,1049.6 L392.6,1038.9 L393.0,1040.1 L393.4,1047.8 L393.8,1044.0 L394.2,1057.8 L394.6,1062.2 L395.0,1060.2 L395.4,1056.9 L395.8,1061.0 L396.2,1069.0 L396.6,1057.2 L397.0,1069.1 L397.4,1069.0 L397.8,1066.7 L398.2,1075.8 L398.6,1061.9 L399.0,1074.0 L399.4,1062.2 L399.8,1064.1 L400.2,1063.1 L400.6,1074.2 L401.0,1065.7 L401.4,1072.8 L401.8,1065.4 L402.2,1080.6 L402.6,1086.6 L403.0,1076.0 L403.4,1085.6 L403.8,1078.4 L404.2,1087.0 L404.6,1076.3 L405.0,1065.2 L405.4,1085.8 L405.8,1075.3 L406.2,1069.4 L406.6,1072.2 L407.0,1066.0 L407.4,1075.9 L407.8,1070.0 L408.2,1087.0 L408.6,1081.7 L409.0,1065.9 L409.4,1067.1 L409.8,1073.7 L410.2,1065.7 L410.6,1077.1 L411.0,1078.1 L411.4,1073.7 L411.8,1075.5 L412.2,1082.7 L412.6,1088.7 L413.0,1089.2 L413.4,1079.9 L413.8,1085.6 L414.2,1074.8 L414.6,1082.3 L415.0,1073.3 L415.4,1084.9 L415.8,1072.1 L416.2,1074.0 L416.6,1080.1 L417.0,1083.9 L417.4,1070.8 L417.8,1076.6 L418.2,1081.4 L418.6,1082.3 L419.0,1075.5 L419.4,1081.5 L419.8,1078.8 L420.2,1089.6 L420.6,1083.6 L421.0,1070.9 L421.4,1067.2 L421.8,1080.1 L422.2,1087.2 L422.6,1080.5 L423.0,1085.2 L423.4,1075.9 L423.8,1070.2 L424.2,1084.7 L424.6,1080.4 L425.0,1084.3 L425.4,1070.6 L425.8,1080.7 L426.2,1075.5 L426.6,1084.6 L427.0,1075.4 L427.4,1075.6 L427.8,1075.4 L428.2,1087.5 L428.6,1079.9 L429.0,1075.2 L429.4,1073.3 L429.8,1073.3 L430.2,1089.7 L430.6,1068.1 L431.0,1074.6 L431.4,1084.2 L431.8,1087.5 L432.2,1078.6 L432.6,1084.9 L433.0,1085.3 L433.4,1087.0 L433.8,1080.7 L434.2,1091.0 L434.6,1081.5 L435.0,1090.9 L435.4,1073.7 L435.8,1086.9 L436.2,1071.9 L436.6,1070.1 L437.0,1084.0 L437.4,1075.6 L437.8,1084.3 L438.2,1073.9 L438.6,1091.0 L439.0,1080.1 L439.4,1072.2 L439.8,1081.3 L440.2,1086.0 L440.6,1075.3 L441.0,1083.7 L441.4,1092.0 L441.8,1085.9 L442.2,1079.7 L442.6,1075.5 L443.0,1082.9 L443.4,1068.4 L443.8,1065.7 L444.2,1073.7 L444.6,1070.1 L445.0,1088.7 L445.4,1077.3 L445.8,1069.5 L446.2,1068.6 L446.6,1079.1 L447.0,1070.4 L447.4,1071.5 L447.8,1073.9 L448.2,1074.8 L448.6,1073.5 L449.0,1072.1 L449.4,1078.4 L449.8,1079.6 L450.2,1055.8 L450.6,1077.4 L451.0,1064.7 L451.4,1070.5 L451.8,1055.7 L452.2,1061.4 L452.6,1058.6 L453.0,1055.6 L453.4,1057.8 L453.8,1054.3 L454.2,1044.5 L454.6,1047.0 L455.0,1048.2 L455.4,1046.3 L455.8,1042.1 L456.2,1041.3 L456.6,1040.9 L457.0,1039.0 L457.4,1038.8 L457.8,1045.1 L458.2,1041.9 L458.6,1044.5 L459.0,1043.0 L459.4,1052.1 L459.8,1056.5 L460.2,1048.6 L460.6,1054.4 L461.0,1049.0 L461.4,1066.3 L461.8,1062.8 L462.2,1052.9 L462.6,1068.4 L463.0,1063.9 L463.4,1065.9 L463.8,1067.2 L464.2,1061.8 L464.6,1064.2 L465.0,1073.8 L465.4,1070.1 L465.8,1064.9 L466.2,1084.2 L466.6,1071.7 L467.0,1070.4 L467.4,1070.2 L467.8,1080.9 L468.2,1083.8 L468.6,1079.0 L469.0,1084.2 L469.4,1068.6 L469.8,1076.4 L470.2,1076.3 L470.6,1080.0 L471.0,1083.7 L471.4,1067.4 L471.8,1092.7 L472.2,1074.6 L472.6,1082.6 L473.0,1086.2 L473.4,1086.8 L473.8,1082.6 L474.2,1068.3 L474.6,1074.3 L475.0,1087.2 L475.4,1076.4 L475.8,1076.0 L476.2,1070.8 L476.6,1092.1 L477.0,1087.2 L477.4,1077.4 L477.8,1082.8 L478.2,1083.2 L478.6,1076.2 L479.0,1082.3 L479.4,1085.8 L479.8,1088.1 L480.2,1092.7 L480.6,1083.8 L481.0,1080.4 L481.4,1085.8 L481.8,1078.3 L482.2,1074.3 L482.6,1091.1 L483.0,1081.0 L483.4,1084.9 L483.8,1088.1 L484.2,1075.7 L484.6,1087.3 L485.0,1085.4 L485.4,1081.7 L485.8,1085.5 L486.2,1077.7 L486.6,1070.7 L487.0,1081.4 L487.4,1077.1 L487.8,1088.7 L488.2,1083.7 L488.6,1078.0 L489.0,1081.8 L489.4,1090.4 L489.8,1088.7 L490.2,1083.6 L490.6,1083.9 L491.0,1078.5 L491.4,1079.0 L491.8,1084.3 L492.2,1079.2 L492.6,1082.5 L493.0,1073.1 L493.4,1069.6 L493.8,1069.1 L494.2,1077.5 L494.6,1089.7 L495.0,1088.1 L495.4,1073.3 L495.8,1069.6 L496.2,1085.4 L496.6,1082.9 L497.0,1070.0 L497.4,1086.3 L497.8,1079.7 L498.2,1087.1 L498.6,1080.1 L499.0,1083.6 L499.4,1079.4 L499.8,1070.6 L500.2,1075.1 L500.6,1071.8 L501.0,1082.0 L501.4,1069.6 L501.8,1065.5 L502.2,1080.2 L502.6,1082.5 L503.0,1083.6 L503.4,1080.3 L503.8,1061.1 L504.2,1066.3 L504.6,1066.1 L505.0,1068.8 L505.4,1055.7 L505.8,1066.2 L506.2,1066.2 L506.6,1055.4 L507.0,1059.9 L507.4,1064.4 L507.8,1053.9 L508.2,1057.7 L508.6,1054.7 L509.0,1046.9 L509.4,1043.4 L509.8,1034.3 L510.2,1040.6 L510.6,1024.4 L511.0,1017.9 L511.4,1022.3 L511.8,1007.2 L512.2,1009.8 L512.6,1008.9 L513.0,997.0 L513.4,992.3 L513.8,992.7 L514.2,986.5 L514.6,965.4 L515.0,960.7 L515.4,971.9 L515.8,957.9 L516.2,934.1 L516.6,927.6 L517.0,926.4 L517.4,909.4 L517.8,907.6 L518.2,894.7 L518.6,884.7 L519.0,864.8 L519.4,858.8 L519.8,850.2 L520.2,833.4 L520.6,831.1 L521.0,824.3 L521.4,818.0 L521.8,812.2 L522.2,807.5 L522.6,805.3 L523.0,805.4 L523.4,807.7 L523.8,813.7 L524.2,821.8 L524.6,831.3 L525.0,838.7 L525.4,845.3 L525.8,856.4 L526.2,866.1 L526.6,873.5 L527.0,875.0 L527.4,886.0 L527.8,886.0 L528.2,896.7 L528.6,892.2 L529.0,898.4 L529.4,902.8 L529.8,902.8 L530.2,911.0 L530.6,898.0 L531.0,894.3 L531.4,912.3 L531.8,916.7 L532.2,919.5 L532.6,915.6 L533.0,920.6 L533.4,921.1 L533.8,915.3 L534.2,923.0 L534.6,933.1 L535.0,929.6 L535.4,948.5 L535.8,930.1 L536.2,941.4 L536.6,955.8 L537.0,948.2 L537.4,948.5 L537.8,951.6 L538.2,959.6 L538.6,978.2 L539.0,975.0 L539.4,979.6 L539.8,977.0 L540.2,990.2 L540.6,989.5 L541.0,986.9 L541.4,994.0 L541.8,1002.2 L542.2,1012.4 L542.6,1008.4 L543.0,1015.2 L543.4,1027.2 L543.8,1013.4 L544.2,1013.2 L544.6,1030.7 L545.0,1029.7 L545.4,1028.8 L545.8,1033.4 L546.2,1031.5 L546.6,1038.8 L547.0,1034.6 L547.4,1044.2 L547.8,1033.0 L548.2,1037.0 L548.6,1044.5 L549.0,1041.7 L549.4,1050.2 L549.8,1046.2 L550.2,1043.8 L550.6,1050.0 L551.0,1045.9 L551.4,1040.6 L551.8,1044.4 L552.2,1047.9 L552.6,1051.0 L553.0,1054.7 L553.4,1060.5 L553.8,1058.7 L554.2,1067.3 L554.6,1064.3 L555.0,1054.7 L555.4,1066.3 L555.8,1062.7 L556.2,1051.6 L556.6,1055.5 L557.0,1059.0 L557.4,1052.0 L557.8,1055.6 L558.2,1049.7 L558.6,1050.0 L559.0,1041.9 L559.4,1044.8 L559.8,1038.7 L560.2,1044.2 L560.6,1027.5 L561.0,1039.2 L561.4,1043.6 L561.8,1037.9 L562.2,1032.8 L562.6,1034.4 L563.0,1024.2 L563.4,1023.4 L563.8,1025.0 L564.2,1024.8 L564.6,1030.3 L565.0,1016.7 L565.4,1027.2 L565.8,1007.9 L566.2,1010.8 L566.6,1013.4 L567.0,1018.6 L567.4,1004.3 L567.8,992.9 L568.2,1004.8 L568.6,998.7 L569.0,988.8 L569.4,985.9 L569.8,985.1 L570.2,987.2 L570.6,987.1 L571.0,970.0 L571.4,985.7 L571.8,971.4 L572.2,966.0 L572.6,968.3 L573.0,963.0 L573.4,967.6 L573.8,962.2 L574.2,955.7 L574.6,954.1 L575.0,952.8 L575.4,952.6 L575.8,954.1 L576.2,952.8 L576.6,958.4 L577.0,957.3 L577.4,959.6 L577.8,965.9 L578.2,958.4 L578.6,964.0 L579.0,973.9 L579.4,974.4 L579.8,977.1 L580.2,982.4 L580.6,979.4 L581.0,984.9 L581.4,980.5 L581.8,980.1 L582.2,1002.5 L582.6,991.3 L583.0,995.7 L583.4,1012.1 L583.8,1012.7 L584.2,1005.2 L584.6,1008.0 L585.0,1014.0 L585.4,1011.1 L585.8,1022.9 L586.2,1023.6 L586.6,1025.1 L587.0,1031.0 L587.4,1032.8 L587.8,1042.1 L588.2,1042.4 L588.6,1023.8 L589.0,1042.3 L589.4,1031.8 L589.8,1031.6 L590.2,1046.8 L590.6,1039.5 L591.0,1044.2 L591.4,1055.1 L591.8,1046.0 L592.2,1045.9 L592.6,1055.3 L593.0,1062.2 L593.4,1059.4 L593.8,1047.6 L594.2,1054.8 L594.6,1059.4 L595.0,1072.9 L595.4,1068.3 L595.8,1069.1 L596.2,1071.8 L596.6,1062.6 L597.0,1068.5 L597.4,1069.3 L597.8,1061.2 L598.2,1068.2 L598.6,1073.0 L599.0,1063.5 L599.4,1076.1 L599.8,1075.8 L600.2,1077.8 L600.6,1067.5 L601.0,1073.4 L601.4,1082.4 L601.8,1078.6 L602.2,1069.4 L602.6,1076.4 L603.0,1084.3 L603.4,1075.3 L603.8,1078.5 L604.2,1087.6 L604.6,1076.7 L605.0,1076.8 L605.4,1071.2 L605.8,1073.6 L606.2,1087.5 L606.6,1077.4 L607.0,1072.0 L607.4,1073.7 L607.8,1079.7 L608.2,1084.5 L608.6,1075.5 L609.0,1084.6 L609.4,1077.3 L609.8,1082.4 L610.2,1083.9 L610.6,1084.6 L611.0,1078.2 L611.4,1079.4 L611.8,1083.3 L612.2,1071.7 L612.6,1081.0 L613.0,1083.1 L613.4,1086.2 L613.8,1079.4 L614.2,1078.5 L614.6,1080.3 L615.0,1074.4 L615.4,1077.4 L615.8,1081.1 L616.2,1079.4 L616.6,1071.4 L617.0,1075.8 L617.4,1066.3 L617.8,1082.0 L618.2,1073.4 L618.6,1078.1 L619.0,1069.2 L619.4,1074.8 L619.8,1077.4 L620.2,1080.6 L620.6,1065.9 L621.0,1078.9 L621.4,1072.9 L621.8,1069.0 L622.2,1076.6 L622.6,1071.7 L623.0,1071.2 L623.4,1068.4 L623.8,1073.8 L624.2,1072.3 L624.6,1070.8 L625.0,1066.0 L625.4,1068.5 L625.8,1073.9 L626.2,1078.8 L626.6,1070.5 L627.0,1078.7 L627.4,1069.0 L627.8,1062.0 L628.2,1072.1 L628.6,1061.6 L629.0,1069.2 L629.4,1072.3 L629.8,1063.0 L630.2,1063.4 L630.6,1074.1 L631.0,1063.4 L631.4,1062.5 L631.8,1065.0 L632.2,1058.8 L632.6,1057.6 L633.0,1059.1 L633.4,1044.5 L633.8,1062.8 L634.2,1046.4 L634.6,1045.0 L635.0,1053.3 L635.4,1049.0 L635.8,1039.3 L636.2,1046.3 L636.6,1036.7 L637.0,1037.4 L637.4,1030.5 L637.8,1032.9 L638.2,1038.6 L638.6,1034.4 L639.0,1032.8 L639.4,1033.8 L639.8,1025.5 L640.2,1019.3 L640.6,1018.1 L641.0,1026.7 L641.4,1013.3 L641.8,1011.4 L642.2,1005.0 L642.6,1003.2 L643.0,1000.3 L643.4,993.6 L643.8,989.1 L644.2,981.8 L644.6,977.4 L645.0,981.0 L645.4,979.0 L645.8,975.8 L646.2,966.5 L646.6,957.2 L647.0,961.7 L647.4,957.7 L647.8,940.9 L648.2,951.1 L648.6,946.1 L649.0,948.5 L649.4,927.7 L649.8,922.5 L650.2,929.1 L650.6,909.6 L651.0,909.5 L651.4,900.9 L651.8,894.8 L652.2,883.9 L652.6,883.2 L653.0,879.9 L653.4,868.8 L653.8,859.4 L654.2,847.1 L654.6,842.4 L655.0,828.4 L655.4,816.3 L655.8,796.6 L656.2,784.7 L656.6,766.3 L657.0,753.5 L657.4,739.0 L657.8,724.3 L658.2,714.5 L658.6,701.4 L659.0,677.5 L659.4,638.1 L659.8,590.5 L660.2,554.7 L660.6,529.5 L661.0,511.1 L661.4,494.0 L661.8,473.7 L662.2,454.9 L662.6,438.9 L663.0,421.2 L663.4,376.2 L663.8,309.9 L664.2,290.6 L664.6,279.8 L665.0,269.2 L665.4,261.7 L665.8,255.7 L666.2,255.3 L666.6,261.4 L667.0,271.7 L667.4,279.3 L667.8,288.7 L668.2,296.8 L668.6,307.9 L669.0,319.7 L669.4,339.7 L669.8,380.9 L670.2,410.4 L670.6,435.3 L671.0,454.0 L671.4,475.7 L671.8,488.2 L672.2,502.6 L672.6,513.7 L673.0,529.3 L673.4,546.3 L673.8,569.6 L674.2,606.4 L674.6,643.7 L675.0,677.1 L675.4,700.7 L675.8,713.4 L676.2,725.3 L676.6,739.2 L677.0,748.4 L677.4,753.7 L677.8,766.5 L678.2,780.2 L678.6,792.5 L679.0,802.5 L679.4,819.1 L679.8,826.4 L680.2,839.5 L680.6,851.6 L681.0,861.6 L681.4,874.1 L681.8,884.5 L682.2,889.6 L682.6,904.7 L683.0,903.6 L683.4,913.5 L683.8,929.8 L684.2,927.5 L684.6,937.6 L685.0,934.7 L685.4,940.8 L685.8,946.5 L686.2,952.8 L686.6,954.2 L687.0,960.6 L687.4,968.1 L687.8,974.4 L688.2,971.4 L688.6,976.6 L689.0,980.1 L689.4,970.6 L689.8,969.2 L690.2,988.9 L690.6,988.6 L691.0,983.1 L691.4,986.5 L691.8,980.3 L692.2,979.2 L692.6,989.8 L693.0,980.4 L693.4,994.9 L693.8,986.0 L694.2,992.4 L694.6,1001.3 L695.0,1001.0 L695.4,988.7 L695.8,995.5 L696.2,982.0 L696.6,982.8 L697.0,986.7 L697.4,991.0 L697.8,977.2 L698.2,981.3 L698.6,976.5 L699.0,966.5 L699.4,970.6 L699.8,977.3 L700.2,965.5 L700.6,965.7 L701.0,964.1 L701.4,952.0 L701.8,959.4 L702.2,957.5 L702.6,954.5 L703.0,950.2 L703.4,939.3 L703.8,936.3 L704.2,933.4 L704.6,931.1 L705.0,929.7 L705.4,932.8 L705.8,931.4 L706.2,925.4 L706.6,926.5 L707.0,922.7 L707.4,923.4 L707.8,922.5 L708.2,922.3 L708.6,926.4 L709.0,928.8 L709.4,930.3 L709.8,932.7 L710.2,934.1 L710.6,940.4 L711.0,941.4 L711.4,948.5 L711.8,945.1 L712.2,956.8 L712.6,962.7 L713.0,972.0 L713.4,975.5 L713.8,975.2 L714.2,974.3 L714.6,971.7 L715.0,986.0 L715.4,998.5 L715.8,1004.0 L716.2,988.6 L716.6,998.8 L717.0,1005.1 L717.4,1005.3 L717.8,1015.4 L718.2,1018.4 L718.6,1018.6 L719.0,1024.6 L719.4,1019.3 L719.8,1025.7 L720.2,1029.2 L720.6,1041.7 L721.0,1030.5 L721.4,1040.8 L721.8,1048.7 L722.2,1046.8 L722.6,1054.0 L723.0,1048.3 L723.4,1056.1 L723.8,1060.2 L724.2,1067.0 L724.6,1063.1 L725.0,1068.8 L725.4,1062.2 L725.8,1064.0 L726.2,1073.6 L726.6,1069.9 L727.0,1075.8 L727.4,1073.0 L727.8,1080.2 L728.2,1081.3 L728.6,1067.7 L729.0,1083.2 L729.4,1076.6 L729.8,1078.4 L730.2,1076.5 L730.6,1082.0 L731.0,1072.9 L731.4,1076.5 L731.8,1077.2 L732.2,1084.0 L732.6,1088.5 L733.0,1088.3 L733.4,1086.7 L733.8,1082.5 L734.2,1076.9 L734.6,1089.7 L735.0,1089.5 L735.4,1091.5 L735.8,1097.8 L736.2,1089.9 L736.6,1090.5 L737.0,1082.1 L737.4,1095.8 L737.8,1093.1 L738.2,1089.8 L738.6,1096.4 L739.0,1088.9 L739.4,1092.2 L739.8,1105.4 L740.2,1100.7 L740.6,1101.9 L741.0,1101.7 L741.4,1101.8 L741.8,1100.0 L742.2,1109.2 L742.6,1099.3 L743.0,1104.2 L743.4,1099.0 L743.8,1099.3 L744.2,1091.8 L744.6,1092.1 L745.0,1110.6 L745.4,1110.4 L745.8,1100.7 L746.2,1103.4 L746.6,1107.2 L747.0,1098.8 L747.4,1114.2 L747.8,1099.7 L748.2,1101.8 L748.6,1096.0 L749.0,1114.5 L749.4,1107.3 L749.8,1116.3 L750.2,1102.4 L750.6,1110.1 L751.0,1109.0 L751.4,1110.3 L751.8,1118.9 L752.2,1119.4 L752.6,1117.3 L753.0,1108.0 L753.4,1115.5 L753.8,1118.6 L754.2,1114.6 L754.6,1114.8 L755.0,1114.8 L755.4,1107.5 L755.8,1114.1 L756.2,1121.5 L756.6,1107.8 L757.0,1114.1 L757.4,1118.4 L757.8,1106.7 L758.2,1113.1 L758.6,1105.4 L759.0,1111.5 L759.4,1107.8 L759.8,1111.1 L760.2,1113.2 L760.6,1114.2 L761.0,1114.9 L761.4,1106.3 L761.8,1124.5 L762.2,1115.0 L762.6,1110.8 L763.0,1113.7 L763.4,1118.7 L763.8,1112.2 L764.2,1114.9 L764.6,1114.8 L765.0,1120.5 L765.4,1114.1 L765.8,1120.8 L766.2,1120.4 L766.6,1117.8 L767.0,1125.3 L767.4,1119.1 L767.8,1112.9 L768.2,1120.5 L768.6,1119.5 L769.0,1118.9 L769.4,1120.7 L769.8,1129.1 L770.2,1121.1 L770.6,1122.1 L771.0,1117.8 L771.4,1126.5 L771.8,1119.5 L772.2,1115.5 L772.6,1113.4 L773.0,1122.6 L773.4,1123.9 L773.8,1111.4 L774.2,1115.9 L774.6,1123.3 L775.0,1125.2 L775.4,1113.1 L775.8,1117.7 L776.2,1124.3 L776.6,1117.4 L777.0,1118.0 L777.4,1117.7 L777.8,1113.6 L778.2,1120.7 L778.6,1122.4 L779.0,1113.7 L779.4,1121.9 L779.8,1127.1 L780.2,1122.1 L780.6,1126.7 L781.0,1119.3 L781.4,1129.1 L781.8,1118.0 L782.2,1131.8 L782.6,1120.3 L783.0,1119.0 L783.4,1118.2 L783.8,1120.9 L784.2,1120.8 L784.6,1120.1 L785.0,1122.2 L785.4,1127.4 L785.8,1128.4 L786.2,1122.1 L786.6,1130.4 L787.0,1119.0 L787.4,1119.1 L787.8,1118.3 L788.2,1127.2 L788.6,1116.3 L789.0,1117.3 L789.4,1131.1 L789.8,1133.4 L790.2,1131.4 L790.6,1116.6 L791.0,1124.9 L791.4,1129.6 L791.8,1125.7 L792.2,1116.8 L792.6,1123.9 L793.0,1117.0 L793.4,1119.6 L793.8,1135.4 L794.2,1130.1 L794.6,1119.2 L795.0,1118.9 L795.4,1129.2 L795.8,1123.8 L796.2,1129.9 L796.6,1123.5 L797.0,1125.6 L797.4,1127.8 L797.8,1121.2 L798.2,1117.5 L798.6,1120.6 L799.0,1123.3 L799.4,1125.8 L799.8,1126.5 L800.2,1126.6 L800.6,1129.5 L801.0,1122.0 L801.4,1133.6 L801.8,1135.9 L802.2,1128.9 L802.6,1127.9 L803.0,1133.2 L803.4,1130.4 L803.8,1127.9 L804.2,1126.0 L804.6,1123.0 L805.0,1120.9 L805.4,1130.4 L805.8,1133.3 L806.2,1121.9 L806.6,1127.1 L807.0,1128.2 L807.4,1124.9 L807.8,1123.3 L808.2,1125.4 L808.6,1118.3 L809.0,1127.2 L809.4,1126.3 L809.8,1136.8 L810.2,1132.0 L810.6,1125.8 L811.0,1127.7 L811.4,1136.0 L811.8,1135.6 L812.2,1128.5 L812.6,1127.0 L813.0,1120.2 L813.4,1125.6 L813.8,1126.3 L814.2,1123.5 L814.6,1135.3 L815.0,1117.9 L815.4,1126.2 L815.8,1129.0 L816.2,1129.2 L816.6,1135.8 L817.0,1120.7 L817.4,1124.4 L817.8,1128.6 L818.2,1128.8 L818.6,1126.3 L819.0,1124.8 L819.4,1134.0 L819.8,1123.4 L820.2,1125.4 L820.6,1135.7 L821.0,1137.2 L821.4,1132.8 L821.8,1124.1 L822.2,1124.2 L822.6,1123.8 L823.0,1123.2 L823.4,1126.6 L823.8,1135.0 L824.2,1129.9 L824.6,1125.1 L825.0,1124.7 L825.4,1122.9 L825.8,1134.4 L826.2,1119.4 L826.6,1129.6 L827.0,1121.2 L827.4,1123.1 L827.8,1121.1 L828.2,1133.0 L828.6,1128.0 L829.0,1137.5 L829.4,1123.9 L829.8,1123.2 L830.2,1131.1 L830.6,1131.0 L831.0,1126.9 L831.4,1120.0 L831.8,1135.7 L832.2,1131.3 L832.6,1130.5 L833.0,1125.9 L833.4,1132.0 L833.8,1126.2 L834.2,1129.1 L834.6,1128.1 L835.0,1135.1 L835.4,1126.6 L835.8,1127.3 L836.2,1134.2 L836.6,1130.0 L837.0,1128.8 L837.4,1127.8 L837.8,1133.4 L838.2,1125.5 L838.6,1131.1 L839.0,1137.7 L839.4,1130.6 L839.8,1124.8 L840.2,1123.0 L840.6,1129.5 L841.0,1122.5 L841.4,1120.7 L841.8,1125.0 L842.2,1123.6 L842.6,1133.1 L843.0,1122.4 L843.4,1136.5 L843.8,1125.3 L844.2,1129.3 L844.6,1132.0 L845.0,1130.0 L845.4,1132.7 L845.8,1124.5 L846.2,1121.1 L846.6,1128.8 L847.0,1121.6 L847.4,1127.1 L847.8,1134.4 L848.2,1128.9 L848.6,1127.4 L849.0,1124.9 L849.4,1129.0 L849.8,1129.2 L850.2,1122.7 L850.6,1132.1 L851.0,1125.7 L851.4,1131.7 L851.8,1128.2 L852.2,1135.0 L852.6,1134.6 L853.0,1130.6 L853.4,1130.2 L853.8,1132.6 L854.2,1137.1 L854.6,1135.8 L855.0,1131.8 L855.4,1132.8 L855.8,1139.0 L856.2,1123.8 L856.6,1134.3 L857.0,1127.6 L857.4,1138.1 L857.8,1129.5 L858.2,1131.2 L858.6,1126.9 L859.0,1132.1 L859.4,1135.8 L859.8,1139.9 L860.2,1125.9 L860.6,1129.6 L861.0,1140.2 L861.4,1136.1 L861.8,1131.8 L862.2,1134.3 L862.6,1123.7 L863.0,1139.3 L863.4,1132.2 L863.8,1124.7 L864.2,1136.9 L864.6,1128.5 L865.0,1126.4 L865.4,1133.5 L865.8,1132.8 L866.2,1128.9 L866.6,1130.4 L867.0,1124.3 L867.4,1124.0 L867.8,1134.8 L868.2,1136.5 L868.6,1132.4 L869.0,1131.7 L869.4,1127.9 L869.8,1129.0 L870.2,1125.6 L870.6,1138.1 L871.0,1127.2 L871.4,1131.7 L871.8,1129.8 L872.2,1123.2 L872.6,1137.8 L873.0,1127.7 L873.4,1125.6 L873.8,1129.3 L874.2,1124.9 L874.6,1128.9 L875.0,1124.1 L875.4,1130.7 L875.8,1128.1 L876.2,1121.5 L876.6,1132.7 L877.0,1128.7 L877.4,1122.7 L877.8,1129.5 L878.2,1129.7 L878.6,1135.9 L879.0,1123.8 L879.4,1131.8 L879.8,1127.3 L880.2,1130.9 L880.6,1127.3 L881.0,1128.4 L881.4,1131.1 L881.8,1123.7 L882.2,1120.8 L882.6,1129.1 L883.0,1126.9 L883.4,1129.6 L883.8,1132.0 L884.2,1128.2 L884.6,1134.6 L885.0,1128.9 L885.4,1129.6 L885.8,1132.8 L886.2,1131.9 L886.6,1128.6 L887.0,1129.6 L887.4,1125.7 L887.8,1126.3 L888.2,1129.4 L888.6,1132.6 L889.0,1127.2 L889.4,1133.0 L889.8,1137.1 L890.2,1137.0 L890.6,1129.0 L891.0,1133.1 L891.4,1131.4 L891.8,1132.3 L892.2,1132.4 L892.6,1131.2 L893.0,1132.7 L893.4,1129.8 L893.8,1127.8 L894.2,1130.5 L894.6,1131.5 L895.0,1134.9 L895.4,1131.3 L895.8,1133.0 L896.2,1135.9 L896.6,1125.6 L897.0,1128.4 L897.4,1131.6 L897.8,1129.3 L898.2,1124.6 L898.6,1133.6 L899.0,1129.1 L899.4,1124.9 L899.8,1137.0 L900.2,1123.6 L900.6,1129.0 L901.0,1125.7 L901.4,1129.2 L901.8,1131.5 L902.2,1125.2 L902.6,1128.2 L903.0,1128.0 L903.4,1124.3 L903.8,1133.8 L904.2,1129.4 L904.6,1127.5 L905.0,1125.7 L905.4,1127.4 L905.8,1129.6 L906.2,1127.2 L906.6,1134.4 L907.0,1120.9 L907.4,1121.0 L907.8,1128.3 L908.2,1121.2 L908.6,1128.7 L909.0,1126.2 L909.4,1131.3 L909.8,1130.6 L910.2,1134.5 L910.6,1133.1 L911.0,1134.6 L911.4,1131.8 L911.8,1134.1 L912.2,1131.3 L912.6,1126.8 L913.0,1123.9 L913.4,1124.3 L913.8,1131.6 L914.2,1121.5 L914.6,1130.3 L915.0,1126.2 L915.4,1132.8 L915.8,1130.4 L916.2,1126.4 L916.6,1129.6 L917.0,1121.5 L917.4,1130.8 L917.8,1132.0 L918.2,1121.8 L918.6,1133.8 L919.0,1129.5 L919.4,1130.6 L919.8,1123.8 L920.2,1132.6 L920.6,1132.8 L921.0,1130.1 L921.4,1125.9 L921.8,1133.7 L922.2,1135.6 L922.6,1131.9 L923.0,1134.8 L923.4,1127.9 L923.8,1131.1 L924.2,1132.1 L924.6,1131.3 L925.0,1138.3 L925.4,1132.9 L925.8,1128.4 L926.2,1134.6 L926.6,1126.3 L927.0,1132.7 L927.4,1134.4 L927.8,1128.9 L928.2,1129.1 L928.6,1126.8 L929.0,1131.9 L929.4,1128.5 L929.8,1139.0 L930.2,1134.3 L930.6,1130.7 L931.0,1125.4 L931.4,1139.2 L931.8,1137.0 L932.2,1133.1 L932.6,1132.0 L933.0,1131.9 L933.4,1128.8 L933.8,1138.2 L934.2,1131.6 L934.6,1124.5 L935.0,1127.8 L935.4,1122.4 L935.8,1133.7 L936.2,1134.1 L936.6,1138.0 L937.0,1138.1 L937.4,1127.2 L937.8,1132.6 L938.2,1135.1 L938.6,1134.2 L939.0,1128.5 L939.4,1134.2 L939.8,1133.0 L940.2,1136.6 L940.6,1130.8 L941.0,1129.6 L941.4,1128.5 L941.8,1129.0 L942.2,1126.9 L942.6,1128.8 L943.0,1132.7 L943.4,1132.4 L943.8,1136.0 L944.2,1134.9 L944.6,1132.8 L945.0,1125.2 L945.4,1132.7 L945.8,1134.8 L946.2,1124.3 L946.6,1125.1 L947.0,1125.6 L947.4,1125.1 L947.8,1128.3 L948.2,1125.2 L948.6,1131.3 L949.0,1124.1 L949.4,1128.9 L949.8,1127.1 L950.2,1125.2 L950.6,1133.8 L951.0,1129.6 L951.4,1131.8 L951.8,1127.8 L952.2,1132.4 L952.6,1132.3 L953.0,1129.0 L953.4,1122.1 L953.8,1133.5 L954.2,1132.8 L954.6,1130.8 L955.0,1131.2 L955.4,1130.6 L955.8,1130.9 L956.2,1125.6 L956.6,1129.6 L957.0,1131.4 L957.4,1127.5 L957.8,1125.7 L958.2,1137.4 L958.6,1132.2 L959.0,1128.1 L959.4,1127.1 L959.8,1121.2 L960.2,1122.9 L960.6,1128.1 L961.0,1134.5 L961.4,1120.9 L961.8,1125.8 L962.2,1136.3 L962.6,1131.7 L963.0,1130.5 L963.4,1133.7 L963.8,1128.1 L964.2,1128.1 L964.6,1131.9 L965.0,1132.7 L965.4,1124.3 L965.8,1135.4 L966.2,1121.8 L966.6,1126.4 L967.0,1137.1 L967.4,1127.4 L967.8,1132.4 L968.2,1125.1 L968.6,1128.2 L969.0,1126.5 L969.4,1127.6 L969.8,1132.0 L970.2,1136.8 L970.6,1132.8 L971.0,1135.8 L971.4,1127.1 L971.8,1135.5 L972.2,1131.7 L972.6,1135.3 L973.0,1127.5 L973.4,1128.3 L973.8,1135.0 L974.2,1131.7 L974.6,1129.7 L975.0,1126.1 L975.4,1128.4 L975.8,1130.7 L976.2,1131.7 L976.6,1126.1 L977.0,1126.7 L977.4,1129.8 L977.8,1122.9 L978.2,1131.5 L978.6,1127.3 L979.0,1126.8 L979.4,1119.4 L979.8,1120.1 L980.2,1122.2 L980.6,1123.8 L981.0,1121.4 L981.4,1127.6 L981.8,1126.6 L982.2,1125.2 L982.6,1118.7 L983.0,1132.3 L983.4,1124.9 L983.8,1128.5 L984.2,1123.1 L984.6,1125.3 L985.0,1128.3 L985.4,1126.0 L985.8,1128.8 L986.2,1123.4 L986.6,1131.6 L987.0,1115.5 L987.4,1120.7 L987.8,1127.0 L988.2,1121.9 L988.6,1121.0 L989.0,1115.0 L989.4,1127.4 L989.8,1114.7 L990.2,1124.4 L990.6,1122.5 L991.0,1125.5 L991.4,1127.9 L991.8,1118.3 L992.2,1117.8 L992.6,1119.7 L993.0,1113.6 L993.4,1124.2 L993.8,1119.0 L994.2,1121.1 L994.6,1115.5 L995.0,1120.1 L995.4,1117.4 L995.8,1119.8 L996.2,1115.8 L996.6,1124.6 L997.0,1117.4 L997.4,1112.9 L997.8,1123.0 L998.2,1119.4 L998.6,1117.1 L999.0,1128.6 L999.4,1120.4 L999.8,1115.0 L1000.2,1118.4 L1000.6,1122.4 L1001.0,1120.1 L1001.4,1126.1 L1001.8,1125.0 L1002.2,1117.1 L1002.6,1120.3 L1003.0,1122.7 L1003.4,1118.1 L1003.8,1117.8 L1004.2,1123.5 L1004.6,1121.5 L1005.0,1113.8 L1005.4,1117.4 L1005.8,1117.8 L1006.2,1119.4 L1006.6,1117.1 L1007.0,1125.8 L1007.4,1116.1 L1007.8,1115.4 L1008.2,1120.8 L1008.6,1112.4 L1009.0,1115.5 L1009.4,1122.6 L1009.8,1114.4 L1010.2,1116.4 L1010.6,1124.7 L1011.0,1122.3 L1011.4,1120.6 L1011.8,1121.4 L1012.2,1117.6 L1012.6,1121.8 L1013.0,1119.7 L1013.4,1128.5 L1013.8,1123.2 L1014.2,1119.3 L1014.6,1120.5 L1015.0,1120.8 L1015.4,1114.8 L1015.8,1117.0 L1016.2,1126.8 L1016.6,1114.4 L1017.0,1117.7 L1017.4,1124.7 L1017.8,1126.7 L1018.2,1116.2 L1018.6,1126.4 L1019.0,1118.6 L1019.4,1127.2 L1019.8,1122.6 L1020.2,1119.3 L1020.6,1123.5 L1021.0,1123.0 L1021.4,1117.4 L1021.8,1128.2 L1022.2,1119.2 L1022.6,1125.3 L1023.0,1118.3 L1023.4,1112.7 L1023.8,1115.4 L1024.2,1119.4 L1024.6,1122.5 L1025.0,1126.7 L1025.4,1119.3 L1025.8,1117.3 L1026.2,1113.1 L1026.6,1117.6 L1027.0,1118.5 L1027.4,1109.2 L1027.8,1121.8 L1028.2,1120.8 L1028.6,1123.2 L1029.0,1111.4 L1029.4,1115.2 L1029.8,1114.7 L1030.2,1108.5 L1030.6,1110.1 L1031.0,1108.8 L1031.4,1114.9 L1031.8,1114.0 L1032.2,1117.5 L1032.6,1109.5 L1033.0,1104.6 L1033.4,1111.7 L1033.8,1110.8 L1034.2,1111.5 L1034.6,1113.3 L1035.0,1105.0 L1035.4,1109.9 L1035.8,1101.4 L1036.2,1105.5 L1036.6,1106.9 L1037.0,1102.3 L1037.4,1102.8 L1037.8,1094.9 L1038.2,1097.1 L1038.6,1099.4 L1039.0,1092.9 L1039.4,1093.5 L1039.8,1103.6 L1040.2,1096.0 L1040.6,1091.0 L1041.0,1089.6 L1041.4,1097.2 L1041.8,1085.8 L1042.2,1089.9 L1042.6,1091.7 L1043.0,1088.3 L1043.4,1090.1 L1043.8,1087.0 L1044.2,1088.3 L1044.6,1088.1 L1045.0,1087.9 L1045.4,1088.1 L1045.8,1088.2 L1046.2,1090.2 L1046.6,1088.6 L1047.0,1088.3 L1047.4,1089.6 L1047.8,1090.2 L1048.2,1087.2 L1048.6,1087.2 L1049.0,1089.2 L1049.4,1096.2 L1049.8,1093.0 L1050.2,1094.7 L1050.6,1105.3 L1051.0,1102.8 L1051.4,1098.1 L1051.8,1097.1 L1052.2,1106.6 L1052.6,1098.5 L1053.0,1107.9 L1053.4,1106.2 L1053.8,1110.6 L1054.2,1103.0 L1054.6,1110.1 L1055.0,1100.3 L1055.4,1107.1 L1055.8,1112.9 L1056.2,1111.7 L1056.6,1102.3 L1057.0,1112.5 L1057.4,1111.8 L1057.8,1110.2 L1058.2,1107.9 L1058.6,1110.3 L1059.0,1109.5 L1059.4,1116.0 L1059.8,1114.2 L1060.2,1117.0 L1060.6,1116.1 L1061.0,1108.2 L1061.4,1114.5 L1061.8,1122.4 L1062.2,1110.0 L1062.6,1115.8 L1063.0,1111.6 L1063.4,1111.4 L1063.8,1115.8 L1064.2,1118.7 L1064.6,1118.0 L1065.0,1117.1 L1065.4,1119.1 L1065.8,1108.7 L1066.2,1118.9 L1066.6,1117.5 L1067.0,1114.8 L1067.4,1115.7 L1067.8,1112.2 L1068.2,1120.5 L1068.6,1112.8 L1069.0,1109.6 L1069.4,1115.5 L1069.8,1113.0 L1070.2,1115.3 L1070.6,1121.5 L1071.0,1114.4 L1071.4,1115.1 L1071.8,1122.8 L1072.2,1108.9 L1072.6,1116.0 L1073.0,1119.2 L1073.4,1120.7 L1073.8,1122.6 L1074.2,1111.5 L1074.6,1116.3 L1075.0,1113.2 L1075.4,1111.4 L1075.8,1110.0 L1076.2,1106.8 L1076.6,1114.3 L1077.0,1116.0 L1077.4,1108.3 L1077.8,1115.8 L1078.2,1110.1 L1078.6,1108.1 L1079.0,1105.0 L1079.4,1116.2 L1079.8,1114.6 L1080.2,1110.3 L1080.6,1109.7 L1081.0,1105.9 L1081.4,1113.2 L1081.8,1110.4 L1082.2,1112.4 L1082.6,1110.6 L1083.0,1104.0 L1083.4,1102.8 L1083.8,1110.9 L1084.2,1101.9 L1084.6,1109.8 L1085.0,1112.5 L1085.4,1102.9 L1085.8,1110.9 L1086.2,1107.8 L1086.6,1109.8 L1087.0,1105.0 L1087.4,1107.7 L1087.8,1109.4 L1088.2,1115.1 L1088.6,1110.9 L1089.0,1109.8 L1089.4,1102.6 L1089.8,1109.4 L1090.2,1105.1 L1090.6,1107.3 L1091.0,1109.0 L1091.4,1111.9 L1091.8,1110.7 L1092.2,1108.9 L1092.6,1108.0 L1093.0,1113.3 L1093.4,1103.6 L1093.8,1107.1 L1094.2,1112.1 L1094.6,1105.4 L1095.0,1109.3 L1095.4,1109.6 L1095.8,1113.4 L1096.2,1110.4 L1096.6,1098.8 L1097.0,1105.4 L1097.4,1106.2 L1097.8,1108.2 L1098.2,1106.1 L1098.6,1111.7 L1099.0,1108.1 L1099.4,1098.4 L1099.8,1100.6 L1100.2,1095.6 L1100.6,1109.3 L1101.0,1101.3 L1101.4,1100.7 L1101.8,1094.4 L1102.2,1098.9 L1102.6,1102.3 L1103.0,1098.7 L1103.4,1098.2 L1103.8,1097.0 L1104.2,1106.2 L1104.6,1094.4 L1105.0,1088.7 L1105.4,1089.9 L1105.8,1087.9 L1106.2,1086.0 L1106.6,1082.4 L1107.0,1075.5 L1107.4,1075.8 L1107.8,1074.3 L1108.2,1063.0 L1108.6,1072.6 L1109.0,1066.9 L1109.4,1049.2 L1109.8,1049.9 L1110.2,1051.4 L1110.6,1048.4 L1111.0,1046.1 L1111.4,1028.3 L1111.8,1026.2 L1112.2,1024.2 L1112.6,1024.3 L1113.0,1014.2 L1113.4,1016.0 L1113.8,1012.6 L1114.2,1009.4 L1114.6,1000.1 L1115.0,999.4 L1115.4,995.0 L1115.8,990.3 L1116.2,989.2 L1116.6,984.8 L1117.0,985.3 L1117.4,983.3 L1117.8,988.0 L1118.2,991.8 L1118.6,992.2 L1119.0,999.4 L1119.4,1004.2 L1119.8,1005.2 L1120.2,1015.6 L1120.6,1021.0 L1121.0,1021.8 L1121.4,1030.5 L1121.8,1037.8 L1122.2,1037.4 L1122.6,1038.7 L1123.0,1051.8 L1123.4,1044.5 L1123.8,1053.2 L1124.2,1059.7 L1124.6,1061.3 L1125.0,1053.8 L1125.4,1062.2 L1125.8,1065.3 L1126.2,1067.4 L1126.6,1072.8 L1127.0,1074.1 L1127.4,1074.2 L1127.8,1076.0 L1128.2,1080.6 L1128.6,1082.8 L1129.0,1071.6 L1129.4,1087.5 L1129.8,1078.5 L1130.2,1084.7 L1130.6,1075.6 L1131.0,1081.2 L1131.4,1079.1 L1131.8,1089.1 L1132.2,1088.7 L1132.6,1085.7 L1133.0,1085.5 L1133.4,1088.4 L1133.8,1083.2 L1134.2,1085.0 L1134.6,1084.7 L1135.0,1091.2 L1135.4,1088.3 L1135.8,1083.1 L1136.2,1089.7 L1136.6,1090.5 L1137.0,1093.9 L1137.4,1085.6 L1137.8,1088.6 L1138.2,1093.7 L1138.6,1084.0 L1139.0,1082.6 L1139.4,1084.9 L1139.8,1079.6 L1140.2,1080.3 L1140.6,1077.0 L1141.0,1074.6 L1141.4,1080.0 L1141.8,1073.4 L1142.2,1069.1 L1142.6,1070.3 L1143.0,1068.9 L1143.4,1068.8 L1143.8,1069.4 L1144.2,1070.9 L1144.6,1056.6 L1145.0,1058.7 L1145.4,1050.7 L1145.8,1056.8 L1146.2,1056.0 L1146.6,1048.9 L1147.0,1045.6 L1147.4,1043.4 L1147.8,1039.5 L1148.2,1045.5 L1148.6,1047.4 L1149.0,1034.6 L1149.4,1042.7 L1149.8,1035.3 L1150.2,1030.4 L1150.6,1034.0 L1151.0,1032.8 L1151.4,1030.5 L1151.8,1028.2 L1152.2,1029.7 L1152.6,1026.8 L1153.0,1027.5 L1153.4,1027.8 L1153.8,1026.6 L1154.2,1026.4 L1154.6,1027.2 L1155.0,1031.0 L1155.4,1034.7 L1155.8,1031.0 L1156.2,1035.4 L1156.6,1044.8 L1157.0,1035.8 L1157.4,1045.5 L1157.8,1047.3 L1158.2,1051.5 L1158.6,1044.9 L1159.0,1054.6 L1159.4,1050.1 L1159.8,1063.2 L1160.2,1056.5 L1160.6,1063.6 L1161.0,1061.2 L1161.4,1067.0 L1161.8,1061.6 L1162.2,1070.7 L1162.6,1073.7 L1163.0,1073.0 L1163.4,1081.3 L1163.8,1077.9 L1164.2,1081.0 L1164.6,1081.0 L1165.0,1088.0 L1165.4,1079.1 L1165.8,1081.9 L1166.2,1083.2 L1166.6,1087.9 L1167.0,1087.8 L1167.4,1091.2 L1167.8,1090.0 L1168.2,1087.8 L1168.6,1090.6 L1169.0,1093.6 L1169.4,1085.8 L1169.8,1098.8 L1170.2,1091.8 L1170.6,1093.3 L1171.0,1096.7 L1171.4,1095.2 L1171.8,1091.0 L1172.2,1096.5 L1172.6,1103.8 L1173.0,1103.1 L1173.4,1104.2 L1173.8,1097.6 L1174.2,1099.5 L1174.6,1105.0 L1175.0,1107.0 L1175.4,1101.7 L1175.8,1098.3 L1176.2,1095.7 L1176.6,1108.9 L1177.0,1097.2 L1177.4,1105.4 L1177.8,1107.3 L1178.2,1111.1 L1178.6,1104.6 L1179.0,1103.5 L1179.4,1106.0 L1179.8,1106.5 L1180.2,1109.7 L1180.6,1106.9 L1181.0,1100.6 L1181.4,1095.8 L1181.8,1103.4 L1182.2,1099.0 L1182.6,1106.8 L1183.0,1095.1 L1183.4,1100.6 L1183.8,1096.0 L1184.2,1094.6 L1184.6,1104.4 L1185.0,1097.7 L1185.4,1095.5 L1185.8,1098.2 L1186.2,1091.1 L1186.6,1092.0 L1187.0,1090.1 L1187.4,1098.6 L1187.8,1091.3 L1188.2,1090.9 L1188.6,1091.4 L1189.0,1084.7 L1189.4,1083.4 L1189.8,1076.2 L1190.2,1083.6 L1190.6,1081.3 L1191.0,1077.3 L1191.4,1082.8 L1191.8,1069.5 L1192.2,1077.0 L1192.6,1068.7 L1193.0,1068.5 L1193.4,1071.3 L1193.8,1076.4 L1194.2,1065.0 L1194.6,1065.0 L1195.0,1063.3 L1195.4,1074.8 L1195.8,1069.3 L1196.2,1068.4 L1196.6,1072.9 L1197.0,1066.9 L1197.4,1059.8 L1197.8,1063.7 L1198.2,1061.7 L1198.6,1069.1 L1199.0,1061.5 L1199.4,1064.8 L1199.8,1063.4 L1200.2,1063.4 L1200.6,1063.9 L1201.0,1063.7 L1201.4,1063.2 L1201.8,1062.7 L1202.2,1063.9 L1202.6,1063.7 L1203.0,1064.6 L1203.4,1067.8 L1203.8,1068.3 L1204.2,1071.5 L1204.6,1070.4 L1205.0,1078.6 L1205.4,1070.7 L1205.8,1070.5 L1206.2,1079.4 L1206.6,1073.7 L1207.0,1077.9 L1207.4,1082.2 L1207.8,1079.0 L1208.2,1079.4 L1208.6,1086.2 L1209.0,1085.0 L1209.4,1082.6 L1209.8,1081.2 L1210.2,1085.5 L1210.6,1081.3 L1211.0,1085.3 L1211.4,1085.2 L1211.8,1091.1 L1212.2,1093.1 L1212.6,1087.6 L1213.0,1088.2 L1213.4,1085.2 L1213.8,1083.5 L1214.2,1087.0 L1214.6,1090.5 L1215.0,1089.2 L1215.4,1088.7 L1215.8,1084.4 L1216.2,1077.5 L1216.6,1087.1 L1217.0,1087.4 L1217.4,1085.0 L1217.8,1084.3 L1218.2,1084.2 L1218.6,1085.8 L1219.0,1079.0 L1219.4,1083.0 L1219.8,1078.9 L1220.2,1077.0 L1220.6,1072.9 L1221.0,1071.2 L1221.4,1066.7 L1221.8,1072.6 L1222.2,1067.8 L1222.6,1063.1 L1223.0,1063.6 L1223.4,1060.5 L1223.8,1070.2 L1224.2,1060.9 L1224.6,1060.5 L1225.0,1053.1 L1225.4,1051.8 L1225.8,1058.5 L1226.2,1051.8 L1226.6,1051.6 L1227.0,1055.9 L1227.4,1054.3 L1227.8,1048.8 L1228.2,1046.5 L1228.6,1044.2 L1229.0,1040.8 L1229.4,1044.6 L1229.8,1035.3 L1230.2,1036.5 L1230.6,1032.3 L1231.0,1032.4 L1231.4,1033.8 L1231.8,1033.2 L1232.2,1032.7 L1232.6,1032.1 L1233.0,1032.0 L1233.4,1033.0 L1233.8,1034.4 L1234.2,1038.9 L1234.6,1041.8 L1235.0,1041.3 L1235.4,1040.6 L1235.8,1041.1 L1236.2,1047.0 L1236.6,1046.8 L1237.0,1042.6 L1237.4,1056.5 L1237.8,1053.0 L1238.2,1053.7 L1238.6,1053.4 L1239.0,1055.9 L1239.4,1065.3 L1239.8,1060.4 L1240.2,1066.6 L1240.6,1070.7 L1241.0,1077.3 L1241.4,1074.4 L1241.8,1074.1 L1242.2,1074.4 L1242.6,1081.7 L1243.0,1084.3 L1243.4,1080.6 L1243.8,1086.9 L1244.2,1085.9 L1244.6,1081.9 L1245.0,1086.2 L1245.4,1095.5 L1245.8,1099.7 L1246.2,1098.1 L1246.6,1096.0 L1247.0,1095.3 L1247.4,1101.4 L1247.8,1101.2 L1248.2,1094.1 L1248.6,1104.3 L1249.0,1099.8 L1249.4,1105.8 L1249.8,1106.0 L1250.2,1107.4 L1250.6,1109.5 L1251.0,1108.4 L1251.4,1101.6 L1251.8,1102.0 L1252.2,1110.6 L1252.6,1108.4 L1253.0,1100.8 L1253.4,1100.4 L1253.8,1111.3 L1254.2,1115.0 L1254.6,1111.5 L1255.0,1107.7 L1255.4,1110.0 L1255.8,1102.1 L1256.2,1105.3 L1256.6,1113.5 L1257.0,1113.3 L1257.4,1103.5 L1257.8,1115.4 L1258.2,1113.0 L1258.6,1114.5 L1259.0,1110.3 L1259.4,1110.9 L1259.8,1106.5 L1260.2,1112.0 L1260.6,1114.2 L1261.0,1106.8 L1261.4,1111.7 L1261.8,1107.9 L1262.2,1114.0 L1262.6,1113.5 L1263.0,1102.5 L1263.4,1111.4 L1263.8,1113.5 L1264.2,1106.8 L1264.6,1108.2 L1265.0,1108.2 L1265.4,1104.0 L1265.8,1107.8 L1266.2,1114.2 L1266.6,1109.8 L1267.0,1113.5 L1267.4,1111.4 L1267.8,1111.9 L1268.2,1107.4 L1268.6,1109.6 L1269.0,1113.3 L1269.4,1111.7 L1269.8,1107.0 L1270.2,1102.8 L1270.6,1101.5 L1271.0,1105.7 L1271.4,1106.5 L1271.8,1097.7 L1272.2,1105.0 L1272.6,1104.9 L1273.0,1104.3 L1273.4,1100.2 L1273.8,1108.5 L1274.2,1104.0 L1274.6,1094.0 L1275.0,1095.6 L1275.4,1100.3 L1275.8,1098.0 L1276.2,1095.2 L1276.6,1093.2 L1277.0,1091.4 L1277.4,1088.9 L1277.8,1085.5 L1278.2,1090.7 L1278.6,1080.6 L1279.0,1083.7 L1279.4,1090.4 L1279.8,1081.4 L1280.2,1078.6 L1280.6,1089.0 L1281.0,1085.1 L1281.4,1079.4 L1281.8,1076.7 L1282.2,1077.1 L1282.6,1075.6 L1283.0,1075.1 L1283.4,1072.2 L1283.8,1076.2 L1284.2,1071.2 L1284.6,1066.2 L1285.0,1067.2 L1285.4,1072.0 L1285.8,1067.5 L1286.2,1064.3 L1286.6,1076.3 L1287.0,1071.7 L1287.4,1067.5 L1287.8,1066.8 L1288.2,1070.7 L1288.6,1073.9 L1289.0,1066.2 L1289.4,1069.9 L1289.8,1065.6 L1290.2,1069.6 L1290.6,1064.0 L1291.0,1062.3 L1291.4,1069.7 L1291.8,1069.7 L1292.2,1073.2 L1292.6,1068.6 L1293.0,1077.5 L1293.4,1073.3 L1293.8,1079.6 L1294.2,1073.3 L1294.6,1081.3 L1295.0,1076.0 L1295.4,1077.2 L1295.8,1081.0 L1296.2,1071.0 L1296.6,1074.2 L1297.0,1086.2 L1297.4,1073.7 L1297.8,1078.7 L1298.2,1083.0 L1298.6,1086.9 L1299.0,1079.7 L1299.4,1082.2 L1299.8,1077.6 L1300.2,1080.9 L1300.6,1086.6 L1301.0,1084.0 L1301.4,1082.9 L1301.8,1084.3 L1302.2,1082.8 L1302.6,1082.2 L1303.0,1079.5 L1303.4,1076.6 L1303.8,1082.1 L1304.2,1074.0 L1304.6,1081.5 L1305.0,1083.8 L1305.4,1081.8 L1305.8,1082.0 L1306.2,1070.4 L1306.6,1074.5 L1307.0,1069.6 L1307.4,1069.0 L1307.8,1064.5 L1308.2,1065.5 L1308.6,1072.4 L1309.0,1071.0 L1309.4,1072.0 L1309.8,1070.6 L1310.2,1068.3 L1310.6,1061.2 L1311.0,1063.1 L1311.4,1065.4 L1311.8,1066.6 L1312.2,1059.3 L1312.6,1058.2 L1313.0,1057.8 L1313.4,1064.7 L1313.8,1060.0 L1314.2,1055.8 L1314.6,1053.2 L1315.0,1057.1 L1315.4,1048.5 L1315.8,1053.4 L1316.2,1051.5 L1316.6,1050.9 L1317.0,1053.1 L1317.4,1053.2 L1317.8,1057.5 L1318.2,1050.2 L1318.6,1051.6 L1319.0,1045.2 L1319.4,1041.1 L1319.8,1051.5 L1320.2,1052.9 L1320.6,1041.2 L1321.0,1043.9 L1321.4,1047.6 L1321.8,1042.9 L1322.2,1034.9 L1322.6,1044.8 L1323.0,1039.5 L1323.4,1041.9 L1323.8,1034.6 L1324.2,1040.7 L1324.6,1040.8 L1325.0,1033.3 L1325.4,1037.1 L1325.8,1031.8 L1326.2,1031.4 L1326.6,1029.0 L1327.0,1030.0 L1327.4,1028.4 L1327.8,1034.8 L1328.2,1028.7 L1328.6,1024.7 L1329.0,1033.3 L1329.4,1029.3 L1329.8,1030.1 L1330.2,1025.9 L1330.6,1028.1 L1331.0,1024.8 L1331.4,1021.8 L1331.8,1025.0 L1332.2,1024.9 L1332.6,1024.8 L1333.0,1026.0 L1333.4,1021.2 L1333.8,1024.4 L1334.2,1023.0 L1334.6,1023.7 L1335.0,1024.3 L1335.4,1024.0 L1335.8,1023.4 L1336.2,1025.6 L1336.6,1024.9 L1337.0,1027.4 L1337.4,1029.1 L1337.8,1026.0 L1338.2,1024.6 L1338.6,1029.0 L1339.0,1032.2 L1339.4,1031.3 L1339.8,1027.2 L1340.2,1026.5 L1340.6,1030.7 L1341.0,1032.4 L1341.4,1039.9 L1341.8,1039.7 L1342.2,1044.2 L1342.6,1042.6 L1343.0,1051.1 L1343.4,1046.8 L1343.8,1050.9 L1344.2,1049.2 L1344.6,1054.6 L1345.0,1058.6 L1345.4,1059.1 L1345.8,1062.7 L1346.2,1057.6 L1346.6,1063.7 L1347.0,1070.6 L1347.4,1067.2 L1347.8,1067.9 L1348.2,1070.1 L1348.6,1071.2 L1349.0,1075.9 L1349.4,1082.8 L1349.8,1081.5 L1350.2,1081.9 L1350.6,1080.7 L1351.0,1081.4 L1351.4,1093.7 L1351.8,1087.1 L1352.2,1090.6 L1352.6,1089.5 L1353.0,1093.0 L1353.4,1091.9 L1353.8,1095.4 L1354.2,1101.8 L1354.6,1094.9 L1355.0,1100.7 L1355.4,1099.5 L1355.8,1103.7 L1356.2,1099.4 L1356.6,1104.5 L1357.0,1100.3 L1357.4,1097.9 L1357.8,1100.6 L1358.2,1102.9 L1358.6,1102.9 L1359.0,1106.4 L1359.4,1112.4 L1359.8,1105.0 L1360.2,1111.6 L1360.6,1111.1 L1361.0,1108.4 L1361.4,1108.1 L1361.8,1114.0 L1362.2,1114.7 L1362.6,1112.4 L1363.0,1113.6 L1363.4,1114.6 L1363.8,1110.3 L1364.2,1115.9 L1364.6,1117.1 L1365.0,1122.7 L1365.4,1111.9 L1365.8,1113.6 L1366.2,1117.6 L1366.6,1115.3 L1367.0,1116.3 L1367.4,1117.8 L1367.8,1117.1 L1368.2,1118.3 L1368.6,1120.2 L1369.0,1112.8 L1369.4,1120.8 L1369.8,1112.4 L1370.2,1125.5 L1370.6,1122.8 L1371.0,1117.5 L1371.4,1123.7 L1371.8,1119.7 L1372.2,1121.8 L1372.6,1123.0 L1373.0,1121.8 L1373.4,1120.8 L1373.8,1122.9 L1374.2,1119.9 L1374.6,1119.3 L1375.0,1117.2 L1375.4,1113.9 L1375.8,1126.1 L1376.2,1123.1 L1376.6,1115.0 L1377.0,1121.4 L1377.4,1120.5 L1377.8,1113.1 L1378.2,1116.5 L1378.6,1118.8 L1379.0,1125.4 L1379.4,1123.1 L1379.8,1123.5 L1380.2,1119.7 L1380.6,1121.8 L1381.0,1113.3 L1381.4,1119.7 L1381.8,1119.6 L1382.2,1111.8 L1382.6,1116.7 L1383.0,1120.5 L1383.4,1120.9 L1383.8,1118.9 L1384.2,1110.2 L1384.6,1111.7 L1385.0,1109.1 L1385.4,1114.4 L1385.8,1105.8 L1386.2,1104.2 L1386.6,1100.7 L1387.0,1106.0 L1387.4,1105.0 L1387.8,1099.3 L1388.2,1096.6 L1388.6,1096.6 L1389.0,1100.2 L1389.4,1088.4 L1389.8,1091.0 L1390.2,1089.3 L1390.6,1087.3 L1391.0,1088.1 L1391.4,1084.3 L1391.8,1079.9 L1392.2,1081.9 L1392.6,1078.5 L1393.0,1073.0 L1393.4,1070.2 L1393.8,1062.7 L1394.2,1065.0 L1394.6,1060.4 L1395.0,1058.2 L1395.4,1059.4 L1395.8,1055.2 L1396.2,1056.5 L1396.6,1056.5 L1397.0,1057.1 L1397.4,1055.7 L1397.8,1056.2 L1398.2,1057.1 L1398.6,1056.7 L1399.0,1055.4 L1399.4,1055.5 L1399.8,1057.7 L1400.2,1059.1 L1400.6,1058.3 L1401.0,1059.4 L1401.4,1060.8 L1401.8,1065.8 L1402.2,1074.5 L1402.6,1077.9 L1403.0,1071.5 L1403.4,1075.9 L1403.8,1075.1 L1404.2,1076.3 L1404.6,1084.1 L1405.0,1086.5 L1405.4,1086.0 L1405.8,1092.7 L1406.2,1091.3 L1406.6,1098.6 L1407.0,1095.0 L1407.4,1101.6 L1407.8,1099.8 L1408.2,1103.0 L1408.6,1106.6 L1409.0,1101.3 L1409.4,1104.9 L1409.8,1108.8 L1410.2,1109.3 L1410.6,1112.8 L1411.0,1110.1 L1411.4,1109.2 L1411.8,1114.5 L1412.2,1116.7 L1412.6,1113.7 L1413.0,1121.8 L1413.4,1120.6 L1413.8,1121.9 L1414.2,1122.4 L1414.6,1117.2 L1415.0,1127.8 L1415.4,1119.2 L1415.8,1123.9 L1416.2,1126.0 L1416.6,1125.2 L1417.0,1125.4 L1417.4,1122.4 L1417.8,1124.4 L1418.2,1126.4 L1418.6,1131.3 L1419.0,1124.8 L1419.4,1129.9 L1419.8,1129.5 L1420.2,1128.5 L1420.6,1126.6 L1421.0,1128.3 L1421.4,1123.1 L1421.8,1130.0 L1422.2,1130.9 L1422.6,1128.2 L1423.0,1131.9 L1423.4,1131.5 L1423.8,1128.2 L1424.2,1133.9 L1424.6,1129.1 L1425.0,1137.3 L1425.4,1127.7 L1425.8,1128.9 L1426.2,1129.5 L1426.6,1132.7 L1427.0,1135.9 L1427.4,1132.1 L1427.8,1130.6 L1428.2,1138.3 L1428.6,1135.8 L1429.0,1131.5 L1429.4,1132.2 L1429.8,1127.1 L1430.2,1132.7 L1430.6,1138.8 L1431.0,1128.6 L1431.4,1127.8 L1431.8,1133.3 L1432.2,1126.4 L1432.6,1138.4 L1433.0,1128.0 L1433.4,1130.8 L1433.8,1133.1 L1434.2,1137.8 L1434.6,1135.2 L1435.0,1127.2 L1435.4,1127.7 L1435.8,1134.5 L1436.2,1127.2 L1436.6,1132.7 L1437.0,1131.0 L1437.4,1136.3 L1437.8,1137.7 L1438.2,1126.9 L1438.6,1134.8 L1439.0,1135.7 L1439.4,1130.5 L1439.8,1131.4 L1440.2,1129.5 L1440.6,1132.5 L1441.0,1135.1 L1441.4,1138.5 L1441.8,1138.9 L1442.2,1132.8 L1442.6,1131.1 L1443.0,1137.6 L1443.4,1128.0 L1443.8,1129.3 L1444.2,1136.0 L1444.6,1140.5 L1445.0,1131.2 L1445.4,1134.4 L1445.8,1130.1 L1446.2,1133.8 L1446.6,1133.9 L1447.0,1131.6 L1447.4,1135.9 L1447.8,1134.0 L1448.2,1136.4 L1448.6,1133.8 L1449.0,1130.3 L1449.4,1134.8 L1449.8,1137.3 L1450.2,1131.4 L1450.6,1138.7 L1451.0,1135.4 L1451.4,1132.5 L1451.8,1133.9 L1452.2,1132.1 L1452.6,1130.2 L1453.0,1136.5 L1453.4,1136.5 L1453.8,1131.6 L1454.2,1132.2 L1454.6,1132.4 L1455.0,1135.5 L1455.4,1138.2 L1455.8,1130.8 L1456.2,1134.0 L1456.6,1132.9 L1457.0,1134.9 L1457.4,1137.8 L1457.8,1129.8 L1458.2,1126.8 L1458.6,1132.6 L1459.0,1127.6 L1459.4,1139.1 L1459.8,1130.7 L1460.2,1131.9 L1460.6,1133.3 L1461.0,1133.2 L1461.4,1130.8 L1461.8,1132.4 L1462.2,1135.5 L1462.6,1131.1 L1463.0,1138.2 L1463.4,1132.9 L1463.8,1125.0 L1464.2,1134.6 L1464.6,1125.4 L1465.0,1132.5 L1465.4,1137.3 L1465.8,1134.6 L1466.2,1126.8 L1466.6,1127.5 L1467.0,1130.2 L1467.4,1134.7 L1467.8,1126.9 L1468.2,1132.9 L1468.6,1129.8 L1469.0,1128.1 L1469.4,1127.1 L1469.8,1133.0 L1470.2,1121.4 L1470.6,1122.4 L1471.0,1129.0 L1471.4,1128.9 L1471.8,1120.2 L1472.2,1120.8 L1472.6,1119.6 L1473.0,1125.0 L1473.4,1120.0 L1473.8,1126.3 L1474.2,1123.1 L1474.6,1120.8 L1475.0,1119.4 L1475.4,1119.9 L1475.8,1120.0 L1476.2,1116.2 L1476.6,1116.0 L1477.0,1116.9 L1477.4,1113.1 L1477.8,1115.9 L1478.2,1110.9 L1478.6,1107.5 L1479.0,1109.7 L1479.4,1113.6 L1479.8,1111.9 L1480.2,1100.6 L1480.6,1106.2 L1481.0,1102.7 L1481.4,1102.6 L1481.8,1102.1 L1482.2,1102.1 L1482.6,1100.8 L1483.0,1101.2 L1483.4,1102.4 L1483.8,1098.6 L1484.2,1098.5 L1484.6,1098.7 L1485.0,1098.7 L1485.4,1100.9 L1485.8,1099.0 L1486.2,1100.0 L1486.6,1100.1 L1487.0,1100.8 L1487.4,1100.6 L1487.8,1102.6 L1488.2,1101.8 L1488.6,1103.2 L1489.0,1105.1 L1489.4,1101.1 L1489.8,1106.6 L1490.2,1111.0 L1490.6,1107.9 L1491.0,1107.8 L1491.4,1115.5 L1491.8,1111.1 L1492.2,1116.3 L1492.6,1107.5 L1493.0,1115.2 L1493.4,1114.3 L1493.8,1118.7 L1494.2,1122.7 L1494.6,1119.4 L1495.0,1119.5 L1495.4,1114.8 L1495.8,1124.0 L1496.2,1126.6 L1496.6,1123.2 L1497.0,1121.8 L1497.4,1125.3 L1497.8,1127.8 L1498.2,1126.8 L1498.6,1131.3 L1499.0,1123.6 L1499.4,1121.2 L1499.8,1127.9 L1500.2,1130.9 L1500.6,1125.1 L1501.0,1127.1 L1501.4,1125.3 L1501.8,1123.4 L1502.2,1125.4 L1502.6,1121.7 L1503.0,1128.9 L1503.4,1129.8 L1503.8,1131.2 L1504.2,1125.4 L1504.6,1126.3 L1505.0,1123.1 L1505.4,1123.9 L1505.8,1132.3 L1506.2,1135.4 L1506.6,1125.6 L1507.0,1128.0 L1507.4,1132.7 L1507.8,1127.1 L1508.2,1131.5 L1508.6,1128.5 L1509.0,1128.8 L1509.4,1132.9 L1509.8,1129.2 L1510.2,1125.9 L1510.6,1132.9 L1511.0,1130.3 L1511.4,1128.4 L1511.8,1127.6 L1512.2,1132.5 L1512.6,1128.4 L1513.0,1131.3 L1513.4,1134.5 L1513.8,1131.2 L1514.2,1135.2 L1514.6,1127.0 L1515.0,1133.8 L1515.4,1133.9 L1515.8,1138.4 L1516.2,1132.6 L1516.6,1135.6 L1517.0,1132.0 L1517.4,1129.2 L1517.8,1129.8 L1518.2,1130.8 L1518.6,1136.1 L1519.0,1131.1 L1519.4,1133.9 L1519.8,1137.0 L1520.2,1138.2 L1520.6,1137.4 L1521.0,1139.6 L1521.4,1131.1 L1521.8,1133.6 L1522.2,1136.3 L1522.6,1139.2 L1523.0,1137.3 L1523.4,1133.2 L1523.8,1134.9 L1524.2,1130.3 L1524.6,1138.4 L1525.0,1130.0 L1525.4,1136.7 L1525.8,1139.8 L1526.2,1139.2 L1526.6,1130.8 L1527.0,1137.0 L1527.4,1135.1 L1527.8,1135.2 L1528.2,1141.7 L1528.6,1136.9 L1529.0,1131.2 L1529.4,1132.3 L1529.8,1138.3 L1530.2,1136.6 L1530.6,1131.9 L1531.0,1130.0 L1531.4,1133.9 L1531.8,1134.2 L1532.2,1138.5 L1532.6,1133.6 L1533.0,1137.7 L1533.4,1139.6 L1533.8,1130.2 L1534.2,1133.5 L1534.6,1140.7 L1535.0,1134.1 L1535.4,1135.4 L1535.8,1138.6 L1536.2,1132.8 L1536.6,1134.0 L1537.0,1130.1 L1537.4,1137.7 L1537.8,1134.0 L1538.2,1134.3 L1538.6,1129.6 L1539.0,1138.4 L1539.4,1137.4 L1539.8,1132.7 L1540.2,1139.3 L1540.6,1129.4 L1541.0,1135.0 L1541.4,1129.7 L1541.8,1141.2 L1542.2,1129.1 L1542.6,1131.0 L1543.0,1132.5 L1543.4,1137.6 L1543.8,1137.9 L1544.2,1136.4 L1544.6,1134.3 L1545.0,1141.6 L1545.4,1132.7 L1545.8,1136.2 L1546.2,1140.8 L1546.6,1130.8 L1547.0,1132.3 L1547.4,1138.8 L1547.8,1136.9 L1548.2,1131.1 L1548.6,1135.8 L1549.0,1142.2 L1549.4,1135.3 L1549.8,1138.7 L1550.2,1136.5 L1550.6,1133.9 L1551.0,1141.7 L1551.4,1139.8 L1551.8,1140.3 L1552.2,1135.8 L1552.6,1136.6 L1553.0,1137.2 L1553.4,1137.8 L1553.8,1135.2 L1554.2,1134.5 L1554.6,1140.4 L1555.0,1132.5 L1555.4,1134.6 L1555.8,1134.9 L1556.2,1134.5 L1556.6,1132.2 L1557.0,1133.8 L1557.4,1138.9 L1557.8,1134.8 L1558.2,1133.5 L1558.6,1141.3 L1559.0,1131.2 L1559.4,1139.2 L1559.8,1137.1 L1560.2,1131.2 L1560.6,1134.5 L1561.0,1134.6 L1561.4,1140.2 L1561.8,1138.9 L1562.2,1135.1 L1562.6,1132.2 L1563.0,1130.7 L1563.4,1135.9 L1563.8,1132.2 L1564.2,1136.6 L1564.6,1136.8 L1565.0,1139.0 L1565.4,1141.2 L1565.8,1138.9 L1566.2,1140.1 L1566.6,1138.2 L1567.0,1142.6 L1567.4,1142.1 L1567.8,1144.8 L1568.2,1143.9 L1568.6,1136.9 L1569.0,1134.4 L1569.4,1141.2 L1569.8,1142.8 L1570.2,1136.7 L1570.6,1143.8 L1571.0,1139.0 L1571.4,1138.2 L1571.8,1139.4 L1572.2,1133.7 L1572.6,1132.7 L1573.0,1136.7 L1573.4,1133.8 L1573.8,1137.3 L1574.2,1137.0 L1574.6,1131.2 L1575.0,1134.2 L1575.4,1138.3 L1575.8,1130.7 L1576.2,1135.0 L1576.6,1131.4 L1577.0,1130.2 L1577.4,1139.0 L1577.8,1138.4 L1578.2,1133.2 L1578.6,1132.7 L1579.0,1139.0 L1579.4,1138.3 L1579.8,1134.2 L1580.2,1136.6 L1580.6,1133.8 L1581.0,1132.3 L1581.4,1135.1 L1581.8,1131.5 L1582.2,1134.6 L1582.6,1131.5 L1583.0,1130.8 L1583.4,1130.0 L1583.8,1133.2 L1584.2,1134.6 L1584.6,1132.5 L1585.0,1128.1 L1585.4,1132.5 L1585.8,1127.4 L1586.2,1126.3 L1586.6,1129.4 L1587.0,1132.5 L1587.4,1131.7 L1587.8,1131.0 L1588.2,1133.7 L1588.6,1132.0 L1589.0,1127.9 L1589.4,1131.5 L1589.8,1128.0 L1590.2,1130.1 L1590.6,1130.8 L1591.0,1128.5 L1591.4,1123.6 L1591.8,1127.9 L1592.2,1127.2 L1592.6,1127.5 L1593.0,1126.2 L1593.4,1123.7 L1593.8,1121.9 L1594.2,1129.5 L1594.6,1129.8 L1595.0,1128.4 L1595.4,1126.6 L1595.8,1132.8 L1596.2,1128.6 L1596.6,1126.3 L1597.0,1128.8 L1597.4,1125.6 L1597.8,1128.2 L1598.2,1126.7 L1598.6,1127.1 L1599.0,1125.2 L1599.4,1123.2 L1599.8,1126.1 L1600.2,1127.6 L1600.6,1120.7 L1601.0,1121.5 L1601.4,1119.5 L1601.8,1125.5 L1602.2,1121.4 L1602.6,1124.9 L1603.0,1119.3 L1603.4,1124.2 L1603.8,1119.6 L1604.2,1119.7 L1604.6,1122.7 L1605.0,1119.7 L1605.4,1118.9 L1605.8,1123.8 L1606.2,1120.3 L1606.6,1124.5 L1607.0,1126.0 L1607.4,1117.8 L1607.8,1118.5 L1608.2,1114.3 L1608.6,1115.0 L1609.0,1120.5 L1609.4,1119.2 L1609.8,1119.0 L1610.2,1119.2 L1610.6,1114.5 L1611.0,1111.3 L1611.4,1120.0 L1611.8,1117.0 L1612.2,1119.6 L1612.6,1115.6 L1613.0,1118.0 L1613.4,1113.7 L1613.8,1115.1 L1614.2,1114.2 L1614.6,1115.6 L1615.0,1118.8 L1615.4,1116.1 L1615.8,1108.0 L1616.2,1113.4 L1616.6,1113.4 L1617.0,1115.8 L1617.4,1113.3 L1617.8,1110.5 L1618.2,1109.8 L1618.6,1111.0 L1619.0,1109.8 L1619.4,1116.8 L1619.8,1113.9 L1620.2,1111.8 L1620.6,1114.6 L1621.0,1117.3 L1621.4,1110.5 L1621.8,1110.7 L1622.2,1109.8 L1622.6,1106.8 L1623.0,1108.4 L1623.4,1107.1 L1623.8,1111.3 L1624.2,1110.8 L1624.6,1111.5 L1625.0,1107.4 L1625.4,1110.7 L1625.8,1106.9 L1626.2,1108.1 L1626.6,1109.8 L1627.0,1109.4 L1627.4,1109.1 L1627.8,1109.6 L1628.2,1109.1 L1628.6,1108.0 L1629.0,1108.2 L1629.4,1107.5 L1629.8,1109.4 L1630.2,1107.8 L1630.6,1108.3 L1631.0,1107.7 L1631.4,1105.9 L1631.8,1116.0 L1632.2,1113.9 L1632.6,1106.0 L1633.0,1113.5 L1633.4,1110.8 L1633.8,1107.1 L1634.2,1112.9 L1634.6,1114.9 L1635.0,1116.7 L1635.4,1119.0 L1635.8,1113.2 L1636.2,1116.2 L1636.6,1118.9 L1637.0,1119.3 L1637.4,1119.2 L1637.8,1118.5 L1638.2,1122.4 L1638.6,1114.8 L1639.0,1114.8 L1639.4,1126.2 L1639.8,1122.2 L1640.2,1125.3 L1640.6,1123.1 L1641.0,1122.2 L1641.4,1122.7 L1641.8,1125.3 L1642.2,1124.1 L1642.6,1126.2 L1643.0,1126.9 L1643.4,1130.4 L1643.8,1131.1 L1644.2,1134.2 L1644.6,1127.3 L1645.0,1130.1 L1645.4,1133.9 L1645.8,1132.4 L1646.2,1125.5 L1646.6,1133.3 L1647.0,1132.2 L1647.4,1131.0 L1647.8,1131.7 L1648.2,1131.1 L1648.6,1137.6 L1649.0,1136.5 L1649.4,1135.4 L1649.8,1138.7 L1650.2,1138.3 L1650.6,1132.9 L1651.0,1132.4 L1651.4,1132.9 L1651.8,1139.2 L1652.2,1137.3 L1652.6,1141.8 L1653.0,1139.9 L1653.4,1137.7 L1653.8,1134.4 L1654.2,1137.6 L1654.6,1144.2 L1655.0,1136.6 L1655.4,1136.2 L1655.8,1138.2 L1656.2,1143.3 L1656.6,1138.8 L1657.0,1135.4 L1657.4,1136.8 L1657.8,1138.6 L1658.2,1139.6 L1658.6,1142.7 L1659.0,1145.2 L1659.4,1143.9 L1659.8,1141.3 L1660.2,1139.4 L1660.6,1136.8 L1661.0,1141.4 L1661.4,1143.6 L1661.8,1142.2 L1662.2,1139.2 L1662.6,1141.8 L1663.0,1139.0 L1663.4,1139.4 L1663.8,1139.5 L1664.2,1140.3 L1664.6,1139.9 L1665.0,1143.3 L1665.4,1140.0 L1665.8,1139.9 L1666.2,1143.6 L1666.6,1142.8 L1667.0,1144.2 L1667.4,1138.2 L1667.8,1144.6 L1668.2,1140.3 L1668.6,1136.8 L1669.0,1139.6 L1669.4,1136.2 L1669.8,1136.9 L1670.2,1138.8 L1670.6,1143.2 L1671.0,1135.6 L1671.4,1141.0 L1671.8,1139.1 L1672.2,1144.5 L1672.6,1139.9 L1673.0,1140.8 L1673.4,1143.2 L1673.8,1135.3 L1674.2,1137.7 L1674.6,1133.9 L1675.0,1136.1 L1675.4,1139.7 L1675.8,1137.9 L1676.2,1139.8 L1676.6,1137.0 L1677.0,1136.0 L1677.4,1137.9 L1677.8,1135.4 L1678.2,1134.5 L1678.6,1132.9 L1679.0,1137.6 L1679.4,1139.5 L1679.8,1134.0 L1680.2,1136.5 L1680.6,1131.8 L1681.0,1133.6 L1681.4,1137.2 L1681.8,1132.6 L1682.2,1138.0 L1682.6,1135.3 L1683.0,1137.6 L1683.4,1134.3 L1683.8,1131.2 L1684.2,1135.5 L1684.6,1137.8 L1685.0,1133.6 L1685.4,1136.4 L1685.8,1132.8 L1686.2,1133.6 L1686.6,1138.4 L1687.0,1134.0 L1687.4,1130.9 L1687.8,1135.6 L1688.2,1133.9 L1688.6,1131.5 L1689.0,1135.1 L1689.4,1126.7 L1689.8,1133.6 L1690.2,1137.3 L1690.6,1131.5 L1691.0,1124.3 L1691.4,1133.8 L1691.8,1135.0 L1692.2,1130.2 L1692.6,1124.6 L1693.0,1125.3 L1693.4,1126.5 L1693.8,1127.0 L1694.2,1129.5 L1694.6,1127.0 L1695.0,1119.0 L1695.4,1123.1 L1695.8,1123.0 L1696.2,1129.1 L1696.6,1120.5 L1697.0,1117.2 L1697.4,1120.0 L1697.8,1120.7 L1698.2,1113.0 L1698.6,1121.1 L1699.0,1115.9 L1699.4,1117.7 L1699.8,1115.8 L1700.2,1114.1 L1700.6,1115.5 L1701.0,1115.1 L1701.4,1107.6 L1701.8,1107.9 L1702.2,1110.7 L1702.6,1107.2 L1703.0,1104.0 L1703.4,1105.8 L1703.8,1102.6 L1704.2,1103.6 L1704.6,1099.0 L1705.0,1105.1 L1705.4,1110.4 L1705.8,1106.9 L1706.2,1106.6 L1706.6,1104.9 L1707.0,1101.8 L1707.4,1105.4 L1707.8,1104.1 L1708.2,1103.4 L1708.6,1104.4 L1709.0,1102.4 L1709.4,1104.5 L1709.8,1106.0 L1710.2,1106.9 L1710.6,1105.0 L1711.0,1106.5 L1711.4,1105.3 L1711.8,1102.6 L1712.2,1103.2 L1712.6,1105.3 L1713.0,1104.6 L1713.4,1106.1 L1713.8,1104.5 L1714.2,1105.2 L1714.6,1104.9 L1715.0,1104.5 L1715.4,1104.4 L1715.8,1105.5 L1716.2,1105.7 L1716.6,1104.1 L1717.0,1106.1 L1717.4,1107.1 L1717.8,1105.3 L1718.2,1103.7 L1718.6,1103.9 L1719.0,1104.4 L1719.4,1104.2 L1719.8,1106.0 L1720.2,1112.0 L1720.6,1109.7 L1721.0,1106.5 L1721.4,1108.3 L1721.8,1108.3 L1722.2,1110.8 L1722.6,1111.4 L1723.0,1104.2 L1723.4,1113.6 L1723.8,1105.4 L1724.2,1108.7 L1724.6,1106.0 L1725.0,1103.8 L1725.4,1103.7 L1725.8,1115.6 L1726.2,1114.7 L1726.6,1107.0 L1727.0,1106.8 L1727.4,1115.5 L1727.8,1108.0 L1728.2,1112.6 L1728.6,1117.0 L1729.0,1113.9 L1729.4,1116.2 L1729.8,1112.2 L1730.2,1106.2 L1730.6,1109.4 L1731.0,1106.3 L1731.4,1113.1 L1731.8,1108.1 L1732.2,1113.1 L1732.6,1111.4 L1733.0,1111.0 L1733.4,1115.1 L1733.8,1112.3 L1734.2,1111.8 L1734.6,1118.1 L1735.0,1115.2 L1735.4,1111.2 L1735.8,1120.5 L1736.2,1112.6 L1736.6,1118.4 L1737.0,1120.1 L1737.4,1118.0 L1737.8,1116.8 L1738.2,1118.9 L1738.6,1119.6 L1739.0,1117.8 L1739.4,1124.8 L1739.8,1120.7 L1740.2,1120.8 L1740.6,1128.0 L1741.0,1121.5 L1741.4,1119.4 L1741.8,1125.1 L1742.2,1125.9 L1742.6,1126.4 L1743.0,1132.8 L1743.4,1125.3 L1743.8,1132.0 L1744.2,1130.9 L1744.6,1133.3 L1745.0,1128.7 L1745.4,1128.5 L1745.8,1129.6 L1746.2,1131.9 L1746.6,1134.4 L1747.0,1137.1 L1747.4,1126.5 L1747.8,1136.3 L1748.2,1134.2 L1748.6,1133.6 L1749.0,1130.8 L1749.4,1135.6 L1749.8,1129.0 L1750.2,1139.1 L1750.6,1132.1 L1751.0,1134.8 L1751.4,1134.7 L1751.8,1137.1 L1752.2,1131.2 L1752.6,1138.1 L1753.0,1136.5 L1753.4,1139.8 L1753.8,1135.7 L1754.2,1134.0 L1754.6,1127.9 L1755.0,1132.6 L1755.4,1139.1 L1755.8,1132.0 L1756.2,1131.7 L1756.6,1132.5 L1757.0,1135.5 L1757.4,1126.7 L1757.8,1137.9 L1758.2,1133.8 L1758.6,1133.8 L1759.0,1130.9 L1759.4,1136.4 L1759.8,1128.7 L1760.2,1132.4 L1760.6,1129.8 L1761.0,1125.1 L1761.4,1128.7 L1761.8,1131.2 L1762.2,1127.4 L1762.6,1126.6 L1763.0,1127.4 L1763.4,1124.2 L1763.8,1123.1 L1764.2,1126.5 L1764.6,1122.4 L1765.0,1126.8 L1765.4,1126.7 L1765.8,1127.9 L1766.2,1126.1 L1766.6,1121.5 L1767.0,1123.3 L1767.4,1117.6 L1767.8,1122.0 L1768.2,1118.0 L1768.6,1123.6 L1769.0,1116.3 L1769.4,1118.3 L1769.8,1114.5 L1770.2,1118.4 L1770.6,1118.1 L1771.0,1112.2 L1771.4,1120.7 L1771.8,1116.0 L1772.2,1109.4 L1772.6,1110.2 L1773.0,1106.7 L1773.4,1106.0 L1773.8,1111.1 L1774.2,1105.1 L1774.6,1112.0 L1775.0,1105.1 L1775.4,1108.6 L1775.8,1114.5 L1776.2,1107.6 L1776.6,1108.0 L1777.0,1111.0 L1777.4,1106.2 L1777.8,1107.8 L1778.2,1104.7 L1778.6,1105.2 L1779.0,1105.8 L1779.4,1105.4 L1779.8,1104.5 L1780.2,1105.3 L1780.6,1105.7 L1781.0,1105.7 L1781.4,1105.4 L1781.8,1104.5 L1782.2,1106.9 L1782.6,1107.8 L1783.0,1105.0 L1783.4,1103.4 L1783.8,1107.7 L1784.2,1111.5 L1784.6,1111.9 L1785.0,1106.8 L1785.4,1115.2 L1785.8,1109.1 L1786.2,1115.7 L1786.6,1112.2 L1787.0,1117.3 L1787.4,1116.6 L1787.8,1115.0 L1788.2,1118.7 L1788.6,1115.0 L1789.0,1116.5 L1789.4,1117.5 L1789.8,1116.2 L1790.2,1122.6 L1790.6,1123.1 L1791.0,1120.6 L1791.4,1117.9 L1791.8,1123.1 L1792.2,1123.0 L1792.6,1124.7 L1793.0,1123.5 L1793.4,1123.3 L1793.8,1129.5 L1794.2,1123.7 L1794.6,1125.5 L1795.0,1120.7 L1795.4,1125.8 L1795.8,1126.1 L1796.2,1127.0 L1796.6,1130.5 L1797.0,1127.3 L1797.4,1130.9 L1797.8,1128.8 L1798.2,1128.8 L1798.6,1124.9 L1799.0,1132.4 L1799.4,1133.2 L1799.8,1128.0 L1800.2,1129.3 L1800.6,1125.5 L1801.0,1130.0 L1801.4,1127.6 L1801.8,1132.3 L1802.2,1130.4 L1802.6,1132.5 L1803.0,1127.5 L1803.4,1124.4 L1803.8,1129.6 L1804.2,1127.7 L1804.6,1135.4 L1805.0,1130.2 L1805.4,1133.7 L1805.8,1130.3 L1806.2,1127.3 L1806.6,1122.8 L1807.0,1126.8 L1807.4,1129.3 L1807.8,1127.2 L1808.2,1127.6 L1808.6,1127.4 L1809.0,1121.6 L1809.4,1126.8 L1809.8,1122.6 L1810.2,1124.8 L1810.6,1129.2 L1811.0,1118.9 L1811.4,1123.4 L1811.8,1125.3 L1812.2,1127.8 L1812.6,1124.5 L1813.0,1121.4 L1813.4,1126.6 L1813.8,1125.9 L1814.2,1118.3 L1814.6,1124.3 L1815.0,1118.9 L1815.4,1119.2 L1815.8,1122.1 L1816.2,1122.8 L1816.6,1120.8 L1817.0,1132.8 L1817.4,1122.7 L1817.8,1128.7 L1818.2,1130.7 L1818.6,1135.1 L1819.0,1128.2 L1819.4,1134.8 L1819.8,1126.3 L1820.2,1130.5 L1820.6,1129.7 L1821.0,1128.1 L1821.4,1132.8 L1821.8,1138.1 L1822.2,1138.4 L1822.6,1134.9 L1823.0,1129.3 L1823.4,1130.9 L1823.8,1135.7 L1824.2,1135.8 L1824.6,1136.0 L1825.0,1133.4 L1825.4,1131.4 L1825.8,1136.3 L1826.2,1135.0 L1826.6,1139.6 L1827.0,1133.2 L1827.4,1138.3 L1827.8,1140.3 L1828.2,1142.2 L1828.6,1142.4 L1829.0,1133.2 L1829.4,1133.1 L1829.8,1137.5 L1830.2,1134.5 L1830.6,1131.9 L1831.0,1142.8 L1831.4,1139.7 L1831.8,1141.6 L1832.2,1139.1 L1832.6,1142.4 L1833.0,1139.7 L1833.4,1139.7 L1833.8,1145.4 L1834.2,1135.9 L1834.6,1141.7 L1835.0,1135.0 L1835.4,1145.3 L1835.8,1139.9 L1836.2,1136.7 L1836.6,1134.8 L1837.0,1140.0 L1837.4,1146.9 L1837.8,1142.7 L1838.2,1136.2 L1838.6,1135.3 L1839.0,1147.4 L1839.4,1139.6 L1839.8,1137.0 L1840.2,1142.5 L1840.6,1143.9 L1841.0,1147.3 L1841.4,1141.6 L1841.8,1140.1 L1842.2,1144.9 L1842.6,1140.0 L1843.0,1143.9 L1843.4,1143.5 L1843.8,1146.0 L1844.2,1140.7 L1844.6,1140.7 L1845.0,1144.1 L1845.4,1144.8 L1845.8,1138.4 L1846.2,1140.5 L1846.6,1143.7 L1847.0,1142.5 L1847.4,1149.8 L1847.8,1146.0 L1848.2,1147.8 L1848.6,1143.4 L1849.0,1144.0 L1849.4,1144.2 L1849.8,1147.7 L1850.2,1143.2 L1850.6,1149.7 L1851.0,1141.8 L1851.4,1147.6 L1851.8,1145.3 L1852.2,1143.3 L1852.6,1150.0 L1853.0,1148.1 L1853.4,1144.4 L1853.8,1142.5 L1854.2,1147.8 L1854.6,1142.6 L1855.0,1146.9 L1855.4,1142.2 L1855.8,1145.4 L1856.2,1142.4 L1856.6,1144.9 L1857.0,1151.1 L1857.4,1151.6 L1857.8,1144.3 L1858.2,1145.0 L1858.6,1140.2 L1859.0,1146.7 L1859.4,1149.5 L1859.8,1142.9 L1860.2,1142.8 L1860.6,1147.0 L1861.0,1143.9 L1861.4,1146.6 L1861.8,1151.2 L1862.2,1147.4 L1862.6,1148.2 L1863.0,1152.0 L1863.4,1147.0 L1863.8,1148.5 L1864.2,1146.5 L1864.6,1143.8 L1865.0,1151.8 L1865.4,1141.9 L1865.8,1146.8 L1866.2,1142.7 L1866.6,1144.1 L1867.0,1142.7 L1867.4,1146.0 L1867.8,1148.5 L1868.2,1151.7 L1868.6,1141.3 L1869.0,1148.1 L1869.4,1146.0 L1869.8,1145.2 L1870.2,1146.7 L1870.6,1147.6 L1871.0,1146.4 L1871.4,1146.9 L1871.8,1152.8 L1872.2,1147.2 L1872.6,1148.1 L1873.0,1142.9 L1873.4,1150.2 L1873.8,1145.1 L1874.2,1146.3 L1874.6,1144.3 L1875.0,1146.6 L1875.4,1144.1 L1875.8,1142.9 L1876.2,1142.6 L1876.6,1145.9 L1877.0,1147.1 L1877.4,1149.6 L1877.8,1152.9 L1878.2,1153.5 L1878.6,1145.6 L1879.0,1145.6 L1879.4,1150.5 L1879.8,1145.1 L1880.2,1151.9 L1880.6,1151.5 L1881.0,1144.8 L1881.4,1150.6 L1881.8,1152.7 L1882.2,1149.4 L1882.6,1147.2 L1883.0,1147.5 L1883.4,1149.7 L1883.8,1145.7 L1884.2,1149.4 L1884.6,1147.6 L1885.0,1146.0 L1885.4,1145.4 L1885.8,1150.3 L1886.2,1145.5 L1886.6,1149.4 L1887.0,1142.5 L1887.4,1147.7 L1887.8,1148.6 L1888.2,1149.3 L1888.6,1151.3 L1889.0,1150.3 L1889.4,1150.1 L1889.8,1147.3 L1890.2,1144.9 L1890.6,1144.5 L1891.0,1145.9 L1891.4,1149.2 L1891.8,1151.9 L1892.2,1149.9 L1892.6,1149.3 L1893.0,1151.1 L1893.4,1147.7 L1893.8,1149.5 L1894.2,1148.4 L1894.6,1149.4 L1895.0,1148.1 L1895.4,1144.5 L1895.8,1147.4 L1896.2,1145.9 L1896.6,1154.6 L1897.0,1153.6 L1897.4,1146.9 L1897.8,1146.1 L1898.2,1148.8 L1898.6,1144.0 L1899.0,1152.9 L1899.4,1148.6 L1899.8,1147.4 L1900.2,1152.2 L1900.6,1152.9 L1901.0,1149.3 L1901.4,1152.3 L1901.8,1143.3 L1902.2,1146.5 L1902.6,1146.4 L1903.0,1143.6 L1903.4,1151.8 L1903.8,1154.7 L1904.2,1144.5 L1904.6,1146.7 L1905.0,1151.8 L1905.4,1147.3 L1905.8,1148.0 L1906.2,1145.4 L1906.6,1149.0 L1907.0,1144.7 L1907.4,1150.4 L1907.8,1149.6 L1908.2,1149.2 L1908.6,1145.5 L1909.0,1147.1 L1909.4,1149.2 L1909.8,1145.1 L1910.2,1145.0 L1910.6,1142.1 L1911.0,1146.2 L1911.4,1147.5 L1911.8,1151.1 L1912.2,1143.9 L1912.6,1143.0 L1913.0,1151.6 L1913.4,1151.1 L1913.8,1143.5 L1914.2,1145.4 L1914.6,1141.2 L1915.0,1146.8 L1915.4,1151.1 L1915.8,1149.5 L1916.2,1143.4 L1916.6,1147.8 L1917.0,1144.3 L1917.4,1147.5 L1917.8,1144.6 L1918.2,1148.4 L1918.6,1150.4 L1919.0,1147.3 L1919.4,1147.3 L1919.8,1147.3 L1920.2,1148.6 L1920.6,1144.5 L1921.0,1145.4 L1921.4,1145.4 L1921.8,1150.1 L1922.2,1146.3 L1922.6,1147.4 L1923.0,1144.3 L1923.4,1141.4 L1923.8,1144.8 L1924.2,1147.5 L1924.6,1144.9 L1925.0,1144.1 L1925.4,1144.8 L1925.8,1147.6 L1926.2,1147.3 L1926.6,1145.8 L1927.0,1142.8 L1927.4,1143.6 L1927.8,1151.6 L1928.2,1145.3 L1928.6,1147.8 L1929.0,1146.8 L1929.4,1141.3 L1929.8,1150.0 L1930.2,1146.0 L1930.6,1142.7 L1931.0,1148.1 L1931.4,1144.0 L1931.8,1146.9 L1932.2,1141.4 L1932.6,1145.0 L1933.0,1147.8 L1933.4,1144.3 L1933.8,1141.3 L1934.2,1143.4 L1934.6,1148.2 L1935.0,1141.0 L1935.4,1141.7 L1935.8,1148.5 L1936.2,1146.3 L1936.6,1145.9 L1937.0,1144.6 L1937.4,1147.3 L1937.8,1148.4 L1938.2,1147.3 L1938.6,1140.2 L1939.0,1148.0 L1939.4,1140.4 L1939.8,1151.3 L1940.2,1144.4 L1940.6,1147.8 L1941.0,1146.8 L1941.4,1143.5 L1941.8,1149.5 L1942.2,1146.4 L1942.6,1151.8 L1943.0,1148.0 L1943.4,1146.8 L1943.8,1151.4 L1944.2,1150.1 L1944.6,1145.7 L1945.0,1143.1 L1945.4,1151.6 L1945.8,1149.6 L1946.2,1149.7 L1946.6,1144.7 L1947.0,1143.6 L1947.4,1142.7 L1947.8,1149.3 L1948.2,1145.2 L1948.6,1147.7 L1949.0,1139.6 L1949.4,1149.0 L1949.8,1143.5 L1950.2,1139.7 L1950.6,1141.5 L1951.0,1147.2 L1951.4,1150.8 L1951.8,1139.7 L1952.2,1141.1 L1952.6,1146.2 L1953.0,1140.7 L1953.4,1144.3 L1953.8,1142.5 L1954.2,1146.4 L1954.6,1141.4 L1955.0,1145.0 L1955.4,1143.0 L1955.8,1146.1 L1956.2,1145.3 L1956.6,1148.8 L1957.0,1146.3 L1957.4,1151.4 L1957.8,1140.3 L1958.2,1144.9 L1958.6,1148.1 L1959.0,1145.8 L1959.4,1139.6 L1959.8,1146.7 L1960.2,1144.1 L1960.6,1151.7 L1961.0,1145.4 L1961.4,1148.0 L1961.8,1142.8 L1962.2,1148.1 L1962.6,1139.8 L1963.0,1142.5 L1963.4,1144.7 L1963.8,1140.9 L1964.2,1149.1 L1964.6,1145.9 L1965.0,1151.1 L1965.4,1140.9 L1965.8,1142.6 L1966.2,1147.7 L1966.6,1144.0 L1967.0,1148.1 L1967.4,1147.5 L1967.8,1142.9 L1968.2,1145.9 L1968.6,1147.3 L1969.0,1146.5 L1969.4,1145.0 L1969.8,1144.0 L1970.2,1144.7 L1970.6,1148.6 L1971.0,1151.3 L1971.4,1140.5 L1971.8,1142.0 L1972.2,1144.8 L1972.6,1150.0 L1973.0,1142.4 L1973.4,1151.3 L1973.8,1151.2 L1974.2,1139.0 L1974.6,1147.1 L1975.0,1146.5 L1975.4,1143.4 L1975.8,1139.0 L1976.2,1146.1 L1976.6,1144.2 L1977.0,1149.3 L1977.4,1147.3 L1977.8,1142.2 L1978.2,1151.1 L1978.6,1151.1 L1979.0,1150.4 L1979.4,1145.7 L1979.8,1148.6 L1980.2,1146.0 L1980.6,1143.8 L1981.0,1139.3 L1981.4,1146.2 L1981.8,1138.9 L1982.2,1147.2 L1982.6,1140.4 L1983.0,1145.8 L1983.4,1144.0 L1983.8,1141.0 L1984.2,1141.3 L1984.6,1143.1 L1985.0,1149.9 L1985.4,1146.2 L1985.8,1143.9 L1986.2,1147.4 L1986.6,1140.7 L1987.0,1139.5 L1987.4,1141.7 L1987.8,1148.4 L1988.2,1144.0 L1988.6,1145.1 L1989.0,1144.9 L1989.4,1143.2 L1989.8,1148.5 L1990.2,1146.9 L1990.6,1141.6 L1991.0,1140.9 L1991.4,1144.3 L1991.8,1141.4 L1992.2,1144.1 L1992.6,1146.4 L1993.0,1144.4 L1993.4,1144.7 L1993.8,1142.2 L1994.2,1141.2 L1994.6,1140.3 L1995.0,1148.0 L1995.4,1141.6 L1995.8,1144.3 L1996.2,1144.1 L1996.6,1145.1 L1997.0,1142.2 L1997.4,1138.2 L1997.8,1149.3 L1998.2,1139.9 L1998.6,1145.4 L1999.0,1139.9 L1999.4,1145.7 L1999.8,1140.1 L2000.2,1149.1 L2000.6,1144.8 L2001.0,1138.0 L2001.4,1148.8 L2001.8,1137.6 L2002.2,1142.4 L2002.6,1147.1 L2003.0,1141.9 L2003.4,1147.3 L2003.8,1143.2 L2004.2,1141.0 L2004.6,1147.0 L2005.0,1143.0 L2005.4,1141.2 L2005.8,1145.8 L2006.2,1142.0 L2006.6,1138.2 L2007.0,1140.3 L2007.4,1148.7 L2007.8,1148.6 L2008.2,1137.1 L2008.6,1144.9 L2009.0,1146.3 L2009.4,1141.0 L2009.8,1143.8 L2010.2,1138.1 L2010.6,1140.0 L2011.0,1144.7 L2011.4,1140.8 L2011.8,1140.1 L2012.2,1139.7 L2012.6,1136.0 L2013.0,1136.8 L2013.4,1138.3 L2013.8,1139.8 L2014.2,1137.5 L2014.6,1146.3 L2015.0,1134.5 L2015.4,1136.5 L2015.8,1137.6 L2016.2,1141.4 L2016.6,1134.8 L2017.0,1140.3 L2017.4,1136.5 L2017.8,1136.6 L2018.2,1140.7 L2018.6,1141.8 L2019.0,1142.3 L2019.4,1134.8 L2019.8,1142.0 L2020.2,1141.6 L2020.6,1139.1 L2021.0,1139.4 L2021.4,1137.8 L2021.8,1137.0 L2022.2,1139.9 L2022.6,1142.5 L2023.0,1135.9 L2023.4,1137.7 L2023.8,1139.5 L2024.2,1131.6 L2024.6,1141.6 L2025.0,1137.1 L2025.4,1140.4 L2025.8,1134.3 L2026.2,1132.4 L2026.6,1134.5 L2027.0,1135.7 L2027.4,1131.2 L2027.8,1136.9 L2028.2,1134.4 L2028.6,1129.8 L2029.0,1134.7 L2029.4,1132.3 L2029.8,1132.7 L2030.2,1131.2 L2030.6,1130.0 L2031.0,1128.1 L2031.4,1132.2 L2031.8,1132.0 L2032.2,1133.2 L2032.6,1129.1 L2033.0,1132.8 L2033.4,1134.0 L2033.8,1126.9 L2034.2,1131.0 L2034.6,1135.5 L2035.0,1127.8 L2035.4,1128.2 L2035.8,1128.8 L2036.2,1127.1 L2036.6,1131.3 L2037.0,1128.0 L2037.4,1127.6 L2037.8,1125.0 L2038.2,1129.0 L2038.6,1126.6 L2039.0,1125.1 L2039.4,1125.1 L2039.8,1131.2 L2040.2,1125.4 L2040.6,1126.0 L2041.0,1129.2 L2041.4,1124.1 L2041.8,1127.4 L2042.2,1120.6 L2042.6,1126.0 L2043.0,1117.6 L2043.4,1123.7 L2043.8,1121.6 L2044.2,1120.3 L2044.6,1125.8 L2045.0,1124.5 L2045.4,1124.6 L2045.8,1126.5 L2046.2,1123.1 L2046.6,1123.0 L2047.0,1120.8 L2047.4,1126.8 L2047.8,1124.1 L2048.2,1118.5 L2048.6,1118.1 L2049.0,1118.6 L2049.4,1118.5 L2049.8,1125.3 L2050.2,1122.0 L2050.6,1124.5 L2051.0,1118.7 L2051.4,1119.1 L2051.8,1126.0 L2052.2,1116.3 L2052.6,1118.6 L2053.0,1117.1 L2053.4,1121.0 L2053.8,1129.6 L2054.2,1121.7 L2054.6,1127.9 L2055.0,1130.3 L2055.4,1123.3 L2055.8,1123.4 L2056.2,1127.1 L2056.6,1128.5 L2057.0,1121.5 L2057.4,1124.0 L2057.8,1132.5 L2058.2,1124.8 L2058.6,1128.9 L2059.0,1131.3 L2059.4,1127.4 L2059.8,1128.3 L2060.2,1127.1 L2060.6,1127.2 L2061.0,1127.7 L2061.4,1124.7 L2061.8,1128.5 L2062.2,1129.7 L2062.6,1133.0 L2063.0,1129.3 L2063.4,1128.8 L2063.8,1137.0 L2064.2,1131.1 L2064.6,1130.3 L2065.0,1129.4 L2065.4,1131.1 L2065.8,1128.3 L2066.2,1129.3 L2066.6,1128.2 L2067.0,1126.9 L2067.4,1129.2 L2067.8,1126.1 L2068.2,1135.9 L2068.6,1126.3 L2069.0,1135.8 L2069.4,1130.9 L2069.8,1132.7 L2070.2,1134.3 L2070.6,1124.1 L2071.0,1134.5 L2071.4,1130.5 L2071.8,1127.0 L2072.2,1125.7 L2072.6,1129.2 L2073.0,1122.5 L2073.4,1133.0 L2073.8,1126.2 L2074.2,1128.9 L2074.6,1126.3 L2075.0,1124.3 L2075.4,1124.0 L2075.8,1122.2 L2076.2,1128.8 L2076.6,1124.6 L2077.0,1126.0 L2077.4,1125.6 L2077.8,1126.1 L2078.2,1125.2 L2078.6,1127.6 L2079.0,1121.2 L2079.4,1119.8 L2079.8,1122.5 L2080.2,1121.6 L2080.6,1122.7 L2081.0,1126.1 L2081.4,1125.1 L2081.8,1123.7 L2082.2,1119.2 L2082.6,1122.9 L2083.0,1121.5 L2083.4,1123.2 L2083.8,1120.5 L2084.2,1118.9 L2084.6,1120.5 L2085.0,1117.7 L2085.4,1116.9 L2085.8,1120.2 L2086.2,1119.3 L2086.6,1122.6 L2087.0,1119.7 L2087.4,1115.4 L2087.8,1123.6 L2088.2,1124.4 L2088.6,1115.7 L2089.0,1117.3 L2089.4,1122.2 L2089.8,1119.8 L2090.2,1114.3 L2090.6,1122.8 L2091.0,1119.5 L2091.4,1120.3 L2091.8,1122.9 L2092.2,1117.3 L2092.6,1117.3 L2093.0,1121.6 L2093.4,1122.8 L2093.8,1120.5 L2094.2,1124.1 L2094.6,1121.8 L2095.0,1124.3 L2095.4,1118.3 L2095.8,1120.7 L2096.2,1124.7 L2096.6,1118.7 L2097.0,1118.9 L2097.4,1121.8 L2097.8,1120.6 L2098.2,1118.5 L2098.6,1116.2 L2099.0,1125.9 L2099.4,1121.7 L2099.8,1126.1 L2100.2,1118.7 L2100.6,1121.5 L2101.0,1120.9 L2101.4,1121.8 L2101.8,1116.7 L2102.2,1125.7 L2102.6,1120.9 L2103.0,1122.6 L2103.4,1118.9 L2103.8,1126.9 L2104.2,1117.3 L2104.6,1127.9 L2105.0,1121.0 L2105.4,1121.2 L2105.8,1120.1 L2106.2,1126.8 L2106.6,1119.6 L2107.0,1119.5 L2107.4,1119.2 L2107.8,1123.4 L2108.2,1123.1 L2108.6,1119.0 L2109.0,1122.8 L2109.4,1125.7 L2109.8,1122.6 L2110.2,1121.1 L2110.6,1116.1 L2111.0,1123.8 L2111.4,1120.5 L2111.8,1113.4 L2112.2,1115.1 L2112.6,1110.9 L2113.0,1117.4 L2113.4,1111.3 L2113.8,1113.6 L2114.2,1118.0 L2114.6,1108.3 L2115.0,1114.9 L2115.4,1110.4 L2115.8,1107.5 L2116.2,1114.1 L2116.6,1110.9 L2117.0,1106.8 L2117.4,1110.0 L2117.8,1105.7 L2118.2,1103.9 L2118.6,1104.6 L2119.0,1108.0 L2119.4,1098.8 L2119.8,1099.1 L2120.2,1105.2 L2120.6,1097.2 L2121.0,1100.4 L2121.4,1099.4 L2121.8,1095.5 L2122.2,1096.8 L2122.6,1098.3 L2123.0,1098.1 L2123.4,1100.0 L2123.8,1098.2 L2124.2,1099.9 L2124.6,1097.4 L2125.0,1095.5 L2125.4,1097.9 L2125.8,1097.1 L2126.2,1097.8 L2126.6,1095.7 L2127.0,1095.6 L2127.4,1095.6 L2127.8,1094.2 L2128.2,1096.0 L2128.6,1095.1 L2129.0,1095.3 L2129.4,1096.0 L2129.8,1099.2 L2130.2,1096.9 L2130.6,1101.4 L2131.0,1096.6 L2131.4,1100.4 L2131.8,1106.6 L2132.2,1103.5 L2132.6,1105.0 L2133.0,1103.3 L2133.4,1101.0 L2133.8,1109.1 L2134.2,1111.6 L2134.6,1113.2 L2135.0,1117.0 L2135.4,1112.0 L2135.8,1115.0 L2136.2,1108.2 L2136.6,1113.2 L2137.0,1115.0 L2137.4,1118.9 L2137.8,1121.1 L2138.2,1120.7 L2138.6,1117.6 L2139.0,1116.1 L2139.4,1116.8 L2139.8,1117.5 L2140.2,1118.2 L2140.6,1121.8 L2141.0,1117.9 L2141.4,1113.5 L2141.8,1115.4 L2142.2,1125.2 L2142.6,1124.0 L2143.0,1118.0 L2143.4,1118.7 L2143.8,1121.9 L2144.2,1120.6 L2144.6,1120.8 L2145.0,1114.1 L2145.4,1115.3 L2145.8,1119.9 L2146.2,1121.4 L2146.6,1119.9 L2147.0,1123.6 L2147.4,1118.7 L2147.8,1119.0 L2148.2,1117.9 L2148.6,1120.3 L2149.0,1114.6 L2149.4,1121.8 L2149.8,1112.5 L2150.2,1118.2 L2150.6,1117.8 L2151.0,1120.3 L2151.4,1111.3 L2151.8,1111.7 L2152.2,1113.1 L2152.6,1115.9 L2153.0,1116.2 L2153.4,1107.5 L2153.8,1111.7 L2154.2,1113.4 L2154.6,1113.8 L2155.0,1113.6 L2155.4,1111.7 L2155.8,1112.5 L2156.2,1105.8 L2156.6,1114.0 L2157.0,1105.4 L2157.4,1110.8 L2157.8,1108.3 L2158.2,1111.9 L2158.6,1107.8 L2159.0,1113.3 L2159.4,1111.5 L2159.8,1112.0 L2160.2,1113.2 L2160.6,1113.4 L2161.0,1108.8 L2161.4,1111.6 L2161.8,1110.6 L2162.2,1111.2 L2162.6,1109.2 L2163.0,1103.0 L2163.4,1107.9 L2163.8,1108.6 L2164.2,1106.8 L2164.6,1106.2 L2165.0,1108.8 L2165.4,1106.3 L2165.8,1110.6 L2166.2,1112.6 L2166.6,1108.9 L2167.0,1111.8 L2167.4,1105.7 L2167.8,1106.6 L2168.2,1109.1 L2168.6,1107.5 L2169.0,1111.2 L2169.4,1112.0 L2169.8,1117.3 L2170.2,1111.2 L2170.6,1116.9 L2171.0,1110.0 L2171.4,1112.7 L2171.8,1116.4 L2172.2,1115.3 L2172.6,1108.9 L2173.0,1114.7 L2173.4,1116.6 L2173.8,1110.7 L2174.2,1114.6 L2174.6,1115.4 L2175.0,1117.7 L2175.4,1120.8 L2175.8,1113.0 L2176.2,1114.7 L2176.6,1122.9 L2177.0,1122.1 L2177.4,1124.2 L2177.8,1118.9 L2178.2,1122.3 L2178.6,1113.9 L2179.0,1121.1 L2179.4,1117.1 L2179.8,1115.8 L2180.2,1117.3 L2180.6,1123.9 L2181.0,1125.6 L2181.4,1120.0 L2181.8,1120.9 L2182.2,1126.0 L2182.6,1120.4 L2183.0,1123.8 L2183.4,1125.2 L2183.8,1127.6 L2184.2,1123.3 L2184.6,1118.9 L2185.0,1124.3 L2185.4,1127.4 L2185.8,1124.0 L2186.2,1124.1 L2186.6,1123.2 L2187.0,1127.9 L2187.4,1127.4 L2187.8,1128.0 L2188.2,1127.4 L2188.6,1131.7 L2189.0,1129.0 L2189.4,1128.0 L2189.8,1124.9 L2190.2,1127.2 L2190.6,1128.6 L2191.0,1133.5 L2191.4,1131.0 L2191.8,1128.8 L2192.2,1132.3 L2192.6,1132.2 L2193.0,1129.2 L2193.4,1132.0 L2193.8,1127.4 L2194.2,1131.4 L2194.6,1137.0 L2195.0,1134.2 L2195.4,1133.3 L2195.8,1134.4 L2196.2,1134.1 L2196.6,1128.3 L2197.0,1130.5 L2197.4,1129.7 L2197.8,1133.3 L2198.2,1134.8 L2198.6,1137.9 L2199.0,1132.0 L2199.4,1128.9 L2199.8,1133.5 L2200.2,1132.5 L2200.6,1133.6 L2201.0,1132.9 L2201.4,1134.5 L2201.8,1131.1 L2202.2,1133.7 L2202.6,1135.9 L2203.0,1133.4 L2203.4,1134.5 L2203.8,1130.9 L2204.2,1135.1 L2204.6,1132.3 L2205.0,1130.6 L2205.4,1132.0 L2205.8,1131.6 L2206.2,1132.6 L2206.6,1131.3 L2207.0,1138.4 L2207.4,1136.0 L2207.8,1134.6 L2208.2,1134.4 L2208.6,1132.9 L2209.0,1135.9 L2209.4,1132.7 L2209.8,1133.2 L2210.2,1131.1 L2210.6,1137.1 L2211.0,1136.9 L2211.4,1136.7 L2211.8,1136.4 L2212.2,1127.2 L2212.6,1133.3 L2213.0,1136.0 L2213.4,1134.4 L2213.8,1128.3 L2214.2,1134.2 L2214.6,1135.4 L2215.0,1131.6 L2215.4,1129.7 L2215.8,1131.5 L2216.2,1127.6 L2216.6,1134.0 L2217.0,1130.7 L2217.4,1132.4 L2217.8,1132.9 L2218.2,1133.2 L2218.6,1138.2 L2219.0,1130.2 L2219.4,1131.8 L2219.8,1126.7 L2220.2,1129.8 L2220.6,1126.1 L2221.0,1133.5 L2221.4,1130.6 L2221.8,1128.4 L2222.2,1132.6 L2222.6,1126.5 L2223.0,1128.4 L2223.4,1126.0 L2223.8,1125.2 L2224.2,1126.9 L2224.6,1125.5 L2225.0,1126.4 L2225.4,1123.1 L2225.8,1121.2 L2226.2,1129.4 L2226.6,1125.9 L2227.0,1123.5 L2227.4,1125.1 L2227.8,1121.1 L2228.2,1125.2 L2228.6,1119.5 L2229.0,1125.1 L2229.4,1124.3 L2229.8,1122.6 L2230.2,1124.8 L2230.6,1122.3 L2231.0,1127.6 L2231.4,1124.2 L2231.8,1117.4 L2232.2,1119.0 L2232.6,1127.0 L2233.0,1120.0 L2233.4,1122.7 L2233.8,1119.8 L2234.2,1126.2 L2234.6,1124.7 L2235.0,1123.6 L2235.4,1119.7 L2235.8,1120.4 L2236.2,1125.4 L2236.6,1119.4 L2237.0,1115.5 L2237.4,1126.2 L2237.8,1125.0 L2238.2,1118.7 L2238.6,1123.9 L2239.0,1125.4 L2239.4,1125.2 L2239.8,1130.1 L2240.2,1129.6 L2240.6,1123.8 L2241.0,1126.4 L2241.4,1130.3 L2241.8,1131.2 L2242.2,1127.6 L2242.6,1132.5 L2243.0,1127.0 L2243.4,1132.6 L2243.8,1125.2 L2244.2,1132.6 L2244.6,1137.3 L2245.0,1136.8 L2245.4,1130.3 L2245.8,1127.6 L2246.2,1134.6 L2246.6,1137.7 L2247.0,1135.1 L2247.4,1135.6 L2247.8,1130.9 L2248.2,1133.6 L2248.6,1131.6 L2249.0,1131.7 L2249.4,1134.3 L2249.8,1140.5 L2250.2,1137.5 L2250.6,1134.3 L2251.0,1136.2 L2251.4,1134.2 L2251.8,1135.5 L2252.2,1137.9 L2252.6,1132.8 L2253.0,1138.7 L2253.4,1136.0 L2253.8,1141.4 L2254.2,1135.4 L2254.6,1138.8 L2255.0,1135.7 L2255.4,1140.3 L2255.8,1133.5 L2256.2,1137.2 L2256.6,1136.3 L2257.0,1134.2 L2257.4,1138.3 L2257.8,1138.8 L2258.2,1137.2 L2258.6,1136.1 L2259.0,1137.2 L2259.4,1137.2 L2259.8,1142.6 L2260.2,1141.4 L2260.6,1144.1 L2261.0,1143.1 L2261.4,1146.1 L2261.8,1140.8 L2262.2,1141.5 L2262.6,1141.3 L2263.0,1140.1 L2263.4,1143.4 L2263.8,1142.6 L2264.2,1143.0 L2264.6,1142.3 L2265.0,1144.8 L2265.4,1137.4 L2265.8,1143.5 L2266.2,1141.6 L2266.6,1139.9 L2267.0,1140.9 L2267.4,1143.5 L2267.8,1144.6 L2268.2,1141.5 L2268.6,1144.6 L2269.0,1143.5 L2269.4,1145.7 L2269.8,1145.6 L2270.2,1145.2 L2270.6,1141.9 L2271.0,1139.5 L2271.4,1147.2 L2271.8,1140.6 L2272.2,1146.0 L2272.6,1143.9 L2273.0,1148.7 L2273.4,1143.2 L2273.8,1142.7 L2274.2,1138.0 L2274.6,1145.9 L2275.0,1144.3 L2275.4,1142.5 L2275.8,1142.9 L2276.2,1148.2 L2276.6,1145.5 L2277.0,1147.0 L2277.4,1143.9 L2277.8,1145.8 L2278.2,1147.8 L2278.6,1144.6 L2279.0,1149.3 L2279.4,1144.7 L2279.8,1150.8 L2280.2,1144.1 L2280.6,1144.6 L2281.0,1146.4 L2281.4,1145.1 L2281.8,1145.7 L2282.2,1146.1 L2282.6,1149.9 L2283.0,1144.7 L2283.4,1149.7 L2283.8,1148.9 L2284.2,1146.9 L2284.6,1145.9 L2285.0,1151.6 L2285.4,1140.4 L2285.8,1145.3 L2286.2,1146.2 L2286.6,1148.3 L2287.0,1147.0 L2287.4,1149.6 L2287.8,1148.6 L2288.2,1150.4" fill="none" stroke="#ff0000" stroke-width="6.5" stroke-linejoin="bevel"/>
<g id="pb0"><polygon points="1046.6,1004.3 1062.5,1020.2 1046.6,1036.1 1030.7,1020.2" fill="#00c000" stroke="#000" stroke-width="11.6" stroke-linejoin="miter"/><polygon points="1699.3,1004.3 1715.2,1020.2 1699.3,1036.1 1683.4,1020.2" fill="#00c000" stroke="#000" stroke-width="11.6" stroke-linejoin="miter"/><polygon points="2267.4,1004.3 2283.3,1020.2 2267.4,1036.1 2251.5,1020.2" fill="#00c000" stroke="#000" stroke-width="11.6" stroke-linejoin="miter"/></g>
<rect x="1008.5" y="985.5" width="85" height="176" fill="none" stroke="#000" stroke-width="17"/>
<rect x="1656.5" y="985.5" width="85" height="176" fill="none" stroke="#000" stroke-width="17"/>
<rect x="2225.5" y="985.5" width="85" height="176" fill="none" stroke="#000" stroke-width="17"/>
<rect x="66" y="1189" width="2231" height="17" fill="#000"/>
<rect x="66.0" y="1189" width="17" height="57" fill="#000"/>
<rect x="212.0" y="1189" width="17" height="57" fill="#000"/>
<rect x="359.7" y="1189" width="17" height="57" fill="#000"/>
<rect x="507.4" y="1189" width="17" height="57" fill="#000"/>
<rect x="655.1" y="1189" width="17" height="57" fill="#000"/>
<rect x="802.8" y="1189" width="17" height="57" fill="#000"/>
<rect x="950.6" y="1189" width="17" height="57" fill="#000"/>
<rect x="1098.3" y="1189" width="17" height="57" fill="#000"/>
<rect x="1246.0" y="1189" width="17" height="57" fill="#000"/>
<rect x="1393.7" y="1189" width="17" height="57" fill="#000"/>
<rect x="1541.4" y="1189" width="17" height="57" fill="#000"/>
<rect x="1689.1" y="1189" width="17" height="57" fill="#000"/>
<rect x="1836.8" y="1189" width="17" height="57" fill="#000"/>
<rect x="1984.5" y="1189" width="17" height="57" fill="#000"/>
<rect x="2132.2" y="1189" width="17" height="57" fill="#000"/>
<rect x="2279.9" y="1189" width="17" height="57" fill="#000"/>
<g font-family="'Liberation Serif', serif" font-weight="bold" font-size="91" text-anchor="middle">
<text x="72.6" y="1355">15</text>
<text x="220.5" y="1355">20</text>
<text x="368.2" y="1355">25</text>
<text x="515.9" y="1355">30</text>
<text x="663.6" y="1355">35</text>
<text x="811.3" y="1355">40</text>
<text x="959.1" y="1355">45</text>
<text x="1106.8" y="1355">50</text>
<text x="1254.5" y="1355">55</text>
<text x="1402.2" y="1355">60</text>
<text x="1549.9" y="1355">65</text>
<text x="1697.6" y="1355">70</text>
<text x="1845.3" y="1355">75</text>
<text x="1993.0" y="1355">80</text>
<text x="2140.7" y="1355">85</text>
<text x="2288.4" y="1355">90</text>
</g>
<text x="690" y="1484.4" font-family="'Liberation Sans', sans-serif" font-weight="bold" font-size="69" letter-spacing="4.1" id="xt">Position (2<tspan font-family="'Liberation Serif', serif" font-weight="normal">θ</tspan>) <tspan font-weight="normal" font-size="80" dy="12">°</tspan><tspan dy="-12" dx="-6" letter-spacing="4.35"> (Cobalt(Co))</tspan></text>
<rect x="1741.5" y="39.5" width="510.5" height="697.5" fill="#fff" stroke="#000" stroke-width="17"/>
<rect x="1784" y="111" width="114" height="6" fill="#ff0000"/>
<rect x="1784" y="255" width="114" height="6" fill="#0000ff"/>
<polygon points="1824.6,386.0 1856.4,386.0 1840.5,417.8" fill="#006400" stroke="#000" stroke-width="12.15" stroke-linejoin="bevel"/>
<polygon points="1841.0,519.8 1856.9,535.7 1841.0,551.6 1825.1,535.7" fill="#fff" stroke="#ff8000" stroke-width="11.6" stroke-linejoin="miter"/>
<polygon points="1841.0,647.9 1856.9,663.8 1841.0,679.7 1825.1,663.8" fill="#00c000" stroke="#000" stroke-width="11.6" stroke-linejoin="miter"/>
<g font-family="'Liberation Serif', serif" font-size="78" letter-spacing="3.5">
<text x="1961" y="143.4" id="l1">Run 1</text>
<text x="1961" y="287.4" id="l2">Run 2</text>
<text x="1961" y="430.7" id="l3">PbS</text>
<text x="1961" y="558.5" id="l4">PbSO<tspan font-size="55" dy="18.5">4</tspan></text>
<text x="1961" y="700" id="l5">Pb<tspan font-size="57" dy="-35" dx="2">0</tspan></text>
</g>
</svg>
</body></html>
